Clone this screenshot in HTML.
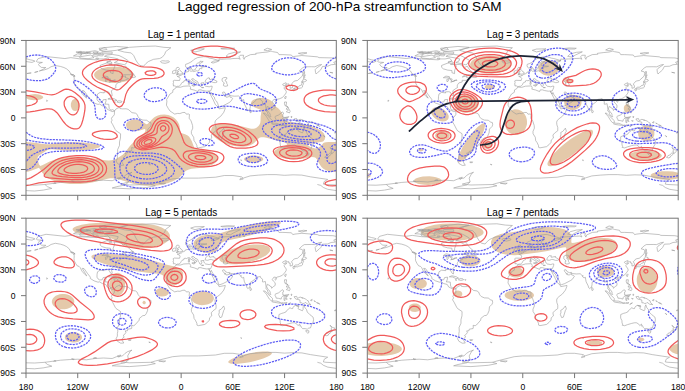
<!DOCTYPE html>
<html><head><meta charset="utf-8"><style>
html,body{margin:0;padding:0;background:#fff;}
svg{display:block;}
text{font-family:"Liberation Sans",sans-serif;fill:#000;}
.lab{font-size:8.6px;}
.pt{font-size:10px;}
.tt{font-size:13.6px;}
.tk{stroke:#767676;stroke-width:1;}
</style></head><body>
<svg width="685" height="391" viewBox="0 0 685 391">
<rect width="685" height="391" fill="#fff"/>
<g>
<text x="339.5" y="11.3" class="tt" text-anchor="middle">Lagged regression of 200-hPa streamfunction to SAM</text>
<clipPath id="c0"><rect x="0" y="0" width="310" height="155"/></clipPath>
<g transform="translate(26,40.45) scale(1.00097,0.99903)"><g clip-path="url(#c0)">
<path d="M113.1 144.7 L120.1 145.4 L127.9 145.4 L131.8 145.1 L135.6 144.5 L142.1 142.8 L147.2 140.8 L151.7 138.2 L154.8 135.6 L158.9 131.3 L159.8 130.5 L161.5 129.6 L162.8 129.1 L165.3 128.5 L175.7 127.4 L178.2 127.0 L182.1 126.0 L184.7 125.1 L187.3 123.7 L188.7 122.7 L189.9 121.6 L190.9 120.1 L191.3 118.8 L191.3 117.5 L191.0 116.2 L190.3 115.0 L189.1 113.7 L187.3 112.3 L183.4 110.6 L180.8 109.9 L177.0 109.2 L170.5 108.6 L169.2 108.1 L168.2 107.2 L167.5 105.9 L165.7 100.8 L164.0 97.8 L162.8 96.2 L161.5 95.2 L158.9 94.0 L155.6 93.0 L155.0 92.5 L154.5 91.7 L154.1 90.4 L153.3 85.2 L152.9 84.0 L151.6 81.4 L149.8 79.1 L148.5 77.9 L147.2 76.9 L144.7 75.5 L142.1 74.6 L138.2 74.0 L134.3 74.4 L131.8 75.1 L129.5 76.2 L127.9 77.2 L126.0 78.8 L122.7 82.5 L121.4 83.6 L120.1 83.8 L116.7 81.4 L115.0 80.5 L112.4 79.5 L111.1 79.3 L108.5 79.1 L105.9 79.4 L103.3 80.3 L102.0 81.1 L100.5 82.7 L99.9 84.0 L99.9 85.2 L100.3 86.5 L101.2 87.8 L102.9 89.1 L104.6 89.9 L105.9 90.3 L109.8 90.7 L113.7 90.1 L117.5 88.9 L118.8 88.7 L119.2 89.1 L119.3 90.4 L118.8 91.7 L116.6 94.3 L109.8 99.8 L105.9 103.3 L103.6 105.9 L99.5 111.4 L96.9 114.1 L94.3 116.0 L90.4 118.3 L87.8 119.3 L85.2 120.0 L82.7 120.2 L78.8 120.0 L63.3 117.3 L56.8 116.5 L49.1 116.2 L42.6 116.5 L38.8 116.9 L34.9 117.6 L28.4 119.3 L23.1 121.4 L16.8 124.6 L14.2 125.6 L12.9 123.9 L11.9 120.1 L11.6 117.5 L12.0 116.2 L13.3 115.0 L20.7 110.1 L22.0 109.5 L23.2 109.1 L25.8 108.9 L42.6 110.3 L49.1 110.4 L55.5 110.2 L63.3 109.5 L68.9 108.5 L73.1 107.2 L74.2 105.9 L72.5 104.6 L68.5 103.6 L63.3 102.8 L56.8 102.2 L47.8 102.0 L38.8 102.2 L32.3 102.7 L23.2 103.9 L20.7 104.0 L16.8 103.6 L9.0 102.4 L0.0 101.7 L0.0 131.6 L2.6 131.1 L5.0 130.5 L11.6 127.8 L12.9 127.5 L14.2 129.2 L15.7 131.8 L17.7 134.3 L20.7 136.9 L22.7 138.2 L27.1 140.3 L31.0 141.5 L36.2 142.7 L40.0 143.3 L43.9 143.7 L49.1 143.8 L54.2 143.7 L59.4 143.2 L63.3 142.7 L68.5 141.6 L81.4 138.4 L84.0 138.0 L86.5 137.9 L89.1 138.1 L91.7 138.7 L104.6 142.8 L108.5 143.8 L113.1 144.7Z M300.8 130.5 L302.2 131.0 L304.8 131.6 L307.4 131.7 L310.0 131.6 L310.0 101.7 L302.2 101.6 L299.7 101.8 L298.4 102.1 L297.1 102.7 L295.6 104.6 L293.2 106.7 L291.9 107.5 L290.6 107.9 L289.3 108.1 L288.0 107.9 L285.7 107.2 L282.9 105.9 L281.6 104.6 L284.4 103.3 L295.8 101.5 L297.1 101.0 L298.4 99.2 L298.9 96.9 L298.7 95.6 L298.2 94.3 L297.4 93.0 L296.2 91.7 L294.7 90.4 L292.7 89.1 L289.3 87.4 L285.5 85.9 L281.6 84.7 L276.4 83.4 L270.0 82.3 L263.2 81.4 L260.9 80.8 L259.1 80.1 L257.8 78.8 L257.1 77.5 L256.1 73.6 L255.5 72.3 L253.8 69.8 L251.9 67.9 L249.1 65.9 L248.0 64.6 L246.3 62.0 L245.1 60.7 L243.2 59.4 L241.5 58.7 L239.0 58.0 L236.4 57.7 L233.8 57.7 L231.2 58.1 L228.6 58.8 L227.3 59.4 L225.7 60.7 L224.9 62.0 L224.8 63.3 L225.3 64.6 L226.6 65.9 L228.6 67.1 L232.3 68.5 L233.8 69.2 L234.7 69.8 L235.2 71.0 L234.4 76.2 L234.3 80.1 L234.0 82.7 L233.5 84.0 L232.5 85.4 L231.2 86.7 L229.9 87.6 L228.6 88.2 L227.3 88.4 L224.8 88.3 L209.2 84.3 L202.8 83.3 L197.6 83.1 L195.0 83.2 L192.5 83.7 L189.9 84.4 L188.6 85.0 L186.4 86.5 L185.5 87.8 L185.0 89.1 L184.9 90.4 L185.1 91.7 L186.3 94.3 L188.5 96.9 L191.2 99.0 L195.0 101.4 L198.9 103.1 L202.8 104.4 L208.0 105.6 L213.1 106.2 L217.0 106.3 L220.9 105.8 L223.5 105.1 L226.0 104.0 L227.3 103.2 L228.7 102.0 L232.5 97.8 L233.8 97.1 L235.1 96.8 L237.7 97.0 L240.2 97.5 L257.6 102.0 L260.9 103.3 L260.4 104.6 L254.5 106.8 L251.9 108.0 L249.1 109.8 L248.0 111.1 L247.7 112.4 L248.2 113.7 L249.5 115.0 L251.9 116.2 L255.8 117.5 L259.6 118.3 L264.8 118.8 L270.0 118.8 L273.8 118.6 L277.7 118.1 L285.5 116.7 L288.0 116.9 L289.3 117.5 L290.6 118.8 L293.3 124.0 L295.2 126.6 L297.1 128.4 L298.4 129.3 L300.8 130.5Z M221.0 121.4 L223.5 122.1 L226.0 122.3 L228.6 122.3 L231.2 122.1 L232.5 121.8 L235.1 120.8 L236.3 120.1 L237.1 118.8 L236.4 117.4 L235.1 116.6 L232.5 115.7 L228.6 115.2 L226.0 115.2 L223.5 115.5 L222.2 115.8 L219.6 116.8 L218.4 117.5 L217.8 118.8 L218.5 120.1 L221.0 121.4Z M46.9 69.8 L47.8 70.4 L49.1 70.7 L50.4 70.4 L51.7 69.4 L52.4 68.5 L53.0 67.2 L53.3 65.9 L53.5 64.6 L53.3 63.3 L53.0 62.0 L52.4 60.7 L51.7 59.7 L50.4 58.8 L49.1 58.5 L47.8 58.8 L46.5 59.7 L45.8 60.7 L45.2 62.0 L44.8 63.3 L44.8 65.9 L45.8 68.5 L46.9 69.8Z M4.2 59.4 L7.8 59.9 L11.6 59.7 L14.2 59.1 L15.5 58.6 L16.4 58.1 L17.3 56.8 L16.4 55.5 L14.2 54.5 L12.9 54.2 L9.0 53.7 L5.2 54.0 L2.6 54.7 L1.3 55.3 L0.8 55.5 L0.0 56.8 L0.8 58.1 L2.6 59.0 L4.2 59.4Z M310.0 56.8 L310.0 56.8Z M87.8 42.6 L93.0 42.4 L96.9 41.7 L100.8 40.7 L103.3 39.5 L105.9 37.8 L107.2 36.2 L107.6 34.9 L107.5 33.6 L106.9 32.3 L105.8 31.0 L104.6 30.1 L101.2 28.4 L96.9 27.2 L91.7 26.4 L86.5 26.3 L81.4 26.7 L76.2 27.8 L72.3 29.4 L69.9 31.0 L68.7 32.3 L68.1 33.6 L68.0 34.9 L68.5 36.2 L69.8 37.8 L71.0 38.8 L73.4 40.0 L77.5 41.4 L82.7 42.4 L87.8 42.6Z" fill="#e4c9aa" stroke="none" fill-rule="evenodd"/>
<path d="M10.3 21.0 L12.1 18.2 L20.0 16.1 L38.8 18.1 L44.8 17.2 L54.2 18.5 L70.6 19.4 L73.2 18.5 L77.5 18.5 L81.8 17.7 L84.4 20.2 L80.9 22.4 L74.1 25.0 L74.1 26.9 L75.8 28.4 L80.1 29.7 L84.4 30.1 L84.4 32.3 L87.0 33.2 L87.1 30.1 L88.7 25.8 L87.8 23.9 L92.1 24.1 L95.2 25.0 L97.3 27.1 L99.5 25.6 L102.0 29.3 L105.9 32.7 L106.8 33.2 L103.3 34.3 L97.7 34.3 L94.7 36.6 L99.5 35.5 L99.0 37.0 L102.5 38.2 L98.2 40.0 L94.5 39.9 L94.7 41.5 L91.3 42.5 L90.0 44.3 L89.6 45.6 L90.0 47.1 L87.8 48.4 L85.2 50.4 L86.1 54.7 L85.8 55.8 L84.6 55.1 L82.7 51.7 L80.9 51.3 L77.9 51.5 L78.1 52.5 L74.1 52.0 L71.5 53.6 L71.0 56.0 L70.9 59.0 L71.9 60.7 L73.6 61.8 L76.2 61.6 L77.1 59.4 L80.1 59.0 L79.7 61.6 L78.8 63.7 L82.7 63.9 L83.1 68.0 L84.8 69.8 L86.5 69.3 L88.3 70.2 L88.4 70.7 L86.1 71.2 L81.2 68.9 L79.7 66.3 L76.2 65.4 L73.6 63.7 L71.9 64.0 L68.0 62.7 L64.2 60.3 L64.3 59.0 L61.6 55.5 L58.0 50.4 L56.2 50.2 L60.7 57.7 L58.6 56.1 L56.0 53.1 L54.2 49.5 L53.0 48.2 L51.2 47.7 L49.5 45.2 L48.2 42.6 L48.0 40.5 L48.2 37.6 L47.6 35.8 L49.1 35.7 L47.4 34.4 L44.8 33.6 L43.1 30.6 L40.5 28.4 L37.9 27.1 L34.4 26.0 L29.3 25.1 L25.0 26.3 L22.4 28.0 L18.9 29.3 L13.3 30.6 L17.2 28.8 L19.8 27.1 L15.5 27.0 L13.3 25.4 L12.5 24.1 L13.3 23.0 L16.4 22.0 L11.6 21.7 L10.3 21.0 M92.1 9.9 L97.3 8.2 L103.3 6.9 L116.2 6.0 L129.2 5.6 L137.8 6.9 L144.7 7.3 L139.5 11.2 L138.6 13.8 L136.1 16.8 L133.5 18.1 L127.4 18.9 L122.3 21.1 L119.7 23.2 L117.5 25.8 L113.7 25.0 L111.5 22.4 L109.8 19.8 L107.6 15.1 L105.1 12.5 L98.2 11.6 L92.1 9.9 M101.8 20.2 L99.5 23.7 L98.2 24.3 L88.3 22.1 L91.3 20.7 L92.1 18.5 L88.7 17.7 L78.4 15.9 L80.9 14.6 L86.1 14.0 L93.0 15.1 L96.4 16.8 L101.6 19.8 L101.8 20.2 M77.5 11.2 L90.4 9.9 L101.6 6.9 L90.4 6.0 L77.5 7.3 L73.2 9.5 L77.5 11.2 M53.4 16.4 L64.6 14.6 L68.0 17.2 L62.0 18.3 L54.2 17.7 L53.4 16.4 M47.4 15.5 L51.7 13.3 L56.0 14.2 L53.4 15.9 L47.4 15.5 M75.8 11.6 L86.1 11.6 L86.1 13.3 L75.8 13.3 L75.8 11.6 M60.3 11.6 L68.9 10.3 L72.3 11.2 L70.6 12.9 L64.6 12.9 L60.3 11.6 M51.7 12.1 L57.7 11.2 L62.0 12.5 L56.8 13.3 L51.7 12.1 M80.9 22.6 L86.1 22.8 L84.4 20.8 L80.9 21.1 L80.9 22.6 M103.9 36.5 L106.8 34.9 L107.2 33.2 L109.5 36.6 L107.2 37.2 L103.9 36.5 M88.4 70.6 L90.0 68.5 L92.1 67.6 L93.4 66.8 L93.9 68.2 L96.4 68.5 L99.9 68.4 L102.0 68.9 L105.9 72.3 L109.4 72.8 L111.1 74.1 L111.9 76.2 L112.8 77.5 L113.7 78.4 L116.7 79.7 L120.6 79.9 L123.1 81.8 L124.7 82.2 L125.0 84.4 L124.4 86.1 L121.8 88.7 L121.4 92.6 L120.1 95.6 L118.8 97.3 L116.7 97.5 L113.2 100.3 L113.1 102.0 L108.9 106.8 L107.6 107.6 L105.5 107.2 L105.7 108.9 L105.5 110.4 L101.6 111.1 L101.4 112.6 L99.0 112.8 L99.9 114.1 L98.6 116.2 L96.9 117.5 L98.2 118.7 L95.6 121.0 L96.2 122.5 L97.7 124.9 L94.7 125.1 L91.3 123.1 L90.0 120.6 L91.3 118.0 L91.3 115.4 L91.7 113.2 L91.5 109.4 L93.4 105.1 L93.4 101.6 L94.4 97.7 L94.5 93.4 L90.0 90.4 L89.1 89.1 L86.5 84.0 L85.0 81.6 L86.1 79.7 L85.3 78.4 L86.1 76.6 L87.1 76.0 L88.3 74.1 L88.4 70.6 M149.9 46.7 L154.1 46.9 L157.6 45.8 L163.6 45.5 L164.5 47.4 L164.0 48.7 L167.9 49.6 L171.8 51.2 L172.4 49.5 L174.8 49.5 L176.5 50.1 L180.4 50.8 L182.8 50.6 L183.0 51.8 L187.0 59.4 L189.2 64.2 L192.3 67.0 L192.9 68.5 L199.1 67.3 L198.9 68.5 L197.6 71.9 L194.6 75.8 L191.2 78.4 L189.4 80.1 L188.8 81.8 L189.0 84.4 L189.9 87.0 L189.9 90.4 L186.9 92.6 L185.1 94.7 L185.6 97.7 L183.4 99.7 L183.2 102.0 L181.3 104.2 L178.7 106.3 L172.2 107.5 L170.8 107.0 L170.7 105.1 L169.2 102.1 L167.9 100.3 L167.5 96.9 L165.3 93.4 L165.2 91.1 L166.6 87.8 L166.4 85.1 L164.9 80.5 L163.0 77.9 L163.3 74.1 L162.3 73.6 L160.2 73.8 L158.9 72.1 L156.7 72.1 L153.7 73.2 L151.6 73.0 L148.5 73.7 L143.8 70.6 L142.1 68.0 L140.3 64.8 L140.8 60.7 L140.4 59.4 L143.8 53.6 L146.6 51.9 L146.8 49.5 L149.1 48.2 L149.9 46.7 M197.5 87.8 L198.5 90.8 L197.6 92.1 L195.5 99.0 L193.8 99.5 L192.5 96.4 L193.1 94.3 L192.9 92.1 L195.0 91.0 L197.5 87.8 M150.2 46.5 L149.6 45.8 L148.5 45.5 L147.2 45.6 L147.4 44.2 L146.8 43.9 L147.4 42.2 L147.0 40.5 L148.1 39.9 L153.4 40.1 L154.0 37.9 L153.1 36.9 L151.0 35.9 L153.7 35.6 L153.6 34.8 L155.2 34.9 L156.4 33.7 L157.6 33.4 L158.9 32.7 L159.3 31.7 L162.5 31.1 L162.4 29.7 L162.1 28.6 L164.1 27.8 L164.0 28.8 L163.6 30.1 L164.5 30.8 L166.6 30.7 L167.5 31.2 L170.5 30.3 L171.8 30.7 L173.1 29.7 L173.1 28.4 L173.9 27.9 L175.5 28.4 L175.9 27.1 L175.2 26.5 L179.1 26.3 L180.8 25.8 L176.5 25.5 L174.4 25.8 L173.5 25.0 L173.5 23.2 L176.5 21.5 L177.0 21.1 L173.9 20.8 L173.3 22.1 L171.4 22.8 L170.1 23.8 L170.1 25.2 L171.2 26.0 L169.2 28.4 L169.2 29.1 L167.2 29.8 L166.0 29.6 L165.8 28.8 L164.7 27.1 L164.0 26.4 L161.0 27.6 L159.7 26.7 L159.3 25.0 L159.5 23.9 L161.9 23.1 L164.0 22.0 L166.2 20.7 L167.9 18.9 L171.4 17.2 L177.2 16.3 L179.5 16.4 L181.7 17.0 L183.4 17.7 L186.0 18.1 L193.1 20.2 L187.7 20.6 L185.0 22.0 L186.9 22.6 L189.4 21.9 L192.7 20.6 L192.9 18.5 L195.0 18.9 L200.6 18.5 L204.1 18.5 L206.7 18.1 L211.8 17.9 L214.0 18.8 L212.7 16.4 L214.0 14.8 L217.4 14.8 L217.0 17.2 L217.9 18.9 L218.7 16.8 L224.3 14.2 L229.9 13.8 L229.5 12.9 L235.9 12.1 L241.1 11.6 L244.8 10.6 L246.3 11.2 L251.4 12.1 L252.7 14.2 L256.6 14.2 L265.2 14.6 L266.5 16.4 L268.7 15.9 L275.6 15.1 L291.1 16.4 L292.8 17.2 L306.6 17.5 L310.0 18.2 M310.0 21.1 L307.4 21.8 L309.1 23.9 L304.8 24.3 L301.4 25.8 L296.2 26.0 L294.5 29.3 L292.8 31.0 L291.5 31.9 L289.9 33.6 L289.3 32.3 L288.9 29.3 L289.8 28.0 L295.4 24.1 L292.8 24.5 L288.5 26.4 L285.0 26.3 L278.1 26.4 L276.0 27.7 L273.0 30.6 L276.0 31.4 L276.7 32.7 L276.0 35.7 L271.2 40.1 L268.7 40.5 L267.4 41.1 L266.7 42.2 L265.2 43.5 L266.4 45.6 L266.3 47.2 L263.9 47.9 L263.9 45.0 L262.6 44.9 L262.4 43.4 L259.4 44.1 L260.1 42.6 L259.2 42.4 L257.9 43.2 L256.6 43.7 L256.4 44.3 L257.5 45.5 L258.8 45.0 L260.5 45.3 L258.6 46.5 L257.6 47.4 L260.0 50.9 L259.9 52.5 L258.3 54.7 L256.2 57.1 L253.4 58.3 L250.6 59.0 L249.7 59.9 L249.3 59.0 L247.6 59.0 L246.0 61.4 L247.1 62.9 L248.9 64.6 L249.0 67.2 L247.1 68.5 L245.4 70.1 L245.2 68.6 L243.7 68.0 L243.1 67.0 L241.9 66.6 L241.1 66.0 L240.4 68.6 L242.0 71.6 L243.3 72.5 L244.0 74.1 L244.1 75.3 L244.7 76.3 L244.0 76.4 L242.2 75.0 L241.4 73.0 L241.3 71.9 L239.7 70.6 L239.9 68.9 L239.1 63.3 L236.8 63.9 L236.2 63.7 L236.4 61.1 L234.5 59.7 L234.1 58.2 L232.9 58.6 L229.9 59.0 L229.5 60.3 L225.9 63.2 L224.1 64.2 L224.1 66.3 L223.7 68.6 L221.7 70.5 L220.9 69.8 L220.2 67.6 L218.2 63.7 L217.7 61.1 L217.5 59.2 L216.0 59.7 L214.4 58.3 L215.4 57.8 L214.0 57.2 L212.3 55.6 L208.4 55.8 L204.5 55.4 L203.6 54.2 L201.5 54.5 L199.3 53.5 L198.2 51.7 L196.8 51.7 L196.3 52.1 L196.8 53.4 L198.2 54.9 L198.7 56.2 L199.1 55.0 L199.8 56.8 L201.9 56.6 L203.2 55.5 L203.5 54.9 L203.7 56.7 L205.4 57.2 L206.5 58.1 L204.5 61.1 L202.8 62.3 L196.9 65.4 L193.8 66.5 L192.5 66.6 L191.6 63.3 L190.3 60.7 L188.6 59.0 L188.2 56.8 L186.4 55.1 L185.1 52.1 L184.5 53.6 L183.8 53.2 L183.0 51.8 L182.8 50.6 L184.5 50.5 L185.8 47.4 L186.0 45.8 L184.7 45.8 L183.0 46.4 L179.4 45.8 L178.5 45.0 L177.8 43.9 L177.6 43.1 L177.8 42.3 L174.7 42.6 L175.7 44.6 L174.8 46.1 L173.7 45.8 L173.2 44.5 L172.2 43.3 L171.7 41.5 L170.9 40.9 L168.8 40.0 L167.9 38.8 L166.8 38.2 L165.6 38.5 L165.7 39.6 L168.8 41.8 L170.9 43.0 L169.6 43.9 L169.3 44.8 L168.4 44.8 L168.5 43.1 L164.0 40.6 L163.6 39.6 L162.3 39.4 L160.2 40.4 L158.9 40.0 L157.7 40.5 L157.8 41.4 L155.8 42.2 L155.0 43.5 L154.7 44.3 L153.7 45.2 L152.8 45.9 L151.1 45.9 L150.2 46.5 M0.0 18.2 L4.3 19.4 L6.9 19.9 L8.9 20.7 L6.0 22.0 L0.0 21.1 M179.1 41.8 L180.0 42.0 L181.7 42.1 L183.7 41.3 L185.1 41.3 L187.7 42.2 L189.4 42.2 L190.7 41.8 L190.8 40.9 L187.3 39.0 L187.7 38.3 L185.1 38.8 L183.9 39.2 L183.0 38.5 L183.8 37.9 L181.7 37.4 L179.6 39.6 L179.1 40.9 L179.1 41.8 M197.2 37.4 L198.9 37.0 L200.6 37.2 L200.6 38.6 L199.2 39.2 L198.9 40.5 L200.4 41.3 L200.6 43.1 L201.3 44.3 L201.4 45.5 L198.9 45.9 L197.2 45.2 L197.5 43.1 L198.3 42.8 L197.2 41.9 L196.0 40.6 L195.9 39.6 L195.9 38.2 L197.2 37.4 M150.1 34.4 L152.4 33.8 L156.1 33.5 L156.5 32.2 L155.2 31.5 L154.9 30.7 L153.3 29.4 L152.2 29.2 L153.4 28.0 L152.4 27.0 L150.7 27.0 L149.7 28.8 L150.9 30.3 L152.1 30.6 L152.4 31.5 L151.0 31.6 L151.4 32.5 L150.5 33.0 L152.4 33.3 L150.1 34.4 M149.8 32.5 L149.7 31.1 L150.1 30.4 L148.7 29.8 L146.4 30.8 L146.5 31.9 L146.1 32.8 L147.2 33.2 L149.8 32.5 M135.5 22.4 L134.3 21.1 L136.1 20.3 L139.5 20.6 L142.5 20.4 L143.3 21.5 L142.1 22.1 L138.9 22.9 L135.5 22.4 M164.5 9.9 L168.8 8.6 L178.2 8.4 L173.9 10.3 L168.8 11.5 L164.5 9.9 M199.8 15.9 L204.1 16.7 L207.5 14.6 L214.4 11.4 L208.4 11.9 L202.4 13.5 L199.8 15.9 M237.7 9.5 L241.1 7.8 L245.4 9.0 L241.1 10.3 L237.7 9.5 M272.1 12.9 L277.3 12.1 L280.7 12.5 L275.6 13.8 L272.1 12.9 M267.7 48.2 L269.1 46.9 L272.1 46.7 L273.2 45.2 L275.1 44.8 L275.6 43.1 L275.6 41.8 L276.8 41.9 L277.3 43.5 L276.4 44.8 L276.2 46.7 L275.4 47.4 L272.5 48.0 L271.2 48.7 L267.7 48.2 M266.6 48.7 L267.8 48.3 L268.6 49.5 L267.8 50.6 L267.1 50.5 L266.6 48.7 M275.6 41.8 L276.4 41.5 L278.6 41.3 L280.3 40.2 L279.9 39.4 L277.1 38.4 L276.7 40.2 L275.6 40.6 L275.6 41.8 M277.3 37.9 L278.6 37.2 L278.1 35.1 L279.0 35.2 L278.3 33.2 L278.3 31.4 L277.7 30.7 L277.3 37.9 M258.4 57.7 L259.2 58.6 L260.0 56.4 L259.6 55.7 L258.5 56.8 L258.4 57.7 M248.5 61.1 L250.2 60.2 L250.6 60.6 L249.3 61.8 L248.5 61.1 M258.3 61.6 L260.3 61.6 L260.1 63.7 L259.6 65.2 L261.8 66.7 L260.9 66.0 L258.9 65.4 L258.2 63.4 L258.3 61.6 M260.1 71.5 L261.3 70.2 L263.1 69.1 L263.9 71.0 L263.1 72.6 L261.8 71.9 L260.1 71.5 M260.1 68.9 L261.8 68.9 L262.6 67.6 L261.8 66.7 L260.5 67.6 L260.1 68.9 M223.7 69.1 L224.1 69.2 L225.4 71.0 L224.9 72.2 L224.0 72.3 L223.7 70.6 L223.7 69.1 M237.1 72.7 L239.0 73.0 L241.4 75.6 L246.3 80.3 L246.1 82.5 L245.0 82.6 L243.1 80.9 L240.1 76.0 L237.1 72.7 M245.6 83.4 L246.7 82.7 L248.3 82.9 L250.6 83.0 L253.7 84.1 L253.5 85.0 L248.0 84.2 L246.6 83.9 L245.6 83.4 M248.9 76.2 L249.4 75.8 L252.3 74.7 L254.5 73.0 L255.8 71.5 L257.7 72.9 L256.6 73.8 L256.5 76.6 L257.5 76.7 L257.3 77.9 L256.2 78.2 L255.3 79.2 L254.9 80.9 L252.3 80.2 L249.9 80.0 L249.7 78.8 L248.9 77.5 L248.9 76.2 M257.9 82.2 L258.8 82.3 L258.7 79.9 L259.2 79.8 L260.5 81.5 L260.9 80.9 L259.6 79.0 L261.2 78.3 L259.2 78.3 L258.6 77.1 L260.9 76.7 L262.6 76.2 L262.0 77.2 L259.2 77.2 L258.3 76.9 L257.7 80.5 L257.9 82.2 M267.8 78.6 L270.4 78.2 L271.2 80.3 L273.8 78.9 L279.4 80.8 L280.7 82.2 L282.0 82.7 L282.4 84.4 L284.6 86.5 L281.6 86.1 L279.0 84.2 L278.1 85.2 L276.4 85.3 L275.1 84.6 L273.8 84.7 L273.7 81.8 L269.5 80.9 L267.8 78.6 M261.8 86.4 L264.4 84.7 L262.6 85.4 L261.8 86.4 M252.7 96.4 L252.6 99.9 L253.9 102.5 L254.0 104.6 L254.6 106.3 L254.0 107.0 L256.6 107.6 L259.2 106.6 L263.5 105.3 L266.1 104.7 L268.2 104.6 L270.4 105.7 L271.7 107.5 L273.4 105.9 L273.7 108.1 L274.3 107.5 L275.3 109.4 L276.4 110.5 L279.0 110.5 L281.0 111.1 L282.4 110.0 L284.2 109.8 L285.3 106.6 L286.8 104.2 L287.3 101.6 L286.8 99.0 L283.7 96.6 L281.0 93.9 L280.2 91.3 L278.7 89.6 L277.7 86.7 L276.9 88.7 L276.8 91.3 L276.1 92.6 L272.7 91.1 L271.7 90.4 L272.7 88.1 L269.2 87.3 L267.8 88.0 L266.9 88.9 L266.5 90.4 L265.2 90.4 L263.7 89.6 L262.6 90.4 L261.3 92.0 L260.3 92.6 L259.6 93.9 L257.5 94.7 L255.6 95.2 L252.7 96.4 M279.5 112.5 L282.7 112.7 L282.4 114.7 L281.4 115.0 L280.0 113.8 L279.5 112.5 M303.7 107.1 L306.4 109.4 L308.7 110.0 L307.8 111.3 L306.0 113.3 L305.4 113.0 L305.7 111.6 L304.7 111.3 L305.3 109.5 L303.7 107.1 M303.7 112.4 L305.1 113.1 L304.5 114.4 L303.8 115.0 L302.4 115.8 L302.0 117.0 L300.5 117.6 L298.4 117.1 L299.7 115.4 L301.8 114.5 L303.1 113.3 L303.7 112.4 M0.0 144.7 L8.6 144.9 L18.9 144.2 L34.4 142.1 L43.1 141.5 L51.7 141.1 L60.3 141.7 L68.9 140.4 L77.5 139.9 L86.1 140.4 L90.4 138.6 L96.4 137.8 L99.0 135.2 L101.6 133.5 L105.9 132.0 L104.2 133.0 L101.6 137.8 L102.5 141.7 L94.7 143.8 L103.3 144.7 L124.9 144.2 L129.2 142.9 L146.4 138.6 L155.0 137.8 L172.2 137.8 L189.4 136.9 L198.1 135.2 L206.7 135.2 L215.3 136.5 L217.0 137.8 L223.9 135.6 L232.5 134.8 L241.1 134.3 L249.7 134.3 L258.3 135.0 L266.9 134.5 L275.6 134.8 L284.2 136.5 L301.4 139.1 L297.9 141.2 L297.1 143.8 L299.7 144.2 L310.0 144.7 M81.8 58.6 L84.4 57.6 L88.7 58.6 L91.1 60.1 L88.3 60.4 L85.2 58.9 L81.8 58.6 M90.8 61.6 L92.6 60.4 L95.2 60.6 L96.0 61.6 L93.4 62.3 L90.8 61.6 M75.8 37.3 L82.2 37.5 L81.8 36.2 L78.4 35.7 L75.8 37.3 M79.7 41.6 L79.2 39.2 L81.8 38.1 L80.7 40.5 L79.7 41.6 M82.2 38.1 L84.0 40.5 L84.6 38.6 L82.2 38.1 M83.1 41.6 L87.0 40.6 L83.1 41.6 M86.3 40.2 L89.4 40.0 L89.1 39.4 L86.3 40.2 M54.2 12.5 L60.3 11.8 L64.6 12.5 L60.3 13.3 L54.2 12.5 M49.9 11.6 L55.1 10.9 L56.0 11.8 L51.7 12.1 L49.9 11.6 M67.2 11.6 L70.6 11.6 L71.5 12.9 L68.0 12.9 L67.2 11.6 M71.5 12.5 L74.9 12.5 L74.9 13.2 L71.5 13.2 L71.5 12.5 M72.3 14.0 L77.5 13.9 L76.6 15.5 L73.2 15.3 L72.3 14.0 M67.2 14.2 L71.5 14.2 L72.3 15.5 L68.9 15.9 L66.3 15.1 L67.2 14.2 M69.8 17.7 L72.3 17.7 L72.3 18.5 L69.8 18.5 L69.8 17.7 M73.2 7.8 L79.2 7.3 L80.9 9.0 L75.8 9.9 L73.2 8.6 L73.2 7.8 M82.7 23.7 L85.2 23.4 L86.1 24.1 L83.5 24.1 L82.7 23.7 M194.6 8.2 L201.5 7.5 L208.4 7.8 L206.7 8.6 L196.3 8.6 L194.6 8.2 M44.5 33.8 L47.4 34.4 L48.8 35.8 L47.6 35.6 L44.8 34.2 L44.5 33.8 M165.8 44.7 L168.4 44.5 L168.0 45.9 L165.7 45.0 L165.8 44.7 M162.2 42.2 L163.4 42.2 L163.3 43.9 L162.2 43.9 L162.2 42.2 M162.4 40.5 L163.2 40.5 L163.1 41.9 L162.5 41.7 L162.4 40.5 M175.2 46.9 L177.6 47.2 L175.7 47.4 L175.2 46.9 M102.2 121.6 L105.1 121.6 L104.6 122.3 L102.5 122.3 L102.2 121.6 M87.6 61.6 L89.3 61.8 L88.7 62.2 L87.6 61.6 M97.1 61.6 L98.5 61.7 L98.2 62.0 L97.1 61.6 M20.7 59.6 L21.5 60.3 L20.8 61.1 L20.7 59.6 M12.1 31.0 L8.6 32.0 L12.1 31.0 M5.2 32.5 L0.9 33.1 L5.2 32.5 M303.5 31.9 L306.6 32.5 L303.5 31.9 M214.4 119.7 L215.7 119.9 L215.3 120.3 L214.4 119.7 M122.7 124.0 L124.0 124.2 L124.2 124.7 L122.7 124.0 M269.5 87.3 L272.5 87.7 L271.7 88.3 L269.5 87.3 M284.2 82.2 L285.9 81.2 L285.5 82.7 L284.2 82.2 M287.6 82.7 L289.3 83.5 L287.6 82.7 M290.2 84.4 L293.6 86.1 L292.8 85.2 L290.2 84.4 M297.1 95.2 L298.8 96.4 L297.9 96.2 L297.1 95.2 M308.3 92.1 L309.6 91.7 L308.7 93.0 L308.3 92.1 M254.0 84.6 L254.9 84.9 L256.6 84.7 L257.5 85.0 L254.9 85.2 L254.0 84.6 M257.9 84.8 L260.9 84.6 L259.2 85.2 L257.9 84.8 M263.5 80.3 L265.2 80.5 L264.4 80.9 L263.5 80.3 M264.8 76.0 L265.7 76.2 L265.2 77.5 L264.8 76.0 M275.6 79.7 L276.4 79.7 L276.0 80.1 L275.6 79.7 M291.1 144.2 L294.5 145.1 L297.1 147.2 L301.4 149.0 L310.0 150.3 M0.0 150.3 L8.6 150.7 L17.2 149.8 L25.8 148.1 L21.5 146.4 L18.9 144.2 M102.5 141.7 L99.0 144.7 L90.4 146.4 L86.1 147.7 L103.3 148.5 L120.6 147.2 L129.2 145.5 L124.9 144.2 M94.7 136.9 L93.0 139.1 L91.3 137.8 L94.7 136.9 M68.9 139.5 L70.6 139.9 L67.2 140.2 L68.9 139.5 M45.6 140.6 L48.2 141.1 L47.4 141.5 L45.6 140.6 M28.4 142.5 L30.1 142.9 L27.6 143.2 L28.4 142.5 M132.6 142.9 L137.8 143.8 L139.5 142.9 L132.6 142.9 M214.4 137.8 L217.0 138.6 L213.6 139.5 L214.4 137.8" fill="none" stroke="#9a9a9a" stroke-width="0.6"/>
<path d="M0.0 145.4 L3.9 144.7 L12.9 142.6 L24.5 141.3 L33.6 141.0 L47.8 141.8 L54.2 141.9 L60.7 141.4 L65.9 140.5 L68.5 139.9 L72.3 138.4 L74.9 137.0 L76.8 135.6 L78.8 133.5 L79.8 131.8 L80.2 130.5 L80.5 127.9 L80.1 125.9 L79.2 124.0 L77.1 121.4 L75.5 120.1 L73.6 119.0 L69.8 117.3 L64.6 116.1 L58.1 115.4 L50.4 115.4 L42.6 116.0 L36.2 117.3 L32.3 118.6 L29.7 119.7 L25.8 122.1 L17.7 129.2 L11.6 133.5 L5.2 137.3 L2.6 138.3 L0.0 139.0 M310.0 139.0 L302.0 140.8 L299.3 142.1 L298.7 143.4 L300.1 144.7 L302.2 145.3 L306.1 145.6 L310.0 145.4 M167.0 125.3 L171.8 126.2 L178.2 126.5 L184.7 126.0 L189.9 124.7 L192.5 123.7 L194.2 122.7 L195.8 121.4 L196.8 120.1 L197.4 118.8 L197.7 117.5 L197.5 116.2 L197.0 115.0 L195.8 113.7 L195.0 113.1 L193.6 112.4 L191.2 111.6 L187.3 110.7 L173.1 108.7 L167.9 107.7 L166.0 107.2 L162.3 105.9 L160.1 104.6 L158.8 103.3 L157.9 102.0 L155.1 94.3 L151.7 86.5 L150.4 84.0 L148.4 81.4 L147.0 80.1 L145.1 78.8 L143.4 77.9 L139.5 77.0 L136.9 76.9 L134.3 77.4 L131.8 78.5 L130.5 79.3 L128.5 81.4 L127.0 84.0 L125.3 87.8 L124.5 89.1 L123.4 90.4 L121.7 91.7 L112.4 97.0 L109.8 99.1 L108.6 100.8 L108.1 102.0 L107.9 103.3 L108.1 104.6 L108.6 105.9 L109.6 107.2 L111.1 108.2 L113.7 109.1 L116.2 109.5 L120.1 109.4 L124.0 108.9 L131.8 107.3 L135.6 106.9 L138.2 107.0 L140.8 107.3 L143.4 107.9 L146.0 108.8 L147.7 109.8 L149.1 111.1 L153.3 117.5 L155.9 120.1 L158.9 122.2 L161.5 123.5 L164.0 124.5 L167.0 125.3 M258.0 120.1 L262.2 121.0 L267.4 121.3 L272.5 121.0 L276.4 120.2 L280.3 118.7 L282.9 117.1 L283.9 116.2 L284.9 115.0 L285.5 113.7 L285.5 112.4 L285.1 111.1 L284.2 110.0 L282.1 108.5 L278.8 107.2 L273.8 106.2 L268.7 105.6 L262.2 105.5 L257.0 105.9 L251.9 106.9 L249.3 107.9 L248.0 108.9 L247.3 109.8 L247.1 111.1 L247.5 112.4 L248.2 113.7 L249.2 115.0 L251.9 117.3 L254.5 118.8 L258.0 120.1 M207.4 107.2 L210.5 107.7 L213.1 107.9 L219.6 107.7 L223.5 107.2 L226.0 106.7 L228.6 105.9 L229.9 105.2 L230.7 104.6 L231.6 103.3 L231.7 102.0 L231.4 100.8 L230.0 98.2 L229.0 96.9 L226.5 94.3 L222.2 90.9 L217.0 87.9 L211.8 85.8 L205.4 84.1 L198.9 83.3 L195.0 83.3 L192.5 83.5 L189.9 83.9 L187.3 84.7 L186.0 85.3 L184.2 86.5 L183.3 87.8 L183.1 89.1 L183.6 90.4 L184.6 91.7 L186.0 93.0 L200.2 104.1 L204.1 106.2 L207.4 107.2 M74.5 98.2 L77.5 98.7 L81.4 99.0 L84.0 99.0 L86.5 98.7 L88.8 98.2 L90.4 97.2 L90.9 96.9 L91.2 95.6 L90.6 94.3 L89.4 93.0 L87.3 91.7 L85.2 90.9 L81.4 90.3 L78.8 90.3 L74.9 90.6 L71.0 91.3 L68.5 92.0 L66.5 93.0 L66.3 94.3 L67.6 95.6 L70.2 96.9 L74.5 98.2 M0.0 71.7 L3.9 71.4 L9.0 70.8 L20.7 68.5 L23.2 68.4 L25.8 68.8 L28.4 70.1 L30.9 72.3 L32.3 74.1 L37.5 81.4 L39.7 84.0 L41.3 85.4 L42.6 86.4 L45.2 87.8 L47.8 88.5 L50.4 88.6 L51.7 88.3 L53.0 87.7 L54.2 86.4 L55.5 83.8 L56.8 79.6 L57.9 74.9 L58.8 69.8 L59.0 67.2 L58.9 64.6 L58.1 62.0 L57.4 60.7 L55.5 58.1 L53.0 55.5 L49.1 52.3 L45.2 49.9 L42.6 48.9 L40.0 48.8 L38.8 49.0 L37.5 49.5 L32.3 52.4 L29.7 53.6 L28.4 54.0 L25.8 54.4 L22.0 54.1 L9.0 51.4 L0.0 50.1 M91.4 65.9 L93.0 66.4 L94.3 66.2 L95.6 65.5 L96.4 64.6 L97.8 62.0 L99.7 54.2 L101.4 50.4 L103.2 47.8 L104.6 46.3 L107.2 43.9 L111.1 40.7 L113.7 39.2 L116.2 38.5 L118.8 38.2 L127.9 37.9 L131.8 37.4 L134.3 36.6 L135.5 36.2 L136.9 35.1 L137.9 33.6 L137.9 32.3 L137.3 31.0 L136.0 29.7 L134.3 28.7 L130.5 27.4 L125.3 26.6 L117.5 26.5 L115.0 26.3 L112.4 25.6 L105.9 22.7 L102.0 21.3 L96.9 20.1 L90.4 19.3 L86.5 19.1 L82.7 19.3 L77.5 19.8 L73.6 20.5 L69.8 21.6 L67.2 22.6 L63.3 24.4 L60.7 26.1 L58.1 28.4 L57.1 29.7 L56.6 31.0 L56.4 32.3 L56.5 33.6 L57.0 34.9 L57.8 36.2 L58.8 37.5 L61.4 40.0 L66.4 43.9 L71.0 46.6 L78.8 50.2 L81.4 51.9 L82.7 53.1 L84.5 55.5 L87.8 61.7 L89.1 63.7 L90.4 65.2 L91.4 65.9 M261.5 49.1 L264.8 49.9 L267.4 50.0 L268.7 49.8 L270.7 49.1 L271.5 47.8 L270.8 46.5 L268.7 45.4 L266.1 44.9 L263.5 44.9 L262.0 45.2 L259.9 46.5 L259.9 47.8 L261.5 49.1 M310.0 50.1 L303.5 49.7 L297.1 49.8 L291.9 50.4 L286.8 51.5 L282.8 53.0 L280.3 54.6 L279.4 55.5 L278.5 56.8 L278.0 58.1 L277.8 59.4 L277.9 60.7 L278.3 62.0 L279.1 63.3 L280.2 64.6 L282.9 66.5 L287.0 68.5 L291.9 70.0 L298.4 71.2 L303.5 71.6 L310.0 71.7 M187.1 16.8 L192.5 17.2 L196.3 17.2 L200.2 17.0 L202.8 16.6 L206.7 15.5 L209.3 14.2 L210.5 12.9 L210.7 11.6 L209.9 10.3 L208.0 9.0 L206.7 8.5 L202.8 7.3 L197.6 6.4 L191.2 5.8 L184.7 5.8 L178.2 6.3 L173.1 7.2 L171.0 7.8 L167.9 9.0 L166.1 10.3 L166.0 11.6 L167.4 12.9 L170.9 14.2 L174.4 14.9 L177.4 15.5 L187.1 16.8 M32.3 138.2 L45.2 139.2 L53.0 139.4 L59.4 139.0 L65.9 137.8 L68.5 136.9 L71.0 135.8 L73.3 134.3 L74.7 133.0 L75.7 131.8 L76.4 130.5 L76.7 129.2 L76.7 127.9 L76.5 126.6 L76.0 125.3 L75.1 124.0 L73.8 122.7 L72.0 121.4 L68.5 119.7 L63.3 118.3 L58.1 117.6 L51.7 117.4 L45.2 118.0 L40.0 119.0 L36.3 120.1 L33.6 121.2 L31.0 122.6 L28.9 124.0 L25.8 126.5 L23.0 129.2 L20.4 131.8 L18.4 134.3 L18.2 135.6 L19.5 136.9 L23.2 137.6 L32.3 138.2 M174.1 124.0 L178.2 124.0 L182.1 123.5 L185.6 122.7 L188.7 121.4 L190.5 120.1 L191.4 118.8 L191.7 117.5 L191.4 116.2 L189.9 114.6 L187.3 113.3 L183.4 112.2 L177.0 111.1 L169.2 110.3 L165.3 110.3 L161.5 110.7 L160.2 111.1 L158.9 111.8 L158.2 112.4 L157.6 113.2 L157.3 113.7 L157.1 115.0 L157.3 116.2 L157.9 117.5 L159.0 118.8 L160.6 120.1 L162.8 121.4 L166.6 122.8 L170.5 123.7 L174.1 124.0 M260.2 117.5 L263.5 118.2 L267.4 118.5 L271.2 118.3 L273.8 117.9 L276.4 117.2 L279.0 115.9 L280.2 115.0 L281.0 113.7 L281.2 112.4 L280.5 111.1 L279.0 109.8 L276.4 108.7 L273.8 108.0 L270.0 107.5 L266.1 107.3 L262.2 107.6 L258.3 108.3 L257.0 108.7 L254.8 109.8 L253.6 111.1 L253.3 112.4 L253.8 113.7 L254.9 115.0 L257.0 116.3 L260.2 117.5 M113.1 107.2 L115.0 107.9 L116.2 108.1 L118.8 108.2 L121.4 107.9 L125.3 107.1 L128.8 105.9 L133.0 104.0 L136.8 102.0 L140.8 99.5 L142.2 98.2 L144.2 95.6 L145.5 93.0 L145.8 91.7 L146.2 89.1 L146.1 87.8 L145.4 85.2 L144.7 84.0 L143.6 82.7 L142.1 81.4 L140.8 80.8 L138.2 80.2 L135.6 80.3 L134.3 80.7 L133.0 81.3 L131.8 82.2 L130.5 83.6 L129.5 85.2 L127.9 89.8 L126.7 91.7 L124.8 93.0 L120.1 95.0 L116.2 97.0 L113.7 98.8 L111.8 100.8 L111.1 102.0 L110.8 103.3 L110.8 104.6 L111.5 105.9 L113.1 107.2 M210.0 104.6 L214.4 105.0 L218.3 104.8 L220.9 104.3 L223.5 103.1 L224.8 101.8 L225.2 100.8 L225.1 99.5 L224.7 98.2 L223.9 96.9 L221.4 94.3 L218.3 92.1 L214.4 90.0 L210.5 88.6 L205.4 87.3 L200.2 86.8 L196.3 87.0 L193.3 87.8 L191.3 89.1 L190.6 90.4 L190.7 91.7 L191.3 93.0 L192.3 94.3 L195.0 96.9 L198.9 99.9 L202.8 102.3 L206.7 103.8 L210.0 104.6 M44.0 73.6 L45.2 74.3 L46.5 74.6 L47.8 74.5 L49.6 73.6 L50.4 72.9 L51.7 70.9 L52.6 68.5 L53.0 65.9 L52.8 63.3 L52.4 62.0 L51.8 60.7 L50.9 59.4 L49.6 58.1 L47.8 56.8 L45.2 56.0 L43.9 56.0 L42.6 56.4 L41.3 57.0 L40.1 58.1 L39.1 59.4 L38.4 60.7 L38.1 62.0 L38.2 64.6 L38.5 65.9 L39.7 68.5 L41.3 71.1 L42.6 72.5 L44.0 73.6 M0.0 65.7 L3.9 65.1 L5.8 64.6 L7.8 63.8 L8.9 63.3 L10.5 62.0 L11.2 60.7 L11.0 59.4 L9.9 58.1 L7.7 56.8 L3.8 55.5 L0.0 54.9 M310.0 54.9 L306.1 54.6 L303.5 54.6 L301.0 54.9 L297.4 55.5 L294.3 56.8 L292.7 58.1 L292.1 59.4 L292.2 60.7 L293.1 62.0 L294.9 63.3 L298.0 64.6 L301.0 65.3 L303.5 65.6 L307.4 65.8 L310.0 65.7 M89.2 49.1 L90.4 49.5 L91.7 49.5 L93.0 49.1 L94.3 48.3 L100.5 42.6 L104.0 38.8 L105.7 36.2 L106.1 34.9 L106.2 33.6 L105.9 32.3 L105.0 31.0 L103.7 29.7 L102.0 28.4 L99.7 27.1 L95.6 25.7 L90.4 24.7 L85.2 24.5 L80.1 25.0 L74.9 26.3 L72.9 27.1 L70.4 28.4 L68.7 29.7 L67.4 31.0 L66.5 32.3 L66.0 33.6 L65.8 34.9 L66.1 36.2 L66.7 37.5 L68.5 39.4 L69.8 40.3 L72.3 41.8 L81.4 45.4 L89.2 49.1 M123.4 34.9 L125.9 34.9 L127.9 34.4 L129.5 33.6 L129.8 32.3 L128.3 31.0 L126.6 30.5 L124.0 30.4 L120.7 31.0 L119.0 32.3 L119.5 33.6 L121.4 34.4 L123.4 34.9 M41.9 136.9 L49.1 137.3 L55.5 137.2 L60.7 136.6 L64.8 135.6 L68.5 134.1 L70.1 133.0 L71.5 131.8 L72.3 130.5 L72.8 129.2 L72.9 127.9 L72.6 126.6 L71.8 125.3 L71.0 124.4 L68.9 122.7 L65.9 121.3 L60.7 120.0 L55.5 119.4 L50.4 119.5 L45.2 120.1 L39.7 121.4 L34.9 123.5 L32.3 125.0 L30.2 126.6 L27.7 129.2 L26.7 130.5 L26.1 131.8 L26.1 133.0 L27.3 134.3 L31.0 135.6 L36.2 136.3 L41.9 136.9 M169.9 121.4 L173.1 121.9 L175.7 121.9 L178.2 121.8 L180.8 121.4 L184.2 120.1 L185.8 118.8 L186.3 117.5 L185.9 116.2 L184.2 115.0 L180.8 113.7 L177.0 113.0 L173.1 112.6 L169.2 112.6 L166.6 113.0 L164.5 113.7 L162.8 115.0 L162.3 116.2 L162.7 117.5 L163.8 118.8 L165.9 120.1 L169.9 121.4 M262.3 115.0 L264.8 115.6 L267.4 115.9 L271.2 115.6 L273.5 115.0 L275.1 113.9 L275.4 113.7 L275.8 112.4 L274.7 111.1 L271.2 109.9 L267.4 109.5 L264.0 109.8 L262.2 110.3 L260.5 111.1 L259.7 112.4 L260.2 113.7 L262.3 115.0 M114.4 105.9 L116.2 106.7 L117.5 106.9 L121.4 106.7 L125.3 105.7 L127.7 104.6 L129.9 103.3 L131.5 102.0 L132.7 100.8 L135.6 96.3 L136.6 95.6 L139.5 93.8 L140.8 92.7 L141.7 91.7 L142.4 90.4 L142.8 89.1 L142.9 87.8 L142.7 86.5 L142.1 85.2 L140.8 83.8 L139.5 83.0 L138.2 82.6 L136.9 82.5 L135.6 82.8 L134.3 83.3 L133.4 84.0 L132.3 85.2 L131.6 86.5 L131.1 89.1 L131.0 91.7 L130.5 93.1 L128.6 94.3 L122.7 95.8 L120.1 96.8 L117.5 98.0 L115.5 99.5 L114.2 100.8 L113.7 101.6 L113.4 102.0 L113.0 103.3 L113.3 104.6 L114.4 105.9 M210.7 102.0 L213.1 102.2 L215.7 102.0 L217.0 101.6 L218.6 100.8 L219.6 99.5 L219.6 98.2 L219.0 96.9 L218.0 95.6 L216.5 94.3 L214.5 93.0 L211.7 91.7 L208.0 90.5 L205.4 90.0 L202.8 89.8 L200.2 90.0 L198.4 90.4 L196.6 91.7 L196.4 93.0 L196.8 94.3 L197.8 95.6 L200.7 98.2 L202.8 99.5 L205.4 100.7 L208.0 101.5 L210.7 102.0 M83.9 40.0 L86.5 40.8 L89.1 41.1 L91.7 40.7 L93.0 40.1 L94.8 38.8 L95.8 37.5 L96.3 36.2 L96.4 34.9 L96.0 33.6 L94.9 32.3 L93.0 31.1 L91.7 30.6 L89.1 30.1 L86.5 29.9 L84.0 30.1 L81.4 30.7 L80.1 31.3 L78.4 32.3 L77.4 33.6 L77.2 34.9 L77.7 36.2 L78.9 37.5 L80.1 38.2 L83.9 40.0 M37.6 134.3 L42.6 135.0 L49.1 135.4 L54.2 135.3 L59.4 134.6 L63.3 133.4 L66.3 131.8 L67.6 130.5 L68.2 129.2 L68.4 127.9 L67.9 126.6 L67.0 125.3 L65.9 124.4 L63.3 123.1 L60.7 122.3 L56.8 121.6 L53.0 121.4 L49.1 121.6 L45.2 122.2 L40.0 123.8 L36.9 125.3 L34.9 126.6 L33.4 127.9 L32.4 129.2 L31.8 130.5 L32.0 131.8 L32.3 132.1 L33.6 133.1 L37.6 134.3 M171.1 118.8 L174.4 119.3 L177.0 119.1 L178.2 118.8 L179.7 117.5 L178.8 116.2 L177.0 115.6 L174.4 115.2 L171.8 115.3 L170.5 115.6 L169.1 116.2 L169.0 117.5 L171.1 118.8 M115.9 104.6 L117.5 105.4 L120.1 105.6 L122.7 105.2 L125.3 104.2 L126.8 103.3 L128.4 102.0 L129.3 100.8 L129.7 99.5 L129.3 98.2 L127.9 97.4 L125.3 97.1 L122.7 97.5 L120.1 98.3 L117.5 99.8 L116.4 100.8 L115.5 102.0 L115.3 103.3 L115.9 104.6 M208.2 98.2 L210.5 98.3 L211.4 98.2 L211.8 97.9 L212.4 96.9 L211.5 95.6 L209.2 94.3 L208.0 94.0 L205.4 93.8 L203.8 94.3 L203.8 95.6 L205.1 96.9 L208.2 98.2 M135.6 90.4 L136.9 90.7 L137.7 90.4 L138.2 90.2 L139.3 89.1 L139.6 87.8 L139.5 87.2 L139.3 86.5 L138.2 85.6 L136.9 85.3 L135.6 85.8 L134.9 86.5 L134.3 87.8 L134.5 89.1 L135.6 90.4 M39.7 131.8 L42.6 132.5 L46.5 133.0 L50.4 133.0 L54.2 132.6 L57.8 131.8 L60.3 130.5 L61.4 129.2 L61.6 127.9 L61.0 126.6 L59.4 125.5 L56.8 124.6 L53.0 124.1 L50.4 124.1 L47.8 124.4 L43.9 125.3 L40.9 126.6 L39.1 127.9 L38.1 129.2 L38.1 130.5 L39.7 131.8 M118.3 103.3 L118.8 103.7 L120.1 104.0 L122.7 103.6 L123.4 103.3 L125.3 102.0 L126.0 100.8 L125.2 99.5 L124.0 99.2 L122.7 99.3 L121.4 99.6 L119.2 100.8 L118.8 101.1 L118.1 102.0 L118.3 103.3" fill="none" stroke="#f05a5a" stroke-width="1.25"/>
<path d="M108.5 147.3 L104.6 146.6 L100.8 145.5 L95.0 143.4 L92.7 142.1 L91.0 140.8 L89.8 139.5 L89.2 138.2 L88.7 135.6 L88.7 127.9 L88.0 121.4 L88.1 118.8 L88.3 117.5 L88.8 116.2 L90.4 114.1 L91.7 113.0 L94.3 111.6 L96.9 111.0 L99.5 111.0 L111.1 112.6 L126.6 112.9 L131.8 113.6 L135.6 114.6 L138.2 115.6 L140.8 116.8 L143.4 118.4 L146.0 120.2 L152.2 125.3 L155.1 127.9 L156.3 129.2 L157.1 130.5 L157.6 131.8 L157.6 133.0 L157.3 134.3 L156.7 135.6 L155.0 137.7 L152.9 139.5 L149.8 141.6 L147.2 142.9 L144.7 144.0 L140.8 145.4 L134.3 147.0 L129.2 147.8 L125.3 148.1 L121.4 148.3 L116.2 148.2 L108.5 147.3 M310.0 130.0 L307.4 130.8 L304.8 131.2 L302.2 131.4 L299.7 131.3 L297.1 130.7 L295.8 130.2 L293.8 129.2 L292.3 127.9 L291.3 126.6 L290.7 125.3 L290.6 124.0 L290.8 122.7 L291.2 121.4 L293.8 116.2 L294.3 113.7 L294.2 112.4 L293.8 111.1 L293.2 109.8 L292.2 108.5 L290.7 107.2 L289.3 106.3 L285.5 104.7 L281.6 103.8 L275.1 102.9 L257.0 101.0 L251.9 100.0 L248.0 98.8 L243.9 96.9 L240.2 94.3 L237.8 91.7 L237.0 90.4 L236.4 89.1 L236.3 87.8 L236.6 86.5 L237.4 85.2 L238.9 84.0 L241.5 82.5 L245.4 81.2 L249.3 80.4 L255.8 79.7 L260.9 79.6 L267.4 79.7 L273.8 80.3 L279.0 81.0 L285.5 82.1 L291.9 83.7 L298.4 85.7 L302.2 87.3 L305.9 89.1 L310.0 91.8 M219.6 125.4 L215.8 124.0 L213.8 122.7 L212.6 121.4 L212.1 120.1 L212.0 118.8 L212.4 117.5 L213.4 116.2 L214.4 115.5 L215.7 114.8 L219.3 113.7 L223.5 113.0 L227.3 112.9 L231.2 113.1 L233.8 113.6 L236.4 114.6 L239.0 116.2 L240.2 117.5 L241.0 118.8 L241.4 120.1 L241.2 121.4 L240.4 122.7 L239.0 123.8 L236.4 125.0 L233.8 125.7 L229.9 126.2 L226.0 126.3 L222.2 125.9 L219.6 125.4 M178.2 104.8 L177.0 104.3 L175.0 103.3 L173.8 102.0 L173.7 100.8 L174.5 99.5 L175.7 98.8 L178.0 98.2 L180.8 98.3 L184.5 99.5 L186.5 100.8 L187.3 101.7 L187.6 102.0 L187.9 103.3 L186.8 104.6 L184.7 105.2 L182.1 105.3 L178.2 104.8 M0.0 91.8 L3.4 94.3 L5.6 95.6 L8.6 96.9 L13.9 98.2 L22.0 99.1 L46.5 99.9 L53.0 100.3 L58.1 100.9 L64.6 102.0 L69.9 103.3 L73.9 104.6 L76.7 105.9 L77.7 107.2 L75.8 108.5 L72.3 109.2 L67.7 109.8 L58.1 110.3 L31.0 111.0 L25.8 111.6 L21.8 112.4 L18.2 113.7 L15.5 115.3 L14.4 116.2 L13.3 117.5 L10.2 122.7 L8.1 125.3 L6.6 126.6 L4.7 127.9 L2.2 129.2 L0.0 130.0 M105.9 90.4 L103.3 89.8 L101.7 89.1 L99.8 87.8 L98.6 86.5 L97.9 85.2 L97.8 84.0 L98.2 82.7 L99.3 81.4 L101.2 80.1 L103.3 79.2 L107.2 78.4 L109.8 78.4 L111.1 78.6 L113.7 79.6 L115.0 80.5 L115.8 81.4 L116.2 82.2 L116.6 84.0 L116.4 85.2 L115.7 86.5 L115.0 87.4 L112.7 89.1 L111.1 89.8 L108.5 90.4 L105.9 90.4 M74.9 78.8 L73.6 78.7 L72.3 78.3 L71.2 77.5 L70.3 76.2 L69.8 75.1 L69.3 72.3 L69.1 68.5 L68.8 65.9 L67.9 63.3 L67.2 62.0 L65.0 59.4 L55.9 51.7 L53.1 49.1 L50.7 46.5 L48.7 43.9 L47.9 42.6 L47.5 41.3 L47.8 40.5 L49.1 40.1 L50.4 40.4 L53.0 41.4 L56.8 43.7 L60.7 46.5 L65.2 50.4 L69.1 54.2 L74.0 59.4 L76.0 62.0 L77.6 64.6 L78.8 67.4 L79.6 71.0 L79.7 73.6 L79.5 74.9 L79.1 76.2 L78.1 77.5 L76.2 78.6 L74.9 78.8 M220.9 69.8 L208.0 66.6 L204.1 66.0 L200.2 65.7 L195.0 66.1 L186.0 67.9 L180.8 68.6 L174.4 68.8 L169.2 68.2 L164.0 66.9 L161.7 65.9 L159.5 64.6 L157.9 63.3 L156.9 62.0 L156.4 60.7 L156.5 59.4 L157.2 58.1 L158.6 56.8 L161.5 55.2 L166.6 53.3 L170.5 52.3 L173.1 52.0 L177.0 51.9 L180.8 52.2 L193.8 55.0 L196.3 55.1 L198.9 54.8 L202.8 53.3 L213.1 47.6 L219.6 44.5 L223.5 43.3 L226.0 42.9 L227.3 43.0 L228.6 43.4 L229.3 43.9 L231.7 46.5 L233.8 48.2 L235.4 49.1 L242.8 52.1 L246.7 54.4 L248.0 55.5 L249.1 56.8 L249.8 58.1 L250.2 59.4 L250.2 60.7 L250.0 62.0 L249.4 63.3 L248.6 64.6 L246.7 66.3 L244.1 67.9 L240.2 69.4 L236.4 70.3 L231.2 70.7 L226.0 70.6 L220.9 69.8 M124.0 60.8 L121.4 59.8 L120.1 58.9 L118.8 57.5 L118.4 56.8 L118.1 55.5 L118.1 54.2 L118.6 53.0 L119.4 51.7 L120.6 50.4 L122.5 49.1 L124.0 48.4 L126.6 47.6 L129.2 47.4 L131.8 47.5 L134.3 48.1 L136.7 49.1 L138.5 50.4 L139.6 51.7 L140.2 53.0 L140.4 54.2 L140.2 55.5 L139.5 56.9 L138.3 58.1 L136.9 59.0 L134.3 60.2 L130.5 61.1 L126.6 61.2 L124.0 60.8 M169.2 44.2 L165.3 42.9 L162.8 41.5 L161.0 40.0 L159.8 38.8 L159.0 37.5 L158.3 34.9 L158.4 32.3 L158.9 31.0 L159.7 29.7 L161.5 28.1 L164.0 26.7 L167.9 25.5 L171.8 25.1 L175.7 25.2 L179.5 25.8 L183.3 27.1 L186.0 28.8 L187.0 29.7 L188.0 31.0 L188.6 32.3 L188.9 33.6 L188.9 34.9 L188.6 36.2 L188.1 37.5 L187.2 38.8 L186.1 40.0 L184.5 41.3 L180.8 43.4 L177.0 44.5 L173.1 44.7 L169.2 44.2 M310.0 38.6 L306.1 37.1 L304.5 36.2 L302.7 34.9 L301.4 33.6 L300.4 32.3 L299.2 29.7 L299.1 28.4 L299.2 27.1 L299.5 25.8 L300.1 24.5 L302.1 22.0 L303.5 20.6 L306.1 18.6 L310.0 16.6 M254.5 33.6 L249.9 32.3 L247.2 31.0 L246.0 29.7 L245.5 28.4 L245.5 27.1 L245.9 25.8 L246.5 24.5 L247.5 23.2 L248.8 22.0 L250.5 20.7 L254.5 18.8 L257.0 18.0 L260.9 17.4 L264.8 17.5 L268.7 18.0 L272.5 19.2 L275.3 20.7 L277.1 22.0 L278.3 23.2 L279.1 24.5 L279.4 25.8 L279.3 27.1 L278.7 28.4 L277.6 29.7 L275.8 31.0 L272.5 32.6 L268.7 33.8 L263.5 34.4 L259.6 34.4 L254.5 33.6 M0.0 16.6 L2.6 15.7 L5.2 15.0 L7.8 14.7 L10.3 14.5 L12.9 14.7 L15.5 15.1 L19.4 16.2 L23.2 18.2 L24.9 19.4 L27.1 21.7 L28.9 24.5 L29.6 27.1 L29.7 28.4 L29.5 29.7 L29.0 31.0 L28.2 32.3 L26.1 34.9 L23.1 37.5 L20.8 38.8 L19.4 39.3 L15.5 40.1 L10.3 40.3 L5.2 39.8 L0.0 38.6 M111.1 142.1 L107.2 141.3 L104.6 140.5 L102.0 139.5 L99.5 138.2 L97.7 136.9 L96.3 135.6 L95.4 134.3 L94.8 133.0 L94.0 130.5 L93.8 127.9 L93.8 125.3 L94.4 122.7 L95.6 120.6 L96.9 119.3 L98.2 118.4 L100.8 117.1 L103.3 116.3 L105.9 115.8 L109.8 115.5 L115.0 115.3 L120.1 115.3 L124.0 115.5 L130.5 116.6 L133.9 117.5 L136.9 118.8 L139.5 120.1 L141.4 121.4 L143.1 122.7 L145.8 125.3 L147.6 127.9 L148.1 129.2 L148.3 130.5 L148.1 131.8 L147.5 133.0 L146.7 134.3 L145.4 135.6 L143.8 136.9 L141.7 138.2 L136.9 140.3 L134.3 141.1 L130.5 142.0 L124.0 142.8 L117.5 142.9 L111.1 142.1 M222.2 121.5 L220.3 120.1 L219.9 118.8 L220.8 117.5 L222.2 116.9 L224.2 116.2 L227.3 116.0 L229.9 116.3 L232.9 117.5 L233.9 118.8 L233.8 120.1 L232.5 121.2 L229.9 122.1 L226.0 122.3 L223.5 121.9 L222.2 121.5 M310.0 121.3 L307.8 122.7 L306.1 123.1 L304.8 123.2 L303.5 123.0 L302.2 122.4 L301.3 121.4 L300.8 120.1 L300.7 115.0 L300.4 113.7 L299.2 111.1 L297.7 108.5 L295.8 106.0 L294.5 104.9 L293.2 104.1 L290.6 103.1 L286.8 102.3 L266.1 100.0 L260.9 99.2 L256.7 98.2 L251.9 96.4 L248.3 94.3 L246.8 93.0 L245.8 91.7 L245.3 90.4 L245.4 89.1 L246.0 87.8 L247.4 86.5 L249.8 85.2 L254.2 84.0 L259.6 83.2 L264.8 83.0 L271.2 83.2 L276.4 83.7 L281.6 84.6 L286.8 85.8 L290.6 87.0 L294.5 88.6 L298.0 90.4 L299.8 91.7 L301.4 93.0 L304.8 96.7 L306.1 97.7 L307.4 98.4 L310.0 99.4 M0.0 99.4 L9.0 101.2 L20.7 102.7 L25.8 102.9 L41.3 102.6 L47.8 102.8 L53.0 103.2 L55.5 103.6 L59.4 104.6 L60.3 105.9 L56.3 107.2 L53.0 107.5 L43.9 107.8 L27.1 107.7 L23.2 108.1 L19.4 108.9 L14.2 110.6 L10.3 112.4 L7.9 113.7 L5.9 115.0 L4.3 116.2 L0.0 121.3 M224.8 64.8 L220.9 63.5 L217.7 62.0 L215.7 60.7 L214.4 59.4 L213.8 58.1 L214.0 56.8 L215.0 55.5 L215.7 55.0 L217.0 54.2 L218.3 53.8 L220.9 53.3 L223.5 53.3 L227.3 53.9 L232.5 54.9 L235.1 55.7 L237.6 56.8 L239.3 58.1 L240.1 59.4 L240.2 60.7 L239.6 62.0 L238.2 63.3 L235.3 64.6 L232.5 65.1 L229.9 65.3 L227.3 65.2 L224.8 64.8 M171.8 62.3 L171.2 62.0 L170.5 60.7 L171.9 59.4 L173.1 59.1 L175.7 58.8 L178.2 59.1 L179.2 59.4 L180.7 60.7 L180.0 62.0 L177.0 62.9 L174.4 63.0 L171.8 62.3 M171.8 35.2 L171.2 34.9 L170.7 33.6 L172.0 32.3 L173.1 32.1 L174.9 32.3 L175.7 32.8 L176.3 33.6 L175.9 34.9 L174.4 35.5 L173.1 35.6 L171.8 35.2 M115.0 138.3 L109.8 137.1 L105.9 135.6 L103.9 134.3 L102.4 133.0 L101.3 131.8 L100.6 130.5 L100.2 129.2 L100.0 127.9 L100.1 126.6 L100.8 124.7 L102.2 122.7 L103.9 121.4 L105.9 120.4 L109.8 119.2 L115.0 118.4 L120.1 118.3 L125.3 118.8 L130.5 120.1 L134.3 121.7 L136.1 122.7 L137.8 124.0 L139.0 125.3 L139.9 126.6 L140.4 127.9 L140.6 129.2 L140.4 130.5 L139.8 131.8 L138.7 133.0 L137.2 134.3 L134.3 136.0 L130.5 137.4 L125.3 138.4 L120.1 138.7 L115.0 138.3 M310.0 110.0 L308.7 109.9 L307.4 109.4 L306.1 108.5 L305.4 107.2 L305.5 105.9 L306.1 105.3 L307.6 104.6 L310.0 104.4 M0.0 104.4 L3.9 104.5 L6.5 105.2 L8.3 105.9 L8.4 107.2 L6.6 108.5 L3.9 109.5 L2.6 109.9 L0.0 110.0 M268.7 98.3 L262.2 96.9 L258.4 95.6 L255.8 94.2 L254.2 93.0 L253.3 91.7 L253.1 90.4 L253.7 89.1 L255.3 87.8 L258.3 86.7 L262.2 86.0 L267.4 85.7 L272.5 85.9 L277.7 86.6 L283.2 87.8 L288.0 89.6 L289.8 90.4 L291.9 91.7 L293.3 93.0 L294.1 94.3 L294.4 95.6 L294.0 96.9 L292.3 98.2 L290.6 98.7 L288.0 99.1 L284.2 99.3 L279.0 99.2 L273.8 98.9 L268.7 98.3 M115.0 133.4 L112.4 132.5 L111.0 131.8 L109.8 130.7 L108.6 129.2 L108.4 127.9 L108.7 126.6 L109.5 125.3 L111.3 124.0 L113.7 123.1 L116.2 122.5 L118.8 122.3 L122.7 122.5 L125.3 123.0 L128.2 124.0 L130.3 125.3 L131.5 126.6 L132.0 127.9 L132.0 129.2 L131.3 130.5 L129.8 131.8 L127.2 133.0 L124.0 133.8 L121.4 134.1 L117.5 133.9 L115.0 133.4 M270.0 95.8 L264.7 94.3 L262.5 93.0 L261.6 91.7 L262.1 90.4 L265.0 89.1 L267.4 88.8 L270.0 88.7 L275.6 89.1 L280.6 90.4 L283.3 91.7 L284.6 93.0 L284.8 94.3 L283.2 95.6 L281.6 96.0 L279.0 96.3 L276.4 96.4 L270.0 95.8 " fill="none" stroke="#5e5ef4" stroke-width="1.25" stroke-dasharray="2.2 0.95"/>
</g></g>
<rect x="26" y="40.45" width="310.3" height="154.85" fill="none" stroke="#767676" stroke-width="1"/>
<line x1="21.00" y1="40.45" x2="26.00" y2="40.45" class="tk"/>
<text x="15.5" y="43.7" class="lab" text-anchor="end">90N</text>
<line x1="21.00" y1="66.26" x2="26.00" y2="66.26" class="tk"/>
<text x="15.5" y="69.5" class="lab" text-anchor="end">60N</text>
<line x1="21.00" y1="92.07" x2="26.00" y2="92.07" class="tk"/>
<text x="15.5" y="95.3" class="lab" text-anchor="end">30N</text>
<line x1="21.00" y1="117.88" x2="26.00" y2="117.88" class="tk"/>
<text x="15.5" y="121.1" class="lab" text-anchor="end">0</text>
<line x1="21.00" y1="143.68" x2="26.00" y2="143.68" class="tk"/>
<text x="15.5" y="146.9" class="lab" text-anchor="end">30S</text>
<line x1="21.00" y1="169.49" x2="26.00" y2="169.49" class="tk"/>
<text x="15.5" y="172.7" class="lab" text-anchor="end">60S</text>
<line x1="21.00" y1="195.30" x2="26.00" y2="195.30" class="tk"/>
<text x="15.5" y="198.5" class="lab" text-anchor="end">90S</text>
<line x1="26.00" y1="195.30" x2="26.00" y2="200.30" class="tk"/>
<line x1="77.72" y1="195.30" x2="77.72" y2="200.30" class="tk"/>
<line x1="129.43" y1="195.30" x2="129.43" y2="200.30" class="tk"/>
<line x1="181.15" y1="195.30" x2="181.15" y2="200.30" class="tk"/>
<line x1="232.87" y1="195.30" x2="232.87" y2="200.30" class="tk"/>
<line x1="284.58" y1="195.30" x2="284.58" y2="200.30" class="tk"/>
<line x1="336.30" y1="195.30" x2="336.30" y2="200.30" class="tk"/>
<text x="181.2" y="38.0" class="pt" text-anchor="middle">Lag = 1 pentad</text>
<clipPath id="c1"><rect x="0" y="0" width="310" height="155"/></clipPath>
<g transform="translate(367.3,40.45) scale(1.00290,0.99903)"><g clip-path="url(#c1)">
<path d="M50.4 143.4 L53.0 144.0 L56.8 144.5 L60.7 144.7 L64.6 144.5 L68.5 143.9 L71.0 143.0 L73.0 142.1 L74.1 140.8 L73.9 139.5 L72.2 138.2 L68.5 136.9 L65.9 136.4 L62.0 136.0 L55.5 136.3 L53.0 136.7 L50.4 137.4 L48.3 138.2 L46.8 139.5 L46.6 140.8 L47.6 142.1 L50.4 143.4Z M286.9 138.2 L289.3 138.8 L291.9 139.2 L297.1 139.5 L302.2 139.4 L307.4 138.6 L310.0 137.9 L310.0 132.5 L304.8 131.3 L299.7 130.9 L293.2 131.0 L288.0 131.9 L285.5 132.6 L284.2 133.3 L282.8 134.3 L282.5 135.6 L283.7 136.9 L286.9 138.2Z M0.0 136.9 L0.0 137.9 L2.2 136.9 L3.4 135.6 L3.1 134.3 L1.4 133.0 L0.0 132.5 L0.0 136.9Z M180.2 125.3 L180.8 125.7 L182.1 125.9 L183.4 125.9 L186.0 125.2 L189.9 123.7 L193.8 121.7 L197.6 119.4 L201.5 116.9 L206.7 113.0 L211.8 108.7 L214.9 105.9 L218.7 102.0 L220.9 99.5 L222.9 96.9 L224.3 94.3 L224.9 93.0 L225.1 91.7 L224.8 90.2 L223.5 89.4 L222.2 89.3 L219.6 89.8 L215.7 91.2 L210.5 93.8 L206.7 96.1 L202.8 98.7 L197.6 102.6 L192.5 106.9 L189.4 109.8 L185.6 113.7 L183.5 116.2 L181.6 118.8 L180.2 121.4 L179.7 122.7 L179.6 124.0 L180.2 125.3Z M90.4 121.4 L91.7 121.9 L93.0 121.6 L95.6 119.9 L98.2 117.6 L100.8 114.9 L103.9 111.1 L110.4 102.0 L111.9 99.5 L114.5 94.3 L116.6 89.1 L117.4 85.2 L117.2 84.0 L116.2 83.0 L115.0 83.2 L113.7 83.8 L111.1 85.7 L108.5 88.2 L104.3 93.0 L98.7 100.8 L94.8 107.2 L92.8 111.1 L91.2 115.0 L90.2 118.8 L90.1 120.1 L90.4 121.4Z M270.8 120.1 L275.1 120.6 L279.0 120.6 L282.9 120.3 L286.8 119.6 L289.5 118.8 L292.2 117.5 L293.4 116.2 L293.6 115.0 L292.7 113.7 L290.6 112.4 L288.0 111.5 L284.2 110.7 L280.3 110.2 L275.1 110.2 L271.2 110.5 L267.4 111.3 L264.0 112.4 L261.8 113.7 L261.0 115.0 L261.1 116.2 L262.4 117.5 L264.8 118.7 L267.4 119.5 L270.8 120.1Z M50.8 109.8 L51.7 110.6 L53.0 111.1 L54.2 111.0 L55.5 110.3 L56.0 109.8 L55.5 108.4 L54.2 107.6 L53.0 107.6 L51.7 108.0 L51.1 108.5 L50.8 109.8Z M116.0 107.2 L117.5 108.1 L118.8 108.4 L120.1 108.5 L121.4 108.3 L122.7 107.7 L123.4 107.2 L124.5 105.9 L124.9 104.6 L124.8 103.3 L124.2 102.0 L122.7 100.7 L121.4 100.1 L120.1 99.8 L118.8 99.9 L117.5 100.2 L116.2 100.9 L115.0 102.0 L114.4 103.3 L114.4 104.6 L114.9 105.9 L116.0 107.2Z M71.9 99.5 L73.6 99.9 L76.2 99.9 L78.8 99.2 L80.1 98.5 L81.8 96.9 L82.2 95.6 L82.2 94.3 L81.4 93.0 L80.1 91.8 L78.8 91.1 L76.2 90.5 L73.6 90.5 L72.3 90.7 L71.0 91.1 L69.8 91.8 L68.4 93.0 L67.7 94.3 L67.6 95.6 L68.1 96.9 L69.3 98.2 L71.0 99.2 L71.9 99.5Z M273.6 99.5 L275.1 100.2 L276.4 100.6 L279.0 100.7 L280.3 100.5 L281.6 100.1 L282.9 99.3 L284.2 98.2 L285.2 96.9 L285.9 95.6 L286.2 94.3 L286.2 91.7 L285.9 90.4 L285.2 89.1 L284.2 87.8 L282.9 86.7 L281.6 85.9 L280.3 85.5 L279.0 85.3 L276.4 85.4 L275.1 85.8 L273.8 86.4 L272.5 87.3 L271.2 88.8 L270.4 90.4 L270.1 91.7 L270.1 94.3 L270.4 95.6 L271.0 96.9 L272.0 98.2 L273.6 99.5Z M145.3 94.3 L147.2 94.7 L149.8 94.6 L152.4 93.7 L153.7 93.0 L155.3 91.7 L157.3 89.1 L158.5 86.5 L159.2 84.0 L159.3 81.4 L159.0 78.8 L158.2 76.2 L156.8 73.6 L155.0 71.6 L153.7 70.6 L151.1 69.3 L149.8 69.0 L147.2 68.9 L146.0 69.1 L143.4 70.1 L142.1 70.9 L140.5 72.3 L138.6 74.9 L137.5 77.5 L137.2 78.8 L136.9 81.4 L137.1 84.0 L137.7 86.5 L138.9 89.1 L140.8 91.6 L142.1 92.7 L143.4 93.5 L145.3 94.3Z M70.9 80.1 L72.3 80.6 L74.9 81.1 L77.5 80.9 L78.8 80.4 L80.1 79.4 L80.6 78.8 L81.1 77.5 L81.2 76.2 L81.0 74.9 L80.4 73.6 L79.6 72.3 L78.5 71.0 L76.2 69.2 L73.6 67.9 L72.3 67.5 L69.8 67.0 L67.2 67.2 L65.9 67.7 L64.8 68.5 L63.9 69.8 L63.6 71.0 L63.7 72.3 L64.0 73.6 L65.6 76.2 L66.8 77.5 L68.5 78.7 L70.9 80.1Z M92.2 71.0 L95.6 72.1 L99.5 72.3 L103.3 71.7 L105.9 70.6 L107.2 69.8 L108.9 68.5 L109.9 67.2 L110.6 65.9 L111.0 64.6 L111.1 63.3 L111.0 62.0 L110.6 60.7 L109.9 59.4 L108.5 57.8 L105.9 56.0 L103.3 54.9 L100.8 54.4 L98.2 54.3 L95.6 54.5 L93.0 55.2 L90.4 56.5 L88.3 58.1 L87.3 59.4 L86.6 60.7 L86.2 62.0 L86.1 63.3 L86.2 64.6 L86.6 65.9 L87.3 67.2 L88.3 68.5 L90.4 70.1 L92.2 71.0Z M256.7 71.0 L258.3 72.2 L259.6 72.3 L260.9 71.8 L261.7 71.0 L262.4 69.8 L262.7 68.5 L262.6 67.2 L262.2 65.9 L260.9 64.3 L259.6 63.7 L258.3 63.8 L257.0 64.7 L256.2 65.9 L255.8 67.2 L255.8 68.5 L256.0 69.8 L256.7 71.0Z M200.2 68.5 L201.5 69.1 L202.8 69.5 L204.1 69.7 L206.7 69.6 L209.2 68.7 L211.4 67.2 L212.4 65.9 L213.1 64.6 L213.5 63.3 L213.6 62.0 L213.5 60.7 L213.1 59.4 L212.4 58.1 L211.4 56.8 L209.7 55.5 L208.0 54.7 L205.4 54.3 L202.8 54.5 L201.5 54.9 L200.2 55.5 L198.5 56.8 L197.5 58.1 L196.8 59.4 L196.4 60.7 L196.4 63.3 L196.8 64.6 L197.5 65.9 L198.5 67.2 L200.2 68.5Z M117.8 47.8 L118.8 48.5 L120.1 48.9 L121.4 49.1 L124.0 49.0 L125.3 48.6 L126.6 47.9 L127.5 46.5 L126.8 45.2 L125.3 44.4 L124.0 44.0 L121.4 43.9 L118.8 44.5 L117.8 45.2 L117.0 46.5 L117.8 47.8Z M196.6 41.3 L197.6 42.0 L198.9 42.5 L201.5 42.6 L202.8 42.4 L204.1 41.8 L204.6 41.3 L204.9 40.0 L204.1 39.2 L202.8 38.5 L201.5 38.2 L200.2 38.2 L198.9 38.4 L197.6 38.9 L196.4 40.0 L196.6 41.3Z M177.5 34.9 L180.8 35.3 L183.4 35.1 L186.0 34.3 L187.3 33.6 L189.0 32.3 L190.1 31.0 L190.8 29.7 L191.1 28.4 L191.2 27.1 L190.9 25.8 L190.4 24.5 L189.4 23.2 L188.6 22.4 L187.3 21.5 L184.7 20.3 L182.1 19.8 L179.5 19.8 L177.0 20.3 L175.7 20.8 L173.7 22.0 L172.2 23.2 L171.3 24.5 L170.7 25.8 L170.5 27.1 L170.5 28.4 L170.9 29.7 L171.6 31.0 L173.1 32.7 L175.7 34.3 L177.5 34.9Z M114.3 32.3 L118.8 33.0 L124.0 33.2 L129.2 32.8 L134.3 31.7 L138.2 30.3 L141.3 28.4 L142.6 27.1 L143.4 25.8 L143.8 24.5 L143.7 23.2 L143.2 22.0 L142.3 20.7 L140.7 19.4 L139.5 18.6 L135.6 16.9 L131.8 15.9 L126.6 15.2 L121.4 15.1 L115.0 15.8 L111.1 16.8 L107.2 18.4 L105.5 19.4 L104.0 20.7 L103.1 22.0 L102.6 23.2 L102.5 24.5 L102.8 25.8 L103.6 27.1 L105.9 29.1 L107.2 29.9 L109.8 31.0 L114.3 32.3Z" fill="#e4c9aa" stroke="none" fill-rule="evenodd"/>
<path d="M10.3 21.0 L12.1 18.2 L20.0 16.1 L38.8 18.1 L44.8 17.2 L54.2 18.5 L70.6 19.4 L73.2 18.5 L77.5 18.5 L81.8 17.7 L84.4 20.2 L80.9 22.4 L74.1 25.0 L74.1 26.9 L75.8 28.4 L80.1 29.7 L84.4 30.1 L84.4 32.3 L87.0 33.2 L87.1 30.1 L88.7 25.8 L87.8 23.9 L92.1 24.1 L95.2 25.0 L97.3 27.1 L99.5 25.6 L102.0 29.3 L105.9 32.7 L106.8 33.2 L103.3 34.3 L97.7 34.3 L94.7 36.6 L99.5 35.5 L99.0 37.0 L102.5 38.2 L98.2 40.0 L94.5 39.9 L94.7 41.5 L91.3 42.5 L90.0 44.3 L89.6 45.6 L90.0 47.1 L87.8 48.4 L85.2 50.4 L86.1 54.7 L85.8 55.8 L84.6 55.1 L82.7 51.7 L80.9 51.3 L77.9 51.5 L78.1 52.5 L74.1 52.0 L71.5 53.6 L71.0 56.0 L70.9 59.0 L71.9 60.7 L73.6 61.8 L76.2 61.6 L77.1 59.4 L80.1 59.0 L79.7 61.6 L78.8 63.7 L82.7 63.9 L83.1 68.0 L84.8 69.8 L86.5 69.3 L88.3 70.2 L88.4 70.7 L86.1 71.2 L81.2 68.9 L79.7 66.3 L76.2 65.4 L73.6 63.7 L71.9 64.0 L68.0 62.7 L64.2 60.3 L64.3 59.0 L61.6 55.5 L58.0 50.4 L56.2 50.2 L60.7 57.7 L58.6 56.1 L56.0 53.1 L54.2 49.5 L53.0 48.2 L51.2 47.7 L49.5 45.2 L48.2 42.6 L48.0 40.5 L48.2 37.6 L47.6 35.8 L49.1 35.7 L47.4 34.4 L44.8 33.6 L43.1 30.6 L40.5 28.4 L37.9 27.1 L34.4 26.0 L29.3 25.1 L25.0 26.3 L22.4 28.0 L18.9 29.3 L13.3 30.6 L17.2 28.8 L19.8 27.1 L15.5 27.0 L13.3 25.4 L12.5 24.1 L13.3 23.0 L16.4 22.0 L11.6 21.7 L10.3 21.0 M92.1 9.9 L97.3 8.2 L103.3 6.9 L116.2 6.0 L129.2 5.6 L137.8 6.9 L144.7 7.3 L139.5 11.2 L138.6 13.8 L136.1 16.8 L133.5 18.1 L127.4 18.9 L122.3 21.1 L119.7 23.2 L117.5 25.8 L113.7 25.0 L111.5 22.4 L109.8 19.8 L107.6 15.1 L105.1 12.5 L98.2 11.6 L92.1 9.9 M101.8 20.2 L99.5 23.7 L98.2 24.3 L88.3 22.1 L91.3 20.7 L92.1 18.5 L88.7 17.7 L78.4 15.9 L80.9 14.6 L86.1 14.0 L93.0 15.1 L96.4 16.8 L101.6 19.8 L101.8 20.2 M77.5 11.2 L90.4 9.9 L101.6 6.9 L90.4 6.0 L77.5 7.3 L73.2 9.5 L77.5 11.2 M53.4 16.4 L64.6 14.6 L68.0 17.2 L62.0 18.3 L54.2 17.7 L53.4 16.4 M47.4 15.5 L51.7 13.3 L56.0 14.2 L53.4 15.9 L47.4 15.5 M75.8 11.6 L86.1 11.6 L86.1 13.3 L75.8 13.3 L75.8 11.6 M60.3 11.6 L68.9 10.3 L72.3 11.2 L70.6 12.9 L64.6 12.9 L60.3 11.6 M51.7 12.1 L57.7 11.2 L62.0 12.5 L56.8 13.3 L51.7 12.1 M80.9 22.6 L86.1 22.8 L84.4 20.8 L80.9 21.1 L80.9 22.6 M103.9 36.5 L106.8 34.9 L107.2 33.2 L109.5 36.6 L107.2 37.2 L103.9 36.5 M88.4 70.6 L90.0 68.5 L92.1 67.6 L93.4 66.8 L93.9 68.2 L96.4 68.5 L99.9 68.4 L102.0 68.9 L105.9 72.3 L109.4 72.8 L111.1 74.1 L111.9 76.2 L112.8 77.5 L113.7 78.4 L116.7 79.7 L120.6 79.9 L123.1 81.8 L124.7 82.2 L125.0 84.4 L124.4 86.1 L121.8 88.7 L121.4 92.6 L120.1 95.6 L118.8 97.3 L116.7 97.5 L113.2 100.3 L113.1 102.0 L108.9 106.8 L107.6 107.6 L105.5 107.2 L105.7 108.9 L105.5 110.4 L101.6 111.1 L101.4 112.6 L99.0 112.8 L99.9 114.1 L98.6 116.2 L96.9 117.5 L98.2 118.7 L95.6 121.0 L96.2 122.5 L97.7 124.9 L94.7 125.1 L91.3 123.1 L90.0 120.6 L91.3 118.0 L91.3 115.4 L91.7 113.2 L91.5 109.4 L93.4 105.1 L93.4 101.6 L94.4 97.7 L94.5 93.4 L90.0 90.4 L89.1 89.1 L86.5 84.0 L85.0 81.6 L86.1 79.7 L85.3 78.4 L86.1 76.6 L87.1 76.0 L88.3 74.1 L88.4 70.6 M149.9 46.7 L154.1 46.9 L157.6 45.8 L163.6 45.5 L164.5 47.4 L164.0 48.7 L167.9 49.6 L171.8 51.2 L172.4 49.5 L174.8 49.5 L176.5 50.1 L180.4 50.8 L182.8 50.6 L183.0 51.8 L187.0 59.4 L189.2 64.2 L192.3 67.0 L192.9 68.5 L199.1 67.3 L198.9 68.5 L197.6 71.9 L194.6 75.8 L191.2 78.4 L189.4 80.1 L188.8 81.8 L189.0 84.4 L189.9 87.0 L189.9 90.4 L186.9 92.6 L185.1 94.7 L185.6 97.7 L183.4 99.7 L183.2 102.0 L181.3 104.2 L178.7 106.3 L172.2 107.5 L170.8 107.0 L170.7 105.1 L169.2 102.1 L167.9 100.3 L167.5 96.9 L165.3 93.4 L165.2 91.1 L166.6 87.8 L166.4 85.1 L164.9 80.5 L163.0 77.9 L163.3 74.1 L162.3 73.6 L160.2 73.8 L158.9 72.1 L156.7 72.1 L153.7 73.2 L151.6 73.0 L148.5 73.7 L143.8 70.6 L142.1 68.0 L140.3 64.8 L140.8 60.7 L140.4 59.4 L143.8 53.6 L146.6 51.9 L146.8 49.5 L149.1 48.2 L149.9 46.7 M197.5 87.8 L198.5 90.8 L197.6 92.1 L195.5 99.0 L193.8 99.5 L192.5 96.4 L193.1 94.3 L192.9 92.1 L195.0 91.0 L197.5 87.8 M150.2 46.5 L149.6 45.8 L148.5 45.5 L147.2 45.6 L147.4 44.2 L146.8 43.9 L147.4 42.2 L147.0 40.5 L148.1 39.9 L153.4 40.1 L154.0 37.9 L153.1 36.9 L151.0 35.9 L153.7 35.6 L153.6 34.8 L155.2 34.9 L156.4 33.7 L157.6 33.4 L158.9 32.7 L159.3 31.7 L162.5 31.1 L162.4 29.7 L162.1 28.6 L164.1 27.8 L164.0 28.8 L163.6 30.1 L164.5 30.8 L166.6 30.7 L167.5 31.2 L170.5 30.3 L171.8 30.7 L173.1 29.7 L173.1 28.4 L173.9 27.9 L175.5 28.4 L175.9 27.1 L175.2 26.5 L179.1 26.3 L180.8 25.8 L176.5 25.5 L174.4 25.8 L173.5 25.0 L173.5 23.2 L176.5 21.5 L177.0 21.1 L173.9 20.8 L173.3 22.1 L171.4 22.8 L170.1 23.8 L170.1 25.2 L171.2 26.0 L169.2 28.4 L169.2 29.1 L167.2 29.8 L166.0 29.6 L165.8 28.8 L164.7 27.1 L164.0 26.4 L161.0 27.6 L159.7 26.7 L159.3 25.0 L159.5 23.9 L161.9 23.1 L164.0 22.0 L166.2 20.7 L167.9 18.9 L171.4 17.2 L177.2 16.3 L179.5 16.4 L181.7 17.0 L183.4 17.7 L186.0 18.1 L193.1 20.2 L187.7 20.6 L185.0 22.0 L186.9 22.6 L189.4 21.9 L192.7 20.6 L192.9 18.5 L195.0 18.9 L200.6 18.5 L204.1 18.5 L206.7 18.1 L211.8 17.9 L214.0 18.8 L212.7 16.4 L214.0 14.8 L217.4 14.8 L217.0 17.2 L217.9 18.9 L218.7 16.8 L224.3 14.2 L229.9 13.8 L229.5 12.9 L235.9 12.1 L241.1 11.6 L244.8 10.6 L246.3 11.2 L251.4 12.1 L252.7 14.2 L256.6 14.2 L265.2 14.6 L266.5 16.4 L268.7 15.9 L275.6 15.1 L291.1 16.4 L292.8 17.2 L306.6 17.5 L310.0 18.2 M310.0 21.1 L307.4 21.8 L309.1 23.9 L304.8 24.3 L301.4 25.8 L296.2 26.0 L294.5 29.3 L292.8 31.0 L291.5 31.9 L289.9 33.6 L289.3 32.3 L288.9 29.3 L289.8 28.0 L295.4 24.1 L292.8 24.5 L288.5 26.4 L285.0 26.3 L278.1 26.4 L276.0 27.7 L273.0 30.6 L276.0 31.4 L276.7 32.7 L276.0 35.7 L271.2 40.1 L268.7 40.5 L267.4 41.1 L266.7 42.2 L265.2 43.5 L266.4 45.6 L266.3 47.2 L263.9 47.9 L263.9 45.0 L262.6 44.9 L262.4 43.4 L259.4 44.1 L260.1 42.6 L259.2 42.4 L257.9 43.2 L256.6 43.7 L256.4 44.3 L257.5 45.5 L258.8 45.0 L260.5 45.3 L258.6 46.5 L257.6 47.4 L260.0 50.9 L259.9 52.5 L258.3 54.7 L256.2 57.1 L253.4 58.3 L250.6 59.0 L249.7 59.9 L249.3 59.0 L247.6 59.0 L246.0 61.4 L247.1 62.9 L248.9 64.6 L249.0 67.2 L247.1 68.5 L245.4 70.1 L245.2 68.6 L243.7 68.0 L243.1 67.0 L241.9 66.6 L241.1 66.0 L240.4 68.6 L242.0 71.6 L243.3 72.5 L244.0 74.1 L244.1 75.3 L244.7 76.3 L244.0 76.4 L242.2 75.0 L241.4 73.0 L241.3 71.9 L239.7 70.6 L239.9 68.9 L239.1 63.3 L236.8 63.9 L236.2 63.7 L236.4 61.1 L234.5 59.7 L234.1 58.2 L232.9 58.6 L229.9 59.0 L229.5 60.3 L225.9 63.2 L224.1 64.2 L224.1 66.3 L223.7 68.6 L221.7 70.5 L220.9 69.8 L220.2 67.6 L218.2 63.7 L217.7 61.1 L217.5 59.2 L216.0 59.7 L214.4 58.3 L215.4 57.8 L214.0 57.2 L212.3 55.6 L208.4 55.8 L204.5 55.4 L203.6 54.2 L201.5 54.5 L199.3 53.5 L198.2 51.7 L196.8 51.7 L196.3 52.1 L196.8 53.4 L198.2 54.9 L198.7 56.2 L199.1 55.0 L199.8 56.8 L201.9 56.6 L203.2 55.5 L203.5 54.9 L203.7 56.7 L205.4 57.2 L206.5 58.1 L204.5 61.1 L202.8 62.3 L196.9 65.4 L193.8 66.5 L192.5 66.6 L191.6 63.3 L190.3 60.7 L188.6 59.0 L188.2 56.8 L186.4 55.1 L185.1 52.1 L184.5 53.6 L183.8 53.2 L183.0 51.8 L182.8 50.6 L184.5 50.5 L185.8 47.4 L186.0 45.8 L184.7 45.8 L183.0 46.4 L179.4 45.8 L178.5 45.0 L177.8 43.9 L177.6 43.1 L177.8 42.3 L174.7 42.6 L175.7 44.6 L174.8 46.1 L173.7 45.8 L173.2 44.5 L172.2 43.3 L171.7 41.5 L170.9 40.9 L168.8 40.0 L167.9 38.8 L166.8 38.2 L165.6 38.5 L165.7 39.6 L168.8 41.8 L170.9 43.0 L169.6 43.9 L169.3 44.8 L168.4 44.8 L168.5 43.1 L164.0 40.6 L163.6 39.6 L162.3 39.4 L160.2 40.4 L158.9 40.0 L157.7 40.5 L157.8 41.4 L155.8 42.2 L155.0 43.5 L154.7 44.3 L153.7 45.2 L152.8 45.9 L151.1 45.9 L150.2 46.5 M0.0 18.2 L4.3 19.4 L6.9 19.9 L8.9 20.7 L6.0 22.0 L0.0 21.1 M179.1 41.8 L180.0 42.0 L181.7 42.1 L183.7 41.3 L185.1 41.3 L187.7 42.2 L189.4 42.2 L190.7 41.8 L190.8 40.9 L187.3 39.0 L187.7 38.3 L185.1 38.8 L183.9 39.2 L183.0 38.5 L183.8 37.9 L181.7 37.4 L179.6 39.6 L179.1 40.9 L179.1 41.8 M197.2 37.4 L198.9 37.0 L200.6 37.2 L200.6 38.6 L199.2 39.2 L198.9 40.5 L200.4 41.3 L200.6 43.1 L201.3 44.3 L201.4 45.5 L198.9 45.9 L197.2 45.2 L197.5 43.1 L198.3 42.8 L197.2 41.9 L196.0 40.6 L195.9 39.6 L195.9 38.2 L197.2 37.4 M150.1 34.4 L152.4 33.8 L156.1 33.5 L156.5 32.2 L155.2 31.5 L154.9 30.7 L153.3 29.4 L152.2 29.2 L153.4 28.0 L152.4 27.0 L150.7 27.0 L149.7 28.8 L150.9 30.3 L152.1 30.6 L152.4 31.5 L151.0 31.6 L151.4 32.5 L150.5 33.0 L152.4 33.3 L150.1 34.4 M149.8 32.5 L149.7 31.1 L150.1 30.4 L148.7 29.8 L146.4 30.8 L146.5 31.9 L146.1 32.8 L147.2 33.2 L149.8 32.5 M135.5 22.4 L134.3 21.1 L136.1 20.3 L139.5 20.6 L142.5 20.4 L143.3 21.5 L142.1 22.1 L138.9 22.9 L135.5 22.4 M164.5 9.9 L168.8 8.6 L178.2 8.4 L173.9 10.3 L168.8 11.5 L164.5 9.9 M199.8 15.9 L204.1 16.7 L207.5 14.6 L214.4 11.4 L208.4 11.9 L202.4 13.5 L199.8 15.9 M237.7 9.5 L241.1 7.8 L245.4 9.0 L241.1 10.3 L237.7 9.5 M272.1 12.9 L277.3 12.1 L280.7 12.5 L275.6 13.8 L272.1 12.9 M267.7 48.2 L269.1 46.9 L272.1 46.7 L273.2 45.2 L275.1 44.8 L275.6 43.1 L275.6 41.8 L276.8 41.9 L277.3 43.5 L276.4 44.8 L276.2 46.7 L275.4 47.4 L272.5 48.0 L271.2 48.7 L267.7 48.2 M266.6 48.7 L267.8 48.3 L268.6 49.5 L267.8 50.6 L267.1 50.5 L266.6 48.7 M275.6 41.8 L276.4 41.5 L278.6 41.3 L280.3 40.2 L279.9 39.4 L277.1 38.4 L276.7 40.2 L275.6 40.6 L275.6 41.8 M277.3 37.9 L278.6 37.2 L278.1 35.1 L279.0 35.2 L278.3 33.2 L278.3 31.4 L277.7 30.7 L277.3 37.9 M258.4 57.7 L259.2 58.6 L260.0 56.4 L259.6 55.7 L258.5 56.8 L258.4 57.7 M248.5 61.1 L250.2 60.2 L250.6 60.6 L249.3 61.8 L248.5 61.1 M258.3 61.6 L260.3 61.6 L260.1 63.7 L259.6 65.2 L261.8 66.7 L260.9 66.0 L258.9 65.4 L258.2 63.4 L258.3 61.6 M260.1 71.5 L261.3 70.2 L263.1 69.1 L263.9 71.0 L263.1 72.6 L261.8 71.9 L260.1 71.5 M260.1 68.9 L261.8 68.9 L262.6 67.6 L261.8 66.7 L260.5 67.6 L260.1 68.9 M223.7 69.1 L224.1 69.2 L225.4 71.0 L224.9 72.2 L224.0 72.3 L223.7 70.6 L223.7 69.1 M237.1 72.7 L239.0 73.0 L241.4 75.6 L246.3 80.3 L246.1 82.5 L245.0 82.6 L243.1 80.9 L240.1 76.0 L237.1 72.7 M245.6 83.4 L246.7 82.7 L248.3 82.9 L250.6 83.0 L253.7 84.1 L253.5 85.0 L248.0 84.2 L246.6 83.9 L245.6 83.4 M248.9 76.2 L249.4 75.8 L252.3 74.7 L254.5 73.0 L255.8 71.5 L257.7 72.9 L256.6 73.8 L256.5 76.6 L257.5 76.7 L257.3 77.9 L256.2 78.2 L255.3 79.2 L254.9 80.9 L252.3 80.2 L249.9 80.0 L249.7 78.8 L248.9 77.5 L248.9 76.2 M257.9 82.2 L258.8 82.3 L258.7 79.9 L259.2 79.8 L260.5 81.5 L260.9 80.9 L259.6 79.0 L261.2 78.3 L259.2 78.3 L258.6 77.1 L260.9 76.7 L262.6 76.2 L262.0 77.2 L259.2 77.2 L258.3 76.9 L257.7 80.5 L257.9 82.2 M267.8 78.6 L270.4 78.2 L271.2 80.3 L273.8 78.9 L279.4 80.8 L280.7 82.2 L282.0 82.7 L282.4 84.4 L284.6 86.5 L281.6 86.1 L279.0 84.2 L278.1 85.2 L276.4 85.3 L275.1 84.6 L273.8 84.7 L273.7 81.8 L269.5 80.9 L267.8 78.6 M261.8 86.4 L264.4 84.7 L262.6 85.4 L261.8 86.4 M252.7 96.4 L252.6 99.9 L253.9 102.5 L254.0 104.6 L254.6 106.3 L254.0 107.0 L256.6 107.6 L259.2 106.6 L263.5 105.3 L266.1 104.7 L268.2 104.6 L270.4 105.7 L271.7 107.5 L273.4 105.9 L273.7 108.1 L274.3 107.5 L275.3 109.4 L276.4 110.5 L279.0 110.5 L281.0 111.1 L282.4 110.0 L284.2 109.8 L285.3 106.6 L286.8 104.2 L287.3 101.6 L286.8 99.0 L283.7 96.6 L281.0 93.9 L280.2 91.3 L278.7 89.6 L277.7 86.7 L276.9 88.7 L276.8 91.3 L276.1 92.6 L272.7 91.1 L271.7 90.4 L272.7 88.1 L269.2 87.3 L267.8 88.0 L266.9 88.9 L266.5 90.4 L265.2 90.4 L263.7 89.6 L262.6 90.4 L261.3 92.0 L260.3 92.6 L259.6 93.9 L257.5 94.7 L255.6 95.2 L252.7 96.4 M279.5 112.5 L282.7 112.7 L282.4 114.7 L281.4 115.0 L280.0 113.8 L279.5 112.5 M303.7 107.1 L306.4 109.4 L308.7 110.0 L307.8 111.3 L306.0 113.3 L305.4 113.0 L305.7 111.6 L304.7 111.3 L305.3 109.5 L303.7 107.1 M303.7 112.4 L305.1 113.1 L304.5 114.4 L303.8 115.0 L302.4 115.8 L302.0 117.0 L300.5 117.6 L298.4 117.1 L299.7 115.4 L301.8 114.5 L303.1 113.3 L303.7 112.4 M0.0 144.7 L8.6 144.9 L18.9 144.2 L34.4 142.1 L43.1 141.5 L51.7 141.1 L60.3 141.7 L68.9 140.4 L77.5 139.9 L86.1 140.4 L90.4 138.6 L96.4 137.8 L99.0 135.2 L101.6 133.5 L105.9 132.0 L104.2 133.0 L101.6 137.8 L102.5 141.7 L94.7 143.8 L103.3 144.7 L124.9 144.2 L129.2 142.9 L146.4 138.6 L155.0 137.8 L172.2 137.8 L189.4 136.9 L198.1 135.2 L206.7 135.2 L215.3 136.5 L217.0 137.8 L223.9 135.6 L232.5 134.8 L241.1 134.3 L249.7 134.3 L258.3 135.0 L266.9 134.5 L275.6 134.8 L284.2 136.5 L301.4 139.1 L297.9 141.2 L297.1 143.8 L299.7 144.2 L310.0 144.7 M81.8 58.6 L84.4 57.6 L88.7 58.6 L91.1 60.1 L88.3 60.4 L85.2 58.9 L81.8 58.6 M90.8 61.6 L92.6 60.4 L95.2 60.6 L96.0 61.6 L93.4 62.3 L90.8 61.6 M75.8 37.3 L82.2 37.5 L81.8 36.2 L78.4 35.7 L75.8 37.3 M79.7 41.6 L79.2 39.2 L81.8 38.1 L80.7 40.5 L79.7 41.6 M82.2 38.1 L84.0 40.5 L84.6 38.6 L82.2 38.1 M83.1 41.6 L87.0 40.6 L83.1 41.6 M86.3 40.2 L89.4 40.0 L89.1 39.4 L86.3 40.2 M54.2 12.5 L60.3 11.8 L64.6 12.5 L60.3 13.3 L54.2 12.5 M49.9 11.6 L55.1 10.9 L56.0 11.8 L51.7 12.1 L49.9 11.6 M67.2 11.6 L70.6 11.6 L71.5 12.9 L68.0 12.9 L67.2 11.6 M71.5 12.5 L74.9 12.5 L74.9 13.2 L71.5 13.2 L71.5 12.5 M72.3 14.0 L77.5 13.9 L76.6 15.5 L73.2 15.3 L72.3 14.0 M67.2 14.2 L71.5 14.2 L72.3 15.5 L68.9 15.9 L66.3 15.1 L67.2 14.2 M69.8 17.7 L72.3 17.7 L72.3 18.5 L69.8 18.5 L69.8 17.7 M73.2 7.8 L79.2 7.3 L80.9 9.0 L75.8 9.9 L73.2 8.6 L73.2 7.8 M82.7 23.7 L85.2 23.4 L86.1 24.1 L83.5 24.1 L82.7 23.7 M194.6 8.2 L201.5 7.5 L208.4 7.8 L206.7 8.6 L196.3 8.6 L194.6 8.2 M44.5 33.8 L47.4 34.4 L48.8 35.8 L47.6 35.6 L44.8 34.2 L44.5 33.8 M165.8 44.7 L168.4 44.5 L168.0 45.9 L165.7 45.0 L165.8 44.7 M162.2 42.2 L163.4 42.2 L163.3 43.9 L162.2 43.9 L162.2 42.2 M162.4 40.5 L163.2 40.5 L163.1 41.9 L162.5 41.7 L162.4 40.5 M175.2 46.9 L177.6 47.2 L175.7 47.4 L175.2 46.9 M102.2 121.6 L105.1 121.6 L104.6 122.3 L102.5 122.3 L102.2 121.6 M87.6 61.6 L89.3 61.8 L88.7 62.2 L87.6 61.6 M97.1 61.6 L98.5 61.7 L98.2 62.0 L97.1 61.6 M20.7 59.6 L21.5 60.3 L20.8 61.1 L20.7 59.6 M12.1 31.0 L8.6 32.0 L12.1 31.0 M5.2 32.5 L0.9 33.1 L5.2 32.5 M303.5 31.9 L306.6 32.5 L303.5 31.9 M214.4 119.7 L215.7 119.9 L215.3 120.3 L214.4 119.7 M122.7 124.0 L124.0 124.2 L124.2 124.7 L122.7 124.0 M269.5 87.3 L272.5 87.7 L271.7 88.3 L269.5 87.3 M284.2 82.2 L285.9 81.2 L285.5 82.7 L284.2 82.2 M287.6 82.7 L289.3 83.5 L287.6 82.7 M290.2 84.4 L293.6 86.1 L292.8 85.2 L290.2 84.4 M297.1 95.2 L298.8 96.4 L297.9 96.2 L297.1 95.2 M308.3 92.1 L309.6 91.7 L308.7 93.0 L308.3 92.1 M254.0 84.6 L254.9 84.9 L256.6 84.7 L257.5 85.0 L254.9 85.2 L254.0 84.6 M257.9 84.8 L260.9 84.6 L259.2 85.2 L257.9 84.8 M263.5 80.3 L265.2 80.5 L264.4 80.9 L263.5 80.3 M264.8 76.0 L265.7 76.2 L265.2 77.5 L264.8 76.0 M275.6 79.7 L276.4 79.7 L276.0 80.1 L275.6 79.7 M291.1 144.2 L294.5 145.1 L297.1 147.2 L301.4 149.0 L310.0 150.3 M0.0 150.3 L8.6 150.7 L17.2 149.8 L25.8 148.1 L21.5 146.4 L18.9 144.2 M102.5 141.7 L99.0 144.7 L90.4 146.4 L86.1 147.7 L103.3 148.5 L120.6 147.2 L129.2 145.5 L124.9 144.2 M94.7 136.9 L93.0 139.1 L91.3 137.8 L94.7 136.9 M68.9 139.5 L70.6 139.9 L67.2 140.2 L68.9 139.5 M45.6 140.6 L48.2 141.1 L47.4 141.5 L45.6 140.6 M28.4 142.5 L30.1 142.9 L27.6 143.2 L28.4 142.5 M132.6 142.9 L137.8 143.8 L139.5 142.9 L132.6 142.9 M214.4 137.8 L217.0 138.6 L213.6 139.5 L214.4 137.8" fill="none" stroke="#9a9a9a" stroke-width="0.6"/>
<path d="M46.2 144.7 L49.1 145.3 L51.7 145.7 L58.1 145.9 L64.6 145.2 L68.5 144.3 L71.5 143.4 L74.5 142.1 L76.7 140.8 L78.4 139.5 L79.6 138.2 L80.5 136.9 L81.0 135.6 L81.1 134.3 L80.7 131.8 L79.4 129.2 L77.5 127.4 L76.2 126.6 L74.9 126.2 L72.3 125.8 L67.2 125.7 L58.8 126.6 L52.0 127.9 L47.9 129.2 L45.2 130.5 L43.5 131.8 L42.2 133.0 L40.7 135.6 L40.1 138.2 L40.1 139.5 L40.5 140.8 L41.4 142.1 L43.1 143.4 L46.2 144.7 M174.0 131.8 L175.7 132.5 L177.0 132.7 L180.8 132.6 L184.7 131.7 L189.9 129.7 L195.0 127.2 L198.9 124.8 L204.1 121.2 L209.2 116.9 L217.4 109.8 L221.5 105.9 L225.1 102.0 L227.0 99.5 L228.6 96.9 L229.8 94.3 L230.8 91.7 L231.5 89.1 L231.6 86.5 L231.2 85.2 L230.3 84.0 L228.6 82.9 L227.7 82.7 L224.8 82.5 L222.2 82.8 L219.6 83.4 L214.4 85.1 L209.2 87.3 L202.8 90.9 L196.3 95.3 L191.2 99.4 L187.0 103.3 L182.7 108.5 L179.2 113.7 L175.5 120.1 L173.2 125.3 L172.6 127.9 L172.6 129.2 L172.9 130.5 L174.0 131.8 M266.0 121.4 L271.2 122.3 L276.4 122.4 L282.9 121.8 L288.0 120.8 L290.7 120.1 L293.2 119.1 L295.7 117.5 L296.7 116.2 L297.1 115.0 L296.9 113.7 L296.2 112.4 L294.9 111.1 L292.9 109.8 L289.4 108.5 L285.5 107.7 L280.3 107.3 L273.8 107.3 L267.4 107.7 L262.2 108.5 L258.5 109.8 L256.6 111.1 L255.7 112.4 L255.5 113.7 L255.8 115.0 L256.6 116.2 L257.8 117.5 L259.6 118.8 L262.2 120.2 L266.0 121.4 M117.3 112.4 L118.8 112.8 L120.1 112.9 L121.4 112.8 L124.0 112.0 L126.6 110.5 L128.6 108.5 L130.1 105.9 L130.8 103.3 L130.9 102.0 L130.8 100.8 L130.4 99.5 L129.2 97.7 L127.9 96.8 L126.6 96.3 L125.3 96.1 L124.0 96.1 L121.4 96.5 L118.8 97.4 L117.5 98.2 L116.2 99.1 L114.7 100.8 L113.9 102.0 L113.3 103.3 L113.0 104.6 L113.1 107.2 L113.7 109.0 L115.0 110.9 L116.2 111.9 L117.3 112.4 M69.1 102.0 L72.3 102.6 L76.2 102.7 L80.1 102.0 L82.7 101.1 L85.2 99.5 L86.4 98.2 L87.1 96.9 L87.5 95.6 L87.4 94.3 L86.9 93.0 L85.9 91.7 L84.0 90.4 L81.4 89.3 L77.5 88.4 L73.6 88.1 L69.8 88.4 L67.2 88.9 L64.6 89.8 L63.5 90.4 L62.0 91.7 L61.1 93.0 L60.7 94.3 L60.7 95.6 L61.1 96.9 L61.9 98.2 L63.3 99.5 L65.9 100.9 L69.1 102.0 M137.0 93.0 L139.5 93.9 L143.4 94.2 L147.2 93.8 L151.2 93.0 L155.2 91.7 L157.7 90.4 L159.5 89.1 L160.8 87.8 L161.7 86.5 L162.9 84.0 L163.8 80.1 L163.9 74.9 L163.5 69.8 L162.7 65.9 L161.7 63.3 L159.9 60.7 L157.6 58.9 L155.0 57.7 L152.4 57.0 L149.8 56.8 L147.2 57.2 L144.2 58.1 L141.6 59.4 L139.5 61.0 L137.6 63.3 L136.3 65.9 L135.5 68.5 L132.7 80.1 L132.3 84.0 L132.5 86.5 L133.3 89.1 L134.0 90.4 L135.1 91.7 L137.0 93.0 M40.0 84.0 L41.3 84.1 L43.9 84.0 L46.5 82.9 L47.8 81.9 L49.0 80.1 L49.5 77.5 L49.5 76.2 L48.9 73.6 L47.8 71.1 L46.9 69.8 L45.2 67.7 L43.9 66.6 L42.6 65.9 L41.3 65.5 L40.0 65.6 L38.8 66.1 L36.2 67.8 L34.9 69.1 L33.6 71.0 L33.0 72.3 L32.4 74.9 L32.8 77.5 L33.2 78.8 L34.9 81.2 L36.2 82.3 L37.5 83.1 L40.0 84.0 M95.1 73.6 L98.2 74.2 L100.8 74.2 L104.6 73.3 L107.2 72.1 L110.6 69.8 L113.0 67.2 L114.4 64.6 L114.7 63.3 L114.8 62.0 L114.7 60.7 L114.1 59.4 L113.3 58.1 L110.4 55.5 L107.2 53.5 L103.3 51.4 L99.5 49.9 L95.6 49.1 L93.0 49.1 L90.4 49.7 L89.1 50.3 L86.8 51.7 L85.2 53.0 L83.9 54.2 L83.0 55.5 L82.4 56.8 L82.1 58.1 L82.1 59.4 L82.3 60.7 L83.2 63.3 L84.7 65.9 L86.5 68.2 L88.2 69.8 L90.4 71.5 L93.0 72.9 L95.1 73.6 M39.9 60.7 L41.3 61.2 L42.6 61.2 L45.2 60.4 L51.7 57.3 L54.2 55.7 L56.1 54.2 L57.4 53.0 L58.1 51.9 L58.7 50.4 L58.9 49.1 L58.8 47.8 L58.4 46.5 L57.7 45.2 L56.8 44.2 L55.5 43.4 L53.0 42.3 L49.1 41.7 L45.2 41.7 L41.3 42.2 L37.5 43.2 L34.9 44.4 L33.5 45.2 L32.3 46.2 L31.0 47.8 L30.5 49.1 L30.3 50.4 L30.5 51.7 L30.9 53.0 L32.7 55.5 L34.9 57.6 L38.8 60.3 L39.9 60.7 M199.0 45.2 L202.8 45.6 L218.3 44.7 L222.2 44.1 L224.8 43.3 L226.3 42.6 L228.4 41.3 L231.2 38.8 L232.8 36.2 L233.2 34.9 L233.3 33.6 L233.0 32.3 L232.2 31.0 L230.5 29.7 L227.3 28.7 L224.8 28.5 L222.2 28.7 L219.6 29.2 L217.0 30.1 L214.4 31.3 L208.0 34.9 L200.2 36.8 L197.6 38.0 L196.4 38.8 L195.3 40.0 L194.8 41.3 L195.0 42.6 L196.3 44.2 L197.6 44.8 L199.0 45.2 M120.5 36.2 L133.0 36.5 L138.2 36.5 L142.1 35.9 L144.7 35.1 L146.0 34.4 L148.5 32.6 L150.1 31.0 L152.0 28.4 L153.4 25.8 L154.1 23.2 L154.3 20.7 L153.7 18.2 L153.0 16.8 L152.0 15.5 L149.8 13.6 L147.2 12.2 L143.4 10.6 L139.5 9.6 L135.6 8.8 L131.8 8.2 L126.6 7.8 L121.4 7.8 L116.2 8.0 L111.1 8.5 L107.2 9.2 L103.3 10.1 L99.5 11.3 L95.6 12.9 L93.1 14.2 L90.4 16.2 L88.6 18.1 L87.2 20.7 L86.9 22.0 L87.0 24.5 L88.0 27.1 L90.0 29.7 L91.5 31.0 L93.5 32.3 L96.1 33.6 L99.5 34.7 L102.0 35.2 L108.5 35.8 L120.5 36.2 M183.8 124.0 L184.7 124.4 L187.3 124.5 L189.9 124.0 L193.8 122.6 L196.3 121.4 L200.5 118.8 L204.1 116.2 L208.8 112.4 L215.8 105.9 L218.2 103.3 L220.1 100.8 L221.5 98.2 L222.5 95.6 L222.7 94.3 L222.6 93.0 L222.2 91.7 L220.7 90.4 L218.3 90.0 L215.7 90.2 L211.8 91.3 L207.8 93.0 L203.0 95.6 L199.1 98.2 L195.7 100.8 L192.5 103.7 L189.1 107.2 L187.1 109.8 L184.8 113.7 L183.1 117.5 L182.5 120.1 L182.4 121.4 L182.7 122.7 L183.8 124.0 M267.3 118.8 L271.2 119.7 L275.1 120.0 L280.3 119.7 L284.2 119.1 L288.5 117.5 L290.2 116.2 L290.9 115.0 L290.8 113.7 L289.8 112.4 L287.6 111.1 L285.5 110.4 L282.9 109.8 L279.0 109.4 L275.1 109.3 L271.2 109.5 L267.4 110.2 L264.8 110.9 L263.5 111.6 L262.4 112.4 L261.6 113.7 L261.7 115.0 L262.5 116.2 L264.2 117.5 L267.3 118.8 M118.5 109.8 L120.1 110.1 L122.7 109.6 L124.8 108.5 L126.1 107.2 L126.9 105.9 L127.3 104.6 L127.4 103.3 L127.1 102.0 L126.6 101.1 L125.3 99.8 L124.0 99.2 L122.7 98.9 L120.1 99.2 L118.8 99.6 L117.5 100.4 L115.9 102.0 L115.3 103.3 L114.9 104.6 L114.9 105.9 L115.4 107.2 L116.2 108.5 L117.5 109.4 L118.5 109.8 M69.0 99.5 L71.0 100.1 L73.6 100.5 L76.2 100.4 L78.8 99.9 L80.1 99.4 L81.4 98.6 L82.7 97.4 L83.1 96.9 L83.4 95.6 L83.3 94.3 L82.5 93.0 L80.8 91.7 L77.5 90.5 L73.6 90.2 L71.4 90.4 L69.8 90.8 L68.5 91.3 L67.2 92.1 L66.2 93.0 L65.5 94.3 L65.4 95.6 L65.8 96.9 L66.9 98.2 L69.0 99.5 M140.7 87.8 L142.1 88.1 L143.6 87.8 L144.7 87.3 L145.6 86.5 L146.4 85.2 L146.7 84.0 L146.6 82.7 L146.0 81.3 L144.7 80.2 L143.4 79.8 L142.1 79.8 L140.8 80.2 L139.5 81.2 L138.6 82.7 L138.2 84.0 L138.4 85.2 L139.0 86.5 L139.5 87.1 L140.7 87.8 M95.9 71.0 L98.2 71.3 L100.8 71.1 L103.3 70.5 L105.9 69.1 L108.2 67.2 L109.3 65.9 L110.4 63.3 L110.6 62.0 L110.5 60.7 L110.1 59.4 L109.4 58.1 L108.3 56.8 L106.8 55.5 L104.6 54.1 L100.8 52.4 L98.2 51.8 L95.6 51.6 L93.0 51.8 L91.7 52.2 L89.9 53.0 L88.0 54.2 L86.8 55.5 L85.9 56.8 L85.4 58.1 L85.2 59.4 L85.2 60.7 L85.9 63.3 L87.5 65.9 L88.6 67.2 L90.4 68.7 L91.7 69.5 L94.3 70.6 L95.9 71.0 M40.7 53.0 L42.6 53.7 L45.2 53.9 L46.5 53.7 L48.9 53.0 L50.8 51.7 L51.8 50.4 L52.1 49.1 L51.6 47.8 L50.1 46.5 L47.8 45.8 L46.5 45.6 L43.9 45.7 L41.2 46.5 L39.4 47.8 L38.6 49.1 L38.5 50.4 L39.1 51.7 L40.7 53.0 M199.2 41.3 L200.2 42.0 L201.5 42.3 L202.8 42.2 L204.8 41.3 L204.9 40.0 L204.1 39.5 L202.8 39.2 L201.5 39.2 L200.2 39.6 L199.4 40.0 L199.2 41.3 M111.7 33.6 L120.1 34.2 L129.2 34.2 L135.6 33.6 L139.5 32.7 L142.1 31.6 L144.7 30.0 L146.4 28.4 L147.4 27.1 L148.5 24.7 L148.8 23.2 L148.8 22.0 L148.5 20.7 L147.8 19.4 L146.8 18.1 L145.3 16.8 L143.3 15.5 L140.8 14.4 L138.2 13.5 L131.8 12.0 L124.0 11.4 L117.5 11.5 L111.1 12.4 L107.2 13.3 L104.6 14.1 L102.0 15.2 L99.5 16.6 L96.9 18.6 L95.4 20.7 L94.9 22.0 L94.7 23.2 L94.9 24.5 L95.4 25.8 L96.9 27.8 L99.2 29.7 L100.8 30.6 L105.1 32.3 L108.5 33.1 L111.7 33.6 M270.5 116.2 L273.8 117.1 L277.7 117.1 L280.3 116.7 L281.8 116.2 L283.4 115.0 L283.1 113.7 L280.5 112.4 L277.7 112.0 L273.8 112.0 L271.6 112.4 L269.1 113.7 L268.8 115.0 L270.5 116.2 M119.3 107.2 L120.1 107.4 L121.4 107.3 L122.7 106.7 L123.6 105.9 L124.2 104.6 L124.1 103.3 L123.1 102.0 L121.4 101.5 L120.1 101.6 L118.8 102.2 L117.8 103.3 L117.4 104.6 L117.7 105.9 L118.8 107.0 L119.3 107.2 M70.6 96.9 L72.3 97.7 L73.6 98.0 L74.9 98.1 L76.2 97.9 L78.4 96.9 L79.2 95.6 L78.9 94.3 L77.5 93.2 L76.2 92.8 L73.6 92.6 L71.8 93.0 L70.0 94.3 L69.7 95.6 L70.6 96.9 M94.8 68.5 L96.9 68.9 L98.2 69.0 L100.8 68.6 L103.3 67.6 L105.6 65.9 L106.6 64.6 L107.1 63.3 L107.4 62.0 L107.4 60.7 L107.0 59.4 L106.3 58.1 L105.1 56.8 L103.3 55.5 L100.8 54.4 L99.5 54.0 L96.9 53.6 L94.3 53.9 L92.9 54.2 L90.5 55.5 L89.1 56.8 L88.4 58.1 L88.0 59.4 L87.9 60.7 L88.1 62.0 L88.5 63.3 L89.3 64.6 L90.4 65.9 L93.0 67.7 L94.8 68.5 M111.7 31.0 L117.5 31.9 L124.0 32.1 L129.2 31.8 L134.3 30.9 L138.2 29.5 L140.1 28.4 L141.6 27.1 L142.6 25.8 L143.2 24.5 L143.4 23.2 L143.3 22.0 L142.7 20.7 L142.1 19.9 L139.9 18.1 L136.9 16.6 L131.8 15.0 L126.6 14.3 L121.4 14.1 L116.2 14.5 L111.1 15.5 L107.2 16.8 L104.8 18.1 L103.3 19.1 L101.9 20.7 L101.3 22.0 L101.1 23.2 L101.3 24.5 L101.9 25.8 L103.1 27.1 L104.6 28.3 L107.4 29.7 L111.7 31.0 M94.3 65.9 L96.9 66.6 L99.5 66.5 L101.2 65.9 L103.0 64.6 L104.0 63.3 L104.4 62.0 L104.4 60.7 L103.9 59.4 L103.0 58.1 L100.8 56.6 L98.2 55.9 L96.9 55.8 L94.3 56.2 L93.0 56.8 L91.7 58.0 L90.9 59.4 L90.6 60.7 L90.8 62.0 L91.4 63.3 L92.4 64.6 L94.3 65.9 M121.0 29.7 L124.5 29.7 L127.9 29.4 L131.8 28.5 L134.3 27.4 L136.5 25.8 L137.4 24.5 L137.7 23.2 L137.3 22.0 L136.4 20.7 L135.6 20.0 L134.7 19.4 L133.0 18.6 L130.5 17.7 L126.6 17.0 L122.7 16.7 L118.8 16.9 L115.0 17.6 L113.1 18.1 L111.1 18.9 L110.1 19.4 L108.4 20.7 L107.4 22.0 L107.1 23.2 L107.4 24.5 L108.4 25.8 L110.1 27.1 L113.2 28.4 L117.5 29.4 L121.0 29.7 M96.1 63.3 L96.9 63.5 L98.2 63.6 L99.5 63.1 L100.4 62.0 L100.5 60.7 L99.6 59.4 L98.2 58.8 L96.9 58.8 L95.2 59.4 L94.3 60.7 L94.6 62.0 L95.6 63.0 L96.1 63.3 M117.6 25.8 L120.1 26.4 L122.7 26.5 L126.6 26.1 L127.9 25.6 L129.6 24.5 L130.2 23.2 L129.5 22.0 L127.9 21.0 L126.6 20.5 L122.7 20.0 L118.8 20.4 L117.5 20.7 L115.3 22.0 L114.7 23.2 L115.3 24.5 L117.6 25.8" fill="none" stroke="#f05a5a" stroke-width="1.25"/>
<path d="M310.0 140.1 L304.8 140.7 L298.4 140.9 L291.9 140.6 L286.8 139.8 L281.6 138.6 L277.3 136.9 L275.1 135.5 L273.9 134.3 L273.4 133.0 L273.6 131.8 L274.9 130.5 L277.6 129.2 L281.8 127.9 L287.6 126.6 L294.5 125.3 L306.1 123.4 L310.0 122.9 M231.2 128.0 L228.0 126.6 L226.3 125.3 L225.1 124.0 L224.5 122.7 L224.4 121.4 L224.6 120.1 L225.4 118.8 L226.8 117.5 L228.6 116.5 L231.2 115.7 L233.8 115.3 L236.4 115.5 L239.0 116.1 L240.2 116.7 L242.8 118.2 L245.4 120.1 L247.7 122.7 L248.4 124.0 L248.7 125.3 L248.1 126.6 L246.3 127.9 L244.1 128.6 L241.5 129.0 L237.7 129.1 L233.8 128.6 L231.2 128.0 M0.0 122.9 L2.6 122.9 L5.2 123.1 L7.8 123.9 L10.3 125.2 L12.9 127.1 L14.2 128.6 L15.1 130.5 L15.2 131.8 L14.9 133.0 L14.1 134.3 L12.7 135.6 L10.7 136.9 L6.5 138.6 L0.0 140.1 M153.7 121.5 L149.8 121.0 L147.2 120.2 L144.7 118.9 L143.1 117.5 L142.1 116.2 L141.6 115.0 L141.5 113.7 L141.8 112.4 L142.6 111.1 L144.0 109.8 L146.4 108.5 L149.8 107.4 L153.7 106.9 L157.6 106.9 L160.2 107.2 L163.9 108.5 L165.7 109.8 L166.5 111.1 L166.8 112.4 L166.7 113.7 L165.4 116.2 L164.0 117.8 L162.8 118.9 L160.2 120.3 L157.6 121.1 L153.7 121.5 M91.7 120.2 L90.4 119.8 L88.6 118.8 L82.7 114.5 L80.1 113.2 L78.8 112.9 L76.2 113.1 L68.8 115.0 L62.0 116.4 L56.8 117.0 L53.0 117.1 L50.4 116.9 L47.8 116.4 L46.5 116.0 L44.1 115.0 L42.8 113.7 L42.2 112.4 L42.2 111.1 L42.7 109.8 L43.5 108.5 L44.9 107.2 L46.5 106.2 L49.1 105.1 L53.0 104.5 L55.5 104.6 L58.1 105.1 L60.9 105.9 L68.5 108.9 L74.9 110.5 L77.5 110.8 L78.8 110.8 L80.1 110.5 L81.4 110.0 L84.0 108.8 L86.5 107.2 L89.1 105.3 L91.7 103.0 L94.7 99.5 L100.8 90.5 L102.0 89.0 L104.6 86.5 L107.2 84.5 L109.8 83.0 L112.4 82.0 L113.7 81.7 L115.0 81.7 L116.2 82.0 L117.1 82.7 L118.0 84.0 L118.5 85.2 L118.7 86.5 L118.4 89.1 L117.4 91.7 L116.5 93.0 L112.4 97.8 L110.6 100.8 L109.2 104.6 L108.2 111.1 L107.2 113.4 L106.0 115.0 L104.5 116.2 L102.0 117.9 L99.5 119.2 L95.6 120.3 L93.0 120.4 L91.7 120.2 M310.0 110.0 L304.8 105.7 L302.2 104.0 L299.7 103.0 L297.1 102.5 L293.2 102.3 L279.0 103.1 L270.0 103.2 L262.2 102.8 L255.8 101.8 L252.4 100.8 L250.6 99.8 L249.3 98.9 L248.5 98.2 L247.5 96.9 L247.0 95.6 L247.0 94.3 L247.3 93.0 L248.0 91.7 L249.1 90.4 L250.6 89.1 L253.2 87.6 L257.0 85.9 L260.9 84.9 L263.5 84.4 L267.4 84.1 L272.5 84.1 L277.7 84.3 L281.6 84.7 L286.8 85.5 L293.2 87.1 L302.2 89.8 L310.0 91.8 M0.0 91.8 L2.6 92.5 L5.2 93.5 L6.7 94.3 L9.0 96.1 L10.3 97.4 L11.7 99.5 L12.7 102.0 L13.1 104.6 L12.9 107.2 L12.0 109.8 L10.3 111.7 L9.0 112.5 L7.8 112.9 L6.5 113.0 L5.2 112.9 L2.6 111.8 L0.0 110.0 M72.3 82.7 L69.8 82.2 L67.4 81.4 L65.9 80.5 L64.6 79.5 L63.3 78.1 L62.0 76.2 L60.3 72.3 L59.7 69.8 L59.6 68.5 L60.0 65.9 L60.6 64.6 L61.7 63.3 L63.3 62.0 L65.9 61.0 L68.5 60.6 L71.0 61.0 L72.3 61.5 L74.9 63.2 L77.5 65.7 L81.8 71.0 L84.4 74.9 L85.6 77.5 L85.8 78.8 L85.6 80.1 L84.7 81.4 L82.7 82.4 L81.4 82.7 L78.8 83.0 L76.2 83.0 L72.3 82.7 M197.6 73.7 L193.8 72.1 L191.2 70.2 L189.5 68.5 L188.2 65.9 L187.9 63.3 L188.1 62.0 L188.5 60.7 L189.2 59.4 L190.2 58.1 L191.5 56.8 L193.4 55.5 L196.3 54.2 L200.2 53.2 L204.1 52.7 L209.2 52.9 L213.1 53.6 L217.0 54.9 L220.3 56.8 L221.8 58.1 L222.8 59.4 L223.4 60.7 L223.8 62.0 L223.9 63.3 L223.8 64.6 L223.3 65.9 L222.7 67.2 L220.9 69.3 L218.6 71.0 L217.0 72.0 L213.1 73.6 L210.5 74.3 L208.0 74.7 L202.8 74.7 L200.2 74.3 L197.6 73.7 M254.5 72.6 L251.9 71.8 L250.4 71.0 L248.0 69.2 L246.2 67.2 L245.4 65.9 L244.4 63.3 L244.2 60.7 L244.8 58.1 L246.0 55.5 L247.0 54.2 L249.3 52.1 L251.9 50.6 L254.5 49.7 L257.0 49.3 L259.6 49.5 L260.9 49.8 L263.5 50.9 L264.8 51.8 L266.1 53.0 L267.9 55.5 L268.4 56.8 L269.1 59.4 L269.1 62.0 L268.7 63.9 L267.9 65.9 L267.2 67.2 L266.1 68.6 L263.5 70.9 L262.2 71.6 L259.6 72.5 L257.0 72.9 L254.5 72.6 M116.2 53.2 L112.4 51.8 L109.5 50.4 L105.6 47.8 L104.4 46.5 L103.7 45.2 L103.8 43.9 L104.8 42.6 L107.3 41.3 L111.1 40.3 L116.2 39.7 L121.4 39.7 L126.0 40.0 L130.5 40.8 L134.3 42.2 L135.2 42.6 L136.9 43.9 L137.7 45.2 L137.8 46.5 L137.3 47.8 L136.2 49.1 L134.3 50.5 L130.5 52.3 L126.6 53.4 L122.7 53.9 L118.8 53.7 L116.2 53.2 M72.3 50.5 L71.0 49.8 L70.3 49.1 L69.7 47.8 L69.8 46.5 L70.7 45.2 L72.3 44.3 L73.6 44.0 L74.9 43.9 L76.2 44.0 L77.5 44.4 L79.0 45.2 L79.8 46.5 L79.6 47.8 L78.5 49.1 L76.2 50.4 L73.6 50.8 L72.3 50.5 M171.8 42.7 L167.9 42.0 L166.0 41.3 L164.0 40.2 L162.5 38.8 L161.7 37.5 L161.2 36.2 L161.0 34.9 L161.1 33.6 L161.5 31.0 L162.4 28.4 L163.9 24.5 L166.6 19.3 L167.9 17.4 L169.6 15.5 L173.1 12.5 L177.0 10.4 L182.1 8.6 L186.0 7.9 L191.2 7.6 L195.0 8.1 L198.9 9.3 L200.9 10.3 L202.5 11.6 L204.1 13.7 L204.8 15.5 L205.0 16.8 L204.8 19.4 L204.0 22.0 L202.6 24.5 L200.8 27.1 L198.6 29.7 L195.8 32.3 L192.5 34.9 L188.6 37.6 L184.7 39.8 L182.1 40.9 L178.2 42.1 L174.4 42.6 L171.8 42.7 M14.2 36.2 L9.0 34.5 L7.2 33.6 L5.2 32.3 L3.7 31.0 L2.6 29.7 L2.0 28.4 L1.7 27.1 L1.8 25.8 L2.2 24.5 L3.0 23.2 L4.1 22.0 L5.8 20.7 L8.0 19.4 L10.3 18.3 L15.5 16.7 L22.0 15.5 L28.4 15.1 L36.2 15.3 L42.6 16.2 L47.8 17.6 L50.4 18.6 L53.0 19.9 L55.5 21.7 L56.8 23.1 L57.7 24.5 L58.0 25.8 L58.0 27.1 L57.6 28.4 L56.7 29.7 L55.5 30.7 L52.6 32.3 L48.4 33.6 L42.2 34.9 L34.9 36.1 L27.1 37.1 L20.7 37.2 L16.8 36.8 L14.2 36.2 M310.0 135.3 L307.4 136.0 L303.5 136.5 L299.7 136.6 L297.1 136.5 L291.9 135.6 L289.0 134.3 L288.0 133.0 L288.4 131.8 L290.3 130.5 L294.5 129.1 L299.7 128.4 L303.5 128.2 L307.4 128.4 L310.0 128.9 M0.0 128.9 L1.3 129.3 L3.3 130.5 L4.1 131.8 L3.8 133.0 L2.6 134.1 L0.0 135.3 M93.0 115.0 L91.7 113.7 L91.2 112.4 L91.2 111.1 L91.6 109.8 L92.3 108.5 L94.1 105.9 L100.8 97.4 L104.6 93.3 L107.2 91.3 L108.5 90.7 L109.8 90.4 L111.1 90.9 L111.5 91.7 L111.4 93.0 L111.0 94.3 L107.9 100.8 L105.9 108.1 L104.4 111.1 L103.3 112.4 L102.0 113.4 L99.5 114.9 L98.2 115.3 L95.6 115.7 L94.3 115.5 L93.0 115.0 M53.0 112.6 L51.7 112.3 L50.1 111.1 L50.1 109.8 L51.6 108.5 L53.0 108.2 L55.5 108.2 L56.8 108.6 L58.4 109.8 L58.6 111.1 L56.9 112.4 L55.5 112.7 L53.0 112.6 M268.7 100.8 L264.8 100.2 L260.9 99.2 L258.3 98.0 L256.8 96.9 L256.0 95.6 L255.9 94.3 L256.3 93.0 L257.4 91.7 L259.6 90.3 L263.5 88.9 L267.4 88.1 L272.5 87.7 L277.7 87.9 L281.6 88.4 L285.5 89.4 L289.3 90.9 L290.8 91.7 L292.4 93.0 L293.2 94.3 L293.2 95.6 L292.3 96.9 L290.4 98.2 L286.8 99.5 L282.9 100.3 L278.9 100.8 L273.8 101.0 L268.7 100.8 M73.6 77.6 L72.3 77.3 L69.9 76.2 L68.4 74.9 L67.4 73.6 L66.8 72.3 L66.6 71.0 L66.7 69.8 L67.5 68.5 L68.5 67.8 L69.8 67.5 L71.0 67.6 L73.2 68.5 L75.0 69.8 L76.1 71.0 L76.9 72.3 L77.5 73.6 L77.7 74.9 L77.4 76.2 L76.2 77.2 L74.9 77.6 L73.6 77.6 M200.2 69.9 L197.6 68.9 L196.3 68.1 L195.3 67.2 L194.2 65.9 L193.6 64.6 L193.4 63.3 L193.5 62.0 L194.0 60.7 L195.0 59.3 L196.4 58.1 L197.6 57.4 L200.2 56.3 L202.8 55.8 L206.7 55.6 L209.2 55.9 L212.3 56.8 L214.4 57.9 L216.1 59.4 L217.0 60.7 L217.4 62.0 L217.5 63.3 L217.1 64.6 L216.5 65.9 L215.3 67.2 L213.1 68.7 L210.5 69.8 L206.7 70.6 L202.8 70.5 L200.2 69.9 M115.0 50.6 L111.7 49.1 L109.9 47.8 L108.9 46.5 L108.7 45.2 L109.5 43.9 L111.1 42.9 L112.4 42.4 L115.0 41.8 L117.5 41.5 L121.4 41.4 L124.0 41.7 L126.6 42.1 L129.2 43.0 L131.0 43.9 L132.2 45.2 L132.4 46.5 L131.8 47.9 L130.5 49.1 L127.9 50.4 L126.6 50.8 L124.0 51.3 L120.1 51.5 L117.5 51.2 L115.0 50.6 M173.1 37.5 L170.5 36.7 L169.2 35.8 L168.3 34.9 L167.6 33.6 L167.3 32.3 L167.2 31.0 L167.6 28.4 L169.2 24.5 L170.9 22.0 L173.1 19.6 L175.7 17.5 L178.2 16.1 L180.8 15.1 L184.7 14.2 L188.6 14.1 L191.2 14.5 L193.8 15.4 L195.6 16.8 L196.5 18.1 L197.1 19.4 L197.3 20.7 L196.9 23.2 L196.5 24.5 L195.0 27.1 L192.8 29.7 L191.5 31.0 L187.3 34.0 L184.7 35.4 L182.1 36.5 L179.5 37.3 L177.0 37.7 L173.1 37.5 M23.2 31.1 L19.4 29.7 L17.8 28.4 L17.1 27.1 L17.2 25.8 L18.2 24.5 L20.1 23.2 L23.2 22.2 L25.8 21.7 L29.7 21.4 L33.6 21.6 L36.2 22.0 L40.1 23.2 L42.0 24.5 L42.8 25.8 L42.8 27.1 L41.8 28.4 L39.7 29.7 L36.2 30.8 L33.6 31.3 L29.7 31.6 L25.8 31.5 L23.2 31.1 M267.4 97.2 L266.5 96.9 L264.7 95.6 L264.4 94.3 L265.4 93.0 L266.1 92.6 L268.3 91.7 L270.0 91.4 L273.8 91.1 L276.4 91.2 L279.0 91.6 L282.3 93.0 L283.4 94.3 L283.1 95.6 L281.6 96.7 L280.3 97.2 L277.7 97.8 L275.1 98.1 L272.5 98.1 L270.0 97.8 L267.4 97.2 M202.8 66.2 L201.5 65.7 L200.2 64.8 L199.4 63.3 L199.5 62.0 L200.4 60.7 L201.5 60.0 L202.7 59.4 L204.1 59.1 L206.7 59.1 L208.0 59.4 L210.3 60.7 L211.1 62.0 L211.2 63.3 L210.5 64.6 L208.6 65.9 L206.7 66.4 L205.4 66.5 L202.8 66.2 M116.2 48.2 L115.4 47.8 L114.1 46.5 L114.4 45.2 L116.2 44.2 L117.5 43.8 L120.1 43.6 L123.4 43.9 L126.3 45.2 L126.8 46.5 L125.8 47.8 L122.7 48.8 L120.1 49.0 L118.8 48.9 L116.2 48.2 M175.7 31.3 L175.3 31.0 L174.4 29.7 L174.3 28.4 L174.5 27.1 L175.1 25.8 L175.9 24.5 L177.1 23.2 L178.2 22.4 L179.5 21.6 L181.9 20.7 L184.7 20.3 L186.0 20.4 L187.3 20.8 L188.8 22.0 L189.4 23.2 L189.4 24.5 L189.0 25.8 L188.2 27.1 L187.3 28.2 L185.6 29.7 L183.4 31.0 L180.8 31.9 L179.5 32.1 L178.2 32.1 L177.0 31.9 L175.7 31.3  " fill="none" stroke="#5e5ef4" stroke-width="1.25" stroke-dasharray="2.2 0.95"/>
</g></g>
<rect x="367.3" y="40.45" width="310.9" height="154.85" fill="none" stroke="#767676" stroke-width="1"/>
<line x1="362.30" y1="40.45" x2="367.30" y2="40.45" class="tk"/>
<text x="356.8" y="43.7" class="lab" text-anchor="end">90N</text>
<line x1="362.30" y1="66.26" x2="367.30" y2="66.26" class="tk"/>
<text x="356.8" y="69.5" class="lab" text-anchor="end">60N</text>
<line x1="362.30" y1="92.07" x2="367.30" y2="92.07" class="tk"/>
<text x="356.8" y="95.3" class="lab" text-anchor="end">30N</text>
<line x1="362.30" y1="117.88" x2="367.30" y2="117.88" class="tk"/>
<text x="356.8" y="121.1" class="lab" text-anchor="end">0</text>
<line x1="362.30" y1="143.68" x2="367.30" y2="143.68" class="tk"/>
<text x="356.8" y="146.9" class="lab" text-anchor="end">30S</text>
<line x1="362.30" y1="169.49" x2="367.30" y2="169.49" class="tk"/>
<text x="356.8" y="172.7" class="lab" text-anchor="end">60S</text>
<line x1="362.30" y1="195.30" x2="367.30" y2="195.30" class="tk"/>
<text x="356.8" y="198.5" class="lab" text-anchor="end">90S</text>
<line x1="367.30" y1="195.30" x2="367.30" y2="200.30" class="tk"/>
<line x1="419.12" y1="195.30" x2="419.12" y2="200.30" class="tk"/>
<line x1="470.93" y1="195.30" x2="470.93" y2="200.30" class="tk"/>
<line x1="522.75" y1="195.30" x2="522.75" y2="200.30" class="tk"/>
<line x1="574.57" y1="195.30" x2="574.57" y2="200.30" class="tk"/>
<line x1="626.38" y1="195.30" x2="626.38" y2="200.30" class="tk"/>
<line x1="678.20" y1="195.30" x2="678.20" y2="200.30" class="tk"/>
<text x="522.8" y="38.0" class="pt" text-anchor="middle">Lag = 3 pentads</text>
<clipPath id="c2"><rect x="0" y="0" width="310" height="155"/></clipPath>
<g transform="translate(26,218.2) scale(1.00097,0.99935)"><g clip-path="url(#c2)">
<path d="M202.3 144.7 L204.1 145.4 L205.4 145.6 L208.0 145.8 L211.8 145.7 L218.3 144.9 L223.5 144.1 L228.6 142.9 L233.8 141.4 L237.7 140.1 L242.2 138.2 L244.3 136.9 L245.6 135.6 L245.5 134.3 L244.1 133.8 L241.5 133.3 L236.4 133.3 L229.9 134.0 L224.8 134.9 L219.6 136.0 L213.1 137.8 L209.2 139.2 L205.6 140.8 L203.4 142.1 L202.1 143.4 L202.3 144.7Z M43.9 124.0 L46.5 124.5 L49.1 124.4 L51.7 123.8 L53.0 123.2 L54.2 122.3 L55.2 121.4 L55.9 120.1 L56.0 118.8 L55.5 117.5 L54.4 116.2 L53.0 115.3 L50.4 114.4 L49.1 114.2 L45.2 114.2 L43.9 114.5 L41.3 115.6 L40.4 116.2 L39.2 117.5 L38.8 118.8 L38.9 120.1 L39.5 121.4 L40.9 122.7 L42.6 123.6 L43.9 124.0Z M31.9 90.4 L34.9 91.2 L38.8 91.2 L41.3 90.7 L42.6 90.2 L44.8 89.1 L46.5 87.6 L47.4 86.5 L48.0 85.2 L48.2 84.0 L48.2 82.7 L47.8 81.4 L47.1 80.1 L45.9 78.8 L43.9 77.4 L41.3 76.4 L38.8 75.8 L36.2 75.8 L33.6 76.1 L31.0 77.0 L29.7 77.7 L28.2 78.8 L27.0 80.1 L26.3 81.4 L25.9 82.7 L25.8 84.0 L26.1 85.2 L26.7 86.5 L27.7 87.8 L29.7 89.4 L31.9 90.4Z M172.7 86.5 L175.7 87.0 L179.5 86.7 L182.1 86.1 L184.7 84.8 L185.8 84.0 L186.9 82.7 L187.5 81.4 L187.7 80.1 L187.5 78.8 L186.9 77.5 L185.8 76.2 L183.4 74.6 L180.8 73.7 L178.2 73.2 L175.7 73.2 L173.1 73.5 L170.5 74.3 L167.9 75.7 L166.1 77.5 L165.5 78.8 L165.3 80.1 L165.5 81.4 L166.1 82.7 L167.9 84.5 L170.5 85.9 L172.7 86.5Z M116.5 85.2 L117.5 86.2 L118.8 86.0 L119.6 85.2 L119.7 84.0 L118.8 82.9 L117.5 82.7 L116.3 84.0 L116.5 85.2Z M131.9 77.5 L133.0 78.0 L135.6 78.4 L138.2 78.2 L140.2 77.5 L142.0 76.2 L142.9 74.9 L143.1 73.6 L142.7 72.3 L142.1 71.6 L140.8 70.6 L139.5 70.1 L138.2 69.8 L136.9 69.7 L134.3 69.8 L131.8 70.7 L129.7 72.3 L129.2 73.6 L129.3 74.9 L130.1 76.2 L131.9 77.5Z M87.7 76.2 L89.1 77.1 L90.4 77.4 L91.7 77.5 L93.0 77.2 L94.3 76.6 L95.6 75.6 L97.2 73.6 L97.8 72.3 L98.7 69.8 L99.0 67.2 L99.0 64.6 L98.5 62.0 L98.0 60.7 L96.9 58.4 L95.6 56.7 L94.3 55.6 L93.0 54.8 L91.7 54.6 L90.4 54.8 L89.1 55.3 L87.8 56.1 L86.0 58.1 L84.5 60.7 L84.1 62.0 L83.5 65.9 L83.9 69.8 L84.7 72.3 L85.4 73.6 L86.5 75.2 L87.7 76.2Z M146.7 67.2 L148.5 67.1 L149.8 66.8 L151.1 66.2 L153.2 64.6 L154.3 63.3 L155.7 60.7 L157.0 56.8 L157.0 55.5 L156.7 54.2 L156.0 53.0 L154.8 51.7 L153.7 50.8 L152.4 50.0 L149.8 48.9 L147.2 48.1 L140.8 46.7 L129.2 43.2 L118.8 40.6 L107.2 38.2 L98.2 36.8 L86.5 35.7 L76.2 35.4 L72.3 35.6 L68.6 36.2 L67.2 36.6 L65.6 37.5 L65.3 38.8 L66.2 40.0 L68.0 41.3 L70.4 42.6 L74.9 44.5 L84.8 47.8 L93.0 50.8 L101.5 51.7 L113.7 53.6 L121.4 54.6 L131.8 55.6 L134.3 56.0 L135.6 56.5 L136.9 57.3 L137.6 58.1 L140.3 63.3 L142.1 65.3 L143.4 66.3 L144.7 66.8 L146.7 67.2Z M198.3 45.2 L201.5 45.9 L204.1 46.1 L210.5 46.0 L214.4 45.7 L219.6 44.8 L226.0 43.2 L229.9 42.0 L233.8 40.4 L236.4 39.2 L239.3 37.5 L241.0 36.2 L242.4 34.9 L243.4 33.6 L243.9 32.3 L244.0 31.0 L243.5 29.7 L242.8 29.0 L242.1 28.4 L240.2 27.5 L236.4 26.5 L232.5 26.2 L227.3 26.3 L222.2 26.8 L217.0 27.7 L210.5 29.4 L204.1 31.6 L199.6 33.6 L196.3 35.5 L194.3 37.5 L193.5 38.8 L193.1 40.0 L193.2 41.3 L193.8 42.6 L195.3 43.9 L198.3 45.2Z M175.3 33.6 L178.2 34.4 L180.8 34.7 L184.7 34.6 L187.3 34.0 L189.9 32.7 L191.2 31.5 L192.4 29.7 L194.5 25.8 L195.7 24.5 L197.9 23.2 L202.3 22.0 L213.1 19.8 L223.5 17.4 L236.4 13.5 L244.1 10.8 L250.8 7.8 L252.9 6.5 L254.4 5.2 L254.5 3.9 L253.2 3.3 L251.9 3.0 L248.0 2.9 L241.5 3.4 L233.8 4.5 L226.0 6.1 L215.7 8.5 L206.7 11.1 L196.3 14.4 L192.5 15.5 L188.6 16.0 L180.8 16.5 L175.7 17.5 L173.1 18.6 L170.1 20.7 L168.8 22.0 L168.0 23.2 L167.4 24.5 L167.3 25.8 L167.6 27.1 L168.2 28.4 L169.3 29.7 L171.8 31.8 L175.3 33.6Z M108.7 29.7 L113.7 30.1 L118.8 30.1 L122.7 29.8 L127.9 29.0 L131.8 28.1 L135.6 26.7 L138.2 25.4 L141.2 23.2 L142.4 22.0 L143.2 20.7 L143.7 19.4 L143.8 18.1 L143.7 16.8 L143.2 15.5 L142.4 14.2 L141.3 12.9 L139.5 11.5 L135.6 9.4 L131.8 7.9 L127.9 6.9 L124.0 6.2 L116.2 5.4 L85.2 4.6 L73.6 4.6 L63.3 5.3 L55.5 6.5 L50.4 8.0 L48.2 9.0 L46.7 10.3 L46.6 11.6 L47.5 12.9 L49.8 14.2 L51.7 14.9 L56.8 16.2 L62.0 17.0 L76.2 18.5 L82.7 19.4 L86.6 20.7 L89.0 22.0 L94.3 25.4 L98.2 27.2 L103.3 28.8 L108.7 29.7Z" fill="#e4c9aa" stroke="none" fill-rule="evenodd"/>
<path d="M10.3 21.0 L12.1 18.2 L20.0 16.1 L38.8 18.1 L44.8 17.2 L54.2 18.5 L70.6 19.4 L73.2 18.5 L77.5 18.5 L81.8 17.7 L84.4 20.2 L80.9 22.4 L74.1 25.0 L74.1 26.9 L75.8 28.4 L80.1 29.7 L84.4 30.1 L84.4 32.3 L87.0 33.2 L87.1 30.1 L88.7 25.8 L87.8 23.9 L92.1 24.1 L95.2 25.0 L97.3 27.1 L99.5 25.6 L102.0 29.3 L105.9 32.7 L106.8 33.2 L103.3 34.3 L97.7 34.3 L94.7 36.6 L99.5 35.5 L99.0 37.0 L102.5 38.2 L98.2 40.0 L94.5 39.9 L94.7 41.5 L91.3 42.5 L90.0 44.3 L89.6 45.6 L90.0 47.1 L87.8 48.4 L85.2 50.4 L86.1 54.7 L85.8 55.8 L84.6 55.1 L82.7 51.7 L80.9 51.3 L77.9 51.5 L78.1 52.5 L74.1 52.0 L71.5 53.6 L71.0 56.0 L70.9 59.0 L71.9 60.7 L73.6 61.8 L76.2 61.6 L77.1 59.4 L80.1 59.0 L79.7 61.6 L78.8 63.7 L82.7 63.9 L83.1 68.0 L84.8 69.8 L86.5 69.3 L88.3 70.2 L88.4 70.7 L86.1 71.2 L81.2 68.9 L79.7 66.3 L76.2 65.4 L73.6 63.7 L71.9 64.0 L68.0 62.7 L64.2 60.3 L64.3 59.0 L61.6 55.5 L58.0 50.4 L56.2 50.2 L60.7 57.7 L58.6 56.1 L56.0 53.1 L54.2 49.5 L53.0 48.2 L51.2 47.7 L49.5 45.2 L48.2 42.6 L48.0 40.5 L48.2 37.6 L47.6 35.8 L49.1 35.7 L47.4 34.4 L44.8 33.6 L43.1 30.6 L40.5 28.4 L37.9 27.1 L34.4 26.0 L29.3 25.1 L25.0 26.3 L22.4 28.0 L18.9 29.3 L13.3 30.6 L17.2 28.8 L19.8 27.1 L15.5 27.0 L13.3 25.4 L12.5 24.1 L13.3 23.0 L16.4 22.0 L11.6 21.7 L10.3 21.0 M92.1 9.9 L97.3 8.2 L103.3 6.9 L116.2 6.0 L129.2 5.6 L137.8 6.9 L144.7 7.3 L139.5 11.2 L138.6 13.8 L136.1 16.8 L133.5 18.1 L127.4 18.9 L122.3 21.1 L119.7 23.2 L117.5 25.8 L113.7 25.0 L111.5 22.4 L109.8 19.8 L107.6 15.1 L105.1 12.5 L98.2 11.6 L92.1 9.9 M101.8 20.2 L99.5 23.7 L98.2 24.3 L88.3 22.1 L91.3 20.7 L92.1 18.5 L88.7 17.7 L78.4 15.9 L80.9 14.6 L86.1 14.0 L93.0 15.1 L96.4 16.8 L101.6 19.8 L101.8 20.2 M77.5 11.2 L90.4 9.9 L101.6 6.9 L90.4 6.0 L77.5 7.3 L73.2 9.5 L77.5 11.2 M53.4 16.4 L64.6 14.6 L68.0 17.2 L62.0 18.3 L54.2 17.7 L53.4 16.4 M47.4 15.5 L51.7 13.3 L56.0 14.2 L53.4 15.9 L47.4 15.5 M75.8 11.6 L86.1 11.6 L86.1 13.3 L75.8 13.3 L75.8 11.6 M60.3 11.6 L68.9 10.3 L72.3 11.2 L70.6 12.9 L64.6 12.9 L60.3 11.6 M51.7 12.1 L57.7 11.2 L62.0 12.5 L56.8 13.3 L51.7 12.1 M80.9 22.6 L86.1 22.8 L84.4 20.8 L80.9 21.1 L80.9 22.6 M103.9 36.5 L106.8 34.9 L107.2 33.2 L109.5 36.6 L107.2 37.2 L103.9 36.5 M88.4 70.6 L90.0 68.5 L92.1 67.6 L93.4 66.8 L93.9 68.2 L96.4 68.5 L99.9 68.4 L102.0 68.9 L105.9 72.3 L109.4 72.8 L111.1 74.1 L111.9 76.2 L112.8 77.5 L113.7 78.4 L116.7 79.7 L120.6 79.9 L123.1 81.8 L124.7 82.2 L125.0 84.4 L124.4 86.1 L121.8 88.7 L121.4 92.6 L120.1 95.6 L118.8 97.3 L116.7 97.5 L113.2 100.3 L113.1 102.0 L108.9 106.8 L107.6 107.6 L105.5 107.2 L105.7 108.9 L105.5 110.4 L101.6 111.1 L101.4 112.6 L99.0 112.8 L99.9 114.1 L98.6 116.2 L96.9 117.5 L98.2 118.7 L95.6 121.0 L96.2 122.5 L97.7 124.9 L94.7 125.1 L91.3 123.1 L90.0 120.6 L91.3 118.0 L91.3 115.4 L91.7 113.2 L91.5 109.4 L93.4 105.1 L93.4 101.6 L94.4 97.7 L94.5 93.4 L90.0 90.4 L89.1 89.1 L86.5 84.0 L85.0 81.6 L86.1 79.7 L85.3 78.4 L86.1 76.6 L87.1 76.0 L88.3 74.1 L88.4 70.6 M149.9 46.7 L154.1 46.9 L157.6 45.8 L163.6 45.5 L164.5 47.4 L164.0 48.7 L167.9 49.6 L171.8 51.2 L172.4 49.5 L174.8 49.5 L176.5 50.1 L180.4 50.8 L182.8 50.6 L183.0 51.8 L187.0 59.4 L189.2 64.2 L192.3 67.0 L192.9 68.5 L199.1 67.3 L198.9 68.5 L197.6 71.9 L194.6 75.8 L191.2 78.4 L189.4 80.1 L188.8 81.8 L189.0 84.4 L189.9 87.0 L189.9 90.4 L186.9 92.6 L185.1 94.7 L185.6 97.7 L183.4 99.7 L183.2 102.0 L181.3 104.2 L178.7 106.3 L172.2 107.5 L170.8 107.0 L170.7 105.1 L169.2 102.1 L167.9 100.3 L167.5 96.9 L165.3 93.4 L165.2 91.1 L166.6 87.8 L166.4 85.1 L164.9 80.5 L163.0 77.9 L163.3 74.1 L162.3 73.6 L160.2 73.8 L158.9 72.1 L156.7 72.1 L153.7 73.2 L151.6 73.0 L148.5 73.7 L143.8 70.6 L142.1 68.0 L140.3 64.8 L140.8 60.7 L140.4 59.4 L143.8 53.6 L146.6 51.9 L146.8 49.5 L149.1 48.2 L149.9 46.7 M197.5 87.8 L198.5 90.8 L197.6 92.1 L195.5 99.0 L193.8 99.5 L192.5 96.4 L193.1 94.3 L192.9 92.1 L195.0 91.0 L197.5 87.8 M150.2 46.5 L149.6 45.8 L148.5 45.5 L147.2 45.6 L147.4 44.2 L146.8 43.9 L147.4 42.2 L147.0 40.5 L148.1 39.9 L153.4 40.1 L154.0 37.9 L153.1 36.9 L151.0 35.9 L153.7 35.6 L153.6 34.8 L155.2 34.9 L156.4 33.7 L157.6 33.4 L158.9 32.7 L159.3 31.7 L162.5 31.1 L162.4 29.7 L162.1 28.6 L164.1 27.8 L164.0 28.8 L163.6 30.1 L164.5 30.8 L166.6 30.7 L167.5 31.2 L170.5 30.3 L171.8 30.7 L173.1 29.7 L173.1 28.4 L173.9 27.9 L175.5 28.4 L175.9 27.1 L175.2 26.5 L179.1 26.3 L180.8 25.8 L176.5 25.5 L174.4 25.8 L173.5 25.0 L173.5 23.2 L176.5 21.5 L177.0 21.1 L173.9 20.8 L173.3 22.1 L171.4 22.8 L170.1 23.8 L170.1 25.2 L171.2 26.0 L169.2 28.4 L169.2 29.1 L167.2 29.8 L166.0 29.6 L165.8 28.8 L164.7 27.1 L164.0 26.4 L161.0 27.6 L159.7 26.7 L159.3 25.0 L159.5 23.9 L161.9 23.1 L164.0 22.0 L166.2 20.7 L167.9 18.9 L171.4 17.2 L177.2 16.3 L179.5 16.4 L181.7 17.0 L183.4 17.7 L186.0 18.1 L193.1 20.2 L187.7 20.6 L185.0 22.0 L186.9 22.6 L189.4 21.9 L192.7 20.6 L192.9 18.5 L195.0 18.9 L200.6 18.5 L204.1 18.5 L206.7 18.1 L211.8 17.9 L214.0 18.8 L212.7 16.4 L214.0 14.8 L217.4 14.8 L217.0 17.2 L217.9 18.9 L218.7 16.8 L224.3 14.2 L229.9 13.8 L229.5 12.9 L235.9 12.1 L241.1 11.6 L244.8 10.6 L246.3 11.2 L251.4 12.1 L252.7 14.2 L256.6 14.2 L265.2 14.6 L266.5 16.4 L268.7 15.9 L275.6 15.1 L291.1 16.4 L292.8 17.2 L306.6 17.5 L310.0 18.2 M310.0 21.1 L307.4 21.8 L309.1 23.9 L304.8 24.3 L301.4 25.8 L296.2 26.0 L294.5 29.3 L292.8 31.0 L291.5 31.9 L289.9 33.6 L289.3 32.3 L288.9 29.3 L289.8 28.0 L295.4 24.1 L292.8 24.5 L288.5 26.4 L285.0 26.3 L278.1 26.4 L276.0 27.7 L273.0 30.6 L276.0 31.4 L276.7 32.7 L276.0 35.7 L271.2 40.1 L268.7 40.5 L267.4 41.1 L266.7 42.2 L265.2 43.5 L266.4 45.6 L266.3 47.2 L263.9 47.9 L263.9 45.0 L262.6 44.9 L262.4 43.4 L259.4 44.1 L260.1 42.6 L259.2 42.4 L257.9 43.2 L256.6 43.7 L256.4 44.3 L257.5 45.5 L258.8 45.0 L260.5 45.3 L258.6 46.5 L257.6 47.4 L260.0 50.9 L259.9 52.5 L258.3 54.7 L256.2 57.1 L253.4 58.3 L250.6 59.0 L249.7 59.9 L249.3 59.0 L247.6 59.0 L246.0 61.4 L247.1 62.9 L248.9 64.6 L249.0 67.2 L247.1 68.5 L245.4 70.1 L245.2 68.6 L243.7 68.0 L243.1 67.0 L241.9 66.6 L241.1 66.0 L240.4 68.6 L242.0 71.6 L243.3 72.5 L244.0 74.1 L244.1 75.3 L244.7 76.3 L244.0 76.4 L242.2 75.0 L241.4 73.0 L241.3 71.9 L239.7 70.6 L239.9 68.9 L239.1 63.3 L236.8 63.9 L236.2 63.7 L236.4 61.1 L234.5 59.7 L234.1 58.2 L232.9 58.6 L229.9 59.0 L229.5 60.3 L225.9 63.2 L224.1 64.2 L224.1 66.3 L223.7 68.6 L221.7 70.5 L220.9 69.8 L220.2 67.6 L218.2 63.7 L217.7 61.1 L217.5 59.2 L216.0 59.7 L214.4 58.3 L215.4 57.8 L214.0 57.2 L212.3 55.6 L208.4 55.8 L204.5 55.4 L203.6 54.2 L201.5 54.5 L199.3 53.5 L198.2 51.7 L196.8 51.7 L196.3 52.1 L196.8 53.4 L198.2 54.9 L198.7 56.2 L199.1 55.0 L199.8 56.8 L201.9 56.6 L203.2 55.5 L203.5 54.9 L203.7 56.7 L205.4 57.2 L206.5 58.1 L204.5 61.1 L202.8 62.3 L196.9 65.4 L193.8 66.5 L192.5 66.6 L191.6 63.3 L190.3 60.7 L188.6 59.0 L188.2 56.8 L186.4 55.1 L185.1 52.1 L184.5 53.6 L183.8 53.2 L183.0 51.8 L182.8 50.6 L184.5 50.5 L185.8 47.4 L186.0 45.8 L184.7 45.8 L183.0 46.4 L179.4 45.8 L178.5 45.0 L177.8 43.9 L177.6 43.1 L177.8 42.3 L174.7 42.6 L175.7 44.6 L174.8 46.1 L173.7 45.8 L173.2 44.5 L172.2 43.3 L171.7 41.5 L170.9 40.9 L168.8 40.0 L167.9 38.8 L166.8 38.2 L165.6 38.5 L165.7 39.6 L168.8 41.8 L170.9 43.0 L169.6 43.9 L169.3 44.8 L168.4 44.8 L168.5 43.1 L164.0 40.6 L163.6 39.6 L162.3 39.4 L160.2 40.4 L158.9 40.0 L157.7 40.5 L157.8 41.4 L155.8 42.2 L155.0 43.5 L154.7 44.3 L153.7 45.2 L152.8 45.9 L151.1 45.9 L150.2 46.5 M0.0 18.2 L4.3 19.4 L6.9 19.9 L8.9 20.7 L6.0 22.0 L0.0 21.1 M179.1 41.8 L180.0 42.0 L181.7 42.1 L183.7 41.3 L185.1 41.3 L187.7 42.2 L189.4 42.2 L190.7 41.8 L190.8 40.9 L187.3 39.0 L187.7 38.3 L185.1 38.8 L183.9 39.2 L183.0 38.5 L183.8 37.9 L181.7 37.4 L179.6 39.6 L179.1 40.9 L179.1 41.8 M197.2 37.4 L198.9 37.0 L200.6 37.2 L200.6 38.6 L199.2 39.2 L198.9 40.5 L200.4 41.3 L200.6 43.1 L201.3 44.3 L201.4 45.5 L198.9 45.9 L197.2 45.2 L197.5 43.1 L198.3 42.8 L197.2 41.9 L196.0 40.6 L195.9 39.6 L195.9 38.2 L197.2 37.4 M150.1 34.4 L152.4 33.8 L156.1 33.5 L156.5 32.2 L155.2 31.5 L154.9 30.7 L153.3 29.4 L152.2 29.2 L153.4 28.0 L152.4 27.0 L150.7 27.0 L149.7 28.8 L150.9 30.3 L152.1 30.6 L152.4 31.5 L151.0 31.6 L151.4 32.5 L150.5 33.0 L152.4 33.3 L150.1 34.4 M149.8 32.5 L149.7 31.1 L150.1 30.4 L148.7 29.8 L146.4 30.8 L146.5 31.9 L146.1 32.8 L147.2 33.2 L149.8 32.5 M135.5 22.4 L134.3 21.1 L136.1 20.3 L139.5 20.6 L142.5 20.4 L143.3 21.5 L142.1 22.1 L138.9 22.9 L135.5 22.4 M164.5 9.9 L168.8 8.6 L178.2 8.4 L173.9 10.3 L168.8 11.5 L164.5 9.9 M199.8 15.9 L204.1 16.7 L207.5 14.6 L214.4 11.4 L208.4 11.9 L202.4 13.5 L199.8 15.9 M237.7 9.5 L241.1 7.8 L245.4 9.0 L241.1 10.3 L237.7 9.5 M272.1 12.9 L277.3 12.1 L280.7 12.5 L275.6 13.8 L272.1 12.9 M267.7 48.2 L269.1 46.9 L272.1 46.7 L273.2 45.2 L275.1 44.8 L275.6 43.1 L275.6 41.8 L276.8 41.9 L277.3 43.5 L276.4 44.8 L276.2 46.7 L275.4 47.4 L272.5 48.0 L271.2 48.7 L267.7 48.2 M266.6 48.7 L267.8 48.3 L268.6 49.5 L267.8 50.6 L267.1 50.5 L266.6 48.7 M275.6 41.8 L276.4 41.5 L278.6 41.3 L280.3 40.2 L279.9 39.4 L277.1 38.4 L276.7 40.2 L275.6 40.6 L275.6 41.8 M277.3 37.9 L278.6 37.2 L278.1 35.1 L279.0 35.2 L278.3 33.2 L278.3 31.4 L277.7 30.7 L277.3 37.9 M258.4 57.7 L259.2 58.6 L260.0 56.4 L259.6 55.7 L258.5 56.8 L258.4 57.7 M248.5 61.1 L250.2 60.2 L250.6 60.6 L249.3 61.8 L248.5 61.1 M258.3 61.6 L260.3 61.6 L260.1 63.7 L259.6 65.2 L261.8 66.7 L260.9 66.0 L258.9 65.4 L258.2 63.4 L258.3 61.6 M260.1 71.5 L261.3 70.2 L263.1 69.1 L263.9 71.0 L263.1 72.6 L261.8 71.9 L260.1 71.5 M260.1 68.9 L261.8 68.9 L262.6 67.6 L261.8 66.7 L260.5 67.6 L260.1 68.9 M223.7 69.1 L224.1 69.2 L225.4 71.0 L224.9 72.2 L224.0 72.3 L223.7 70.6 L223.7 69.1 M237.1 72.7 L239.0 73.0 L241.4 75.6 L246.3 80.3 L246.1 82.5 L245.0 82.6 L243.1 80.9 L240.1 76.0 L237.1 72.7 M245.6 83.4 L246.7 82.7 L248.3 82.9 L250.6 83.0 L253.7 84.1 L253.5 85.0 L248.0 84.2 L246.6 83.9 L245.6 83.4 M248.9 76.2 L249.4 75.8 L252.3 74.7 L254.5 73.0 L255.8 71.5 L257.7 72.9 L256.6 73.8 L256.5 76.6 L257.5 76.7 L257.3 77.9 L256.2 78.2 L255.3 79.2 L254.9 80.9 L252.3 80.2 L249.9 80.0 L249.7 78.8 L248.9 77.5 L248.9 76.2 M257.9 82.2 L258.8 82.3 L258.7 79.9 L259.2 79.8 L260.5 81.5 L260.9 80.9 L259.6 79.0 L261.2 78.3 L259.2 78.3 L258.6 77.1 L260.9 76.7 L262.6 76.2 L262.0 77.2 L259.2 77.2 L258.3 76.9 L257.7 80.5 L257.9 82.2 M267.8 78.6 L270.4 78.2 L271.2 80.3 L273.8 78.9 L279.4 80.8 L280.7 82.2 L282.0 82.7 L282.4 84.4 L284.6 86.5 L281.6 86.1 L279.0 84.2 L278.1 85.2 L276.4 85.3 L275.1 84.6 L273.8 84.7 L273.7 81.8 L269.5 80.9 L267.8 78.6 M261.8 86.4 L264.4 84.7 L262.6 85.4 L261.8 86.4 M252.7 96.4 L252.6 99.9 L253.9 102.5 L254.0 104.6 L254.6 106.3 L254.0 107.0 L256.6 107.6 L259.2 106.6 L263.5 105.3 L266.1 104.7 L268.2 104.6 L270.4 105.7 L271.7 107.5 L273.4 105.9 L273.7 108.1 L274.3 107.5 L275.3 109.4 L276.4 110.5 L279.0 110.5 L281.0 111.1 L282.4 110.0 L284.2 109.8 L285.3 106.6 L286.8 104.2 L287.3 101.6 L286.8 99.0 L283.7 96.6 L281.0 93.9 L280.2 91.3 L278.7 89.6 L277.7 86.7 L276.9 88.7 L276.8 91.3 L276.1 92.6 L272.7 91.1 L271.7 90.4 L272.7 88.1 L269.2 87.3 L267.8 88.0 L266.9 88.9 L266.5 90.4 L265.2 90.4 L263.7 89.6 L262.6 90.4 L261.3 92.0 L260.3 92.6 L259.6 93.9 L257.5 94.7 L255.6 95.2 L252.7 96.4 M279.5 112.5 L282.7 112.7 L282.4 114.7 L281.4 115.0 L280.0 113.8 L279.5 112.5 M303.7 107.1 L306.4 109.4 L308.7 110.0 L307.8 111.3 L306.0 113.3 L305.4 113.0 L305.7 111.6 L304.7 111.3 L305.3 109.5 L303.7 107.1 M303.7 112.4 L305.1 113.1 L304.5 114.4 L303.8 115.0 L302.4 115.8 L302.0 117.0 L300.5 117.6 L298.4 117.1 L299.7 115.4 L301.8 114.5 L303.1 113.3 L303.7 112.4 M0.0 144.7 L8.6 144.9 L18.9 144.2 L34.4 142.1 L43.1 141.5 L51.7 141.1 L60.3 141.7 L68.9 140.4 L77.5 139.9 L86.1 140.4 L90.4 138.6 L96.4 137.8 L99.0 135.2 L101.6 133.5 L105.9 132.0 L104.2 133.0 L101.6 137.8 L102.5 141.7 L94.7 143.8 L103.3 144.7 L124.9 144.2 L129.2 142.9 L146.4 138.6 L155.0 137.8 L172.2 137.8 L189.4 136.9 L198.1 135.2 L206.7 135.2 L215.3 136.5 L217.0 137.8 L223.9 135.6 L232.5 134.8 L241.1 134.3 L249.7 134.3 L258.3 135.0 L266.9 134.5 L275.6 134.8 L284.2 136.5 L301.4 139.1 L297.9 141.2 L297.1 143.8 L299.7 144.2 L310.0 144.7 M81.8 58.6 L84.4 57.6 L88.7 58.6 L91.1 60.1 L88.3 60.4 L85.2 58.9 L81.8 58.6 M90.8 61.6 L92.6 60.4 L95.2 60.6 L96.0 61.6 L93.4 62.3 L90.8 61.6 M75.8 37.3 L82.2 37.5 L81.8 36.2 L78.4 35.7 L75.8 37.3 M79.7 41.6 L79.2 39.2 L81.8 38.1 L80.7 40.5 L79.7 41.6 M82.2 38.1 L84.0 40.5 L84.6 38.6 L82.2 38.1 M83.1 41.6 L87.0 40.6 L83.1 41.6 M86.3 40.2 L89.4 40.0 L89.1 39.4 L86.3 40.2 M54.2 12.5 L60.3 11.8 L64.6 12.5 L60.3 13.3 L54.2 12.5 M49.9 11.6 L55.1 10.9 L56.0 11.8 L51.7 12.1 L49.9 11.6 M67.2 11.6 L70.6 11.6 L71.5 12.9 L68.0 12.9 L67.2 11.6 M71.5 12.5 L74.9 12.5 L74.9 13.2 L71.5 13.2 L71.5 12.5 M72.3 14.0 L77.5 13.9 L76.6 15.5 L73.2 15.3 L72.3 14.0 M67.2 14.2 L71.5 14.2 L72.3 15.5 L68.9 15.9 L66.3 15.1 L67.2 14.2 M69.8 17.7 L72.3 17.7 L72.3 18.5 L69.8 18.5 L69.8 17.7 M73.2 7.8 L79.2 7.3 L80.9 9.0 L75.8 9.9 L73.2 8.6 L73.2 7.8 M82.7 23.7 L85.2 23.4 L86.1 24.1 L83.5 24.1 L82.7 23.7 M194.6 8.2 L201.5 7.5 L208.4 7.8 L206.7 8.6 L196.3 8.6 L194.6 8.2 M44.5 33.8 L47.4 34.4 L48.8 35.8 L47.6 35.6 L44.8 34.2 L44.5 33.8 M165.8 44.7 L168.4 44.5 L168.0 45.9 L165.7 45.0 L165.8 44.7 M162.2 42.2 L163.4 42.2 L163.3 43.9 L162.2 43.9 L162.2 42.2 M162.4 40.5 L163.2 40.5 L163.1 41.9 L162.5 41.7 L162.4 40.5 M175.2 46.9 L177.6 47.2 L175.7 47.4 L175.2 46.9 M102.2 121.6 L105.1 121.6 L104.6 122.3 L102.5 122.3 L102.2 121.6 M87.6 61.6 L89.3 61.8 L88.7 62.2 L87.6 61.6 M97.1 61.6 L98.5 61.7 L98.2 62.0 L97.1 61.6 M20.7 59.6 L21.5 60.3 L20.8 61.1 L20.7 59.6 M12.1 31.0 L8.6 32.0 L12.1 31.0 M5.2 32.5 L0.9 33.1 L5.2 32.5 M303.5 31.9 L306.6 32.5 L303.5 31.9 M214.4 119.7 L215.7 119.9 L215.3 120.3 L214.4 119.7 M122.7 124.0 L124.0 124.2 L124.2 124.7 L122.7 124.0 M269.5 87.3 L272.5 87.7 L271.7 88.3 L269.5 87.3 M284.2 82.2 L285.9 81.2 L285.5 82.7 L284.2 82.2 M287.6 82.7 L289.3 83.5 L287.6 82.7 M290.2 84.4 L293.6 86.1 L292.8 85.2 L290.2 84.4 M297.1 95.2 L298.8 96.4 L297.9 96.2 L297.1 95.2 M308.3 92.1 L309.6 91.7 L308.7 93.0 L308.3 92.1 M254.0 84.6 L254.9 84.9 L256.6 84.7 L257.5 85.0 L254.9 85.2 L254.0 84.6 M257.9 84.8 L260.9 84.6 L259.2 85.2 L257.9 84.8 M263.5 80.3 L265.2 80.5 L264.4 80.9 L263.5 80.3 M264.8 76.0 L265.7 76.2 L265.2 77.5 L264.8 76.0 M275.6 79.7 L276.4 79.7 L276.0 80.1 L275.6 79.7 M291.1 144.2 L294.5 145.1 L297.1 147.2 L301.4 149.0 L310.0 150.3 M0.0 150.3 L8.6 150.7 L17.2 149.8 L25.8 148.1 L21.5 146.4 L18.9 144.2 M102.5 141.7 L99.0 144.7 L90.4 146.4 L86.1 147.7 L103.3 148.5 L120.6 147.2 L129.2 145.5 L124.9 144.2 M94.7 136.9 L93.0 139.1 L91.3 137.8 L94.7 136.9 M68.9 139.5 L70.6 139.9 L67.2 140.2 L68.9 139.5 M45.6 140.6 L48.2 141.1 L47.4 141.5 L45.6 140.6 M28.4 142.5 L30.1 142.9 L27.6 143.2 L28.4 142.5 M132.6 142.9 L137.8 143.8 L139.5 142.9 L132.6 142.9 M214.4 137.8 L217.0 138.6 L213.6 139.5 L214.4 137.8" fill="none" stroke="#9a9a9a" stroke-width="0.6"/>
<path d="M61.6 147.2 L65.9 147.3 L71.0 147.0 L81.4 145.8 L93.7 143.4 L105.9 140.0 L111.4 138.2 L118.0 135.6 L123.4 133.0 L125.8 131.8 L129.4 129.2 L130.6 127.9 L131.3 126.6 L131.2 125.3 L130.3 124.0 L128.5 122.7 L125.8 121.4 L120.1 119.6 L117.5 119.1 L115.0 118.9 L111.1 119.2 L100.8 121.1 L89.1 122.3 L85.2 123.1 L81.4 124.8 L68.5 133.8 L62.0 137.6 L55.8 140.8 L53.8 142.1 L52.5 143.4 L52.3 144.7 L54.0 146.0 L56.8 146.7 L61.6 147.2 M0.0 132.4 L3.9 132.8 L7.8 132.6 L11.6 131.8 L14.2 130.7 L16.2 129.2 L17.2 127.9 L18.3 125.3 L18.7 122.7 L18.4 120.1 L17.5 117.5 L16.8 116.2 L15.7 115.0 L14.2 113.7 L11.6 112.3 L7.8 111.3 L3.9 111.1 L0.0 111.4 M250.6 112.4 L257.0 112.7 L263.6 112.4 L266.1 111.7 L267.7 111.1 L267.6 109.8 L264.8 108.4 L260.2 107.2 L257.0 106.8 L249.3 106.2 L242.8 106.5 L239.5 107.2 L239.0 107.7 L238.4 108.5 L239.6 109.8 L243.0 111.1 L250.6 112.4 M310.0 111.4 L307.4 111.9 L304.8 112.7 L302.4 113.7 L300.3 115.0 L298.9 116.2 L297.9 117.5 L297.4 118.8 L297.0 121.4 L297.6 124.0 L298.2 125.3 L299.1 126.6 L301.0 128.4 L302.2 129.4 L304.8 130.8 L307.4 131.7 L310.0 132.4 M195.9 108.5 L198.9 109.3 L201.5 109.5 L205.4 109.4 L208.0 109.0 L209.8 108.5 L212.4 107.2 L213.5 105.9 L213.5 104.6 L212.1 103.3 L209.2 102.6 L204.1 102.2 L198.9 102.7 L196.4 103.3 L195.0 104.0 L194.0 104.6 L193.2 105.9 L193.7 107.2 L195.9 108.5 M175.6 103.3 L177.0 103.8 L177.4 103.3 L177.0 102.6 L175.6 103.3 M47.0 100.8 L62.0 101.8 L64.6 101.6 L65.9 101.3 L67.2 100.8 L68.1 99.5 L68.1 98.2 L67.8 96.9 L66.2 94.3 L63.7 91.7 L54.2 84.1 L46.5 77.1 L43.9 75.3 L41.3 74.2 L38.8 73.6 L34.9 73.3 L31.0 73.3 L27.7 73.6 L25.8 74.0 L23.4 74.9 L21.4 76.2 L20.0 77.5 L19.2 78.8 L18.2 81.4 L18.0 82.7 L18.2 85.2 L19.1 87.8 L20.6 90.4 L22.0 92.2 L24.1 94.3 L25.8 95.7 L27.8 96.9 L29.7 97.8 L32.3 98.7 L37.5 99.8 L47.0 100.8 M217.1 100.8 L218.3 101.1 L220.9 101.4 L223.5 101.2 L226.0 100.5 L227.8 99.5 L229.1 98.2 L229.6 96.9 L229.6 95.6 L228.9 94.3 L227.3 93.0 L224.8 92.0 L223.5 91.8 L220.9 91.7 L218.3 92.2 L217.0 92.7 L215.7 93.4 L214.7 94.3 L214.0 95.6 L213.8 96.9 L214.2 98.2 L215.1 99.5 L215.7 100.0 L217.1 100.8 M115.0 89.1 L116.2 89.7 L117.5 90.0 L120.1 89.9 L122.0 89.1 L123.5 87.8 L124.1 86.5 L124.3 85.2 L124.1 84.0 L123.6 82.7 L122.7 81.4 L121.4 80.3 L120.1 79.6 L118.8 79.2 L116.2 79.1 L115.0 79.4 L113.7 80.0 L112.2 81.4 L111.6 82.7 L111.5 84.0 L111.7 85.2 L112.3 86.5 L113.3 87.8 L115.0 89.1 M86.4 82.7 L89.1 83.5 L91.7 83.7 L94.3 83.4 L96.9 82.7 L99.6 81.4 L102.0 79.6 L104.0 77.5 L105.3 74.9 L105.9 72.3 L106.0 69.8 L105.6 67.2 L104.4 64.6 L102.5 62.0 L99.5 59.4 L96.9 57.9 L94.3 56.9 L91.7 56.4 L89.1 56.2 L86.5 56.4 L84.8 56.8 L81.8 58.1 L80.1 59.3 L78.9 60.7 L78.2 62.0 L77.7 64.6 L77.9 67.2 L78.9 71.0 L80.2 74.9 L81.4 77.6 L82.7 79.7 L84.0 81.1 L86.4 82.7 M144.6 67.2 L146.0 67.7 L148.5 68.3 L151.1 68.4 L152.4 68.2 L155.1 67.2 L156.9 65.9 L158.1 64.6 L159.6 62.0 L159.9 60.7 L160.0 58.1 L159.4 55.5 L158.6 54.2 L157.6 53.0 L156.3 51.8 L155.0 51.0 L152.4 50.1 L149.8 49.8 L147.2 50.1 L144.7 51.1 L143.4 51.8 L140.8 53.9 L139.5 55.4 L138.6 56.8 L138.1 58.1 L137.9 59.4 L137.9 60.7 L138.3 62.0 L139.0 63.3 L140.3 64.6 L142.1 65.9 L144.6 67.2 M0.0 51.8 L5.2 50.2 L7.9 49.1 L10.2 47.8 L11.6 46.5 L12.4 45.2 L12.4 43.9 L11.9 42.6 L10.7 41.3 L9.0 40.0 L5.2 38.2 L2.6 37.5 L0.0 37.0 M38.3 49.1 L42.6 49.7 L45.2 49.6 L47.0 49.1 L47.8 48.3 L48.1 47.8 L48.3 46.5 L48.1 45.2 L47.6 43.9 L46.5 42.4 L45.4 41.3 L43.9 40.3 L42.6 39.6 L40.0 38.8 L37.5 38.6 L35.8 38.8 L33.6 39.2 L31.5 40.0 L29.5 41.3 L28.4 42.6 L27.9 43.9 L28.3 45.2 L29.8 46.5 L32.9 47.8 L38.3 49.1 M188.9 47.8 L191.2 48.4 L193.8 48.8 L200.2 48.8 L231.2 47.0 L237.7 46.3 L242.5 45.2 L246.3 43.9 L249.1 42.6 L251.9 41.0 L254.6 38.8 L255.8 37.4 L257.3 34.9 L257.8 32.3 L257.5 29.7 L256.2 27.1 L255.2 25.8 L253.2 24.0 L249.8 22.0 L248.0 21.2 L245.4 20.5 L240.2 19.8 L233.8 19.8 L224.8 20.6 L218.3 21.9 L214.4 23.2 L210.5 25.4 L208.0 27.3 L197.6 35.8 L188.5 42.6 L187.2 43.9 L186.6 45.2 L186.9 46.5 L188.9 47.8 M310.0 37.0 L307.4 36.7 L303.5 36.8 L299.7 37.3 L297.1 38.0 L295.0 38.8 L292.8 40.0 L291.5 41.3 L290.7 42.6 L290.3 43.9 L290.4 45.2 L290.8 46.5 L291.7 47.8 L293.1 49.1 L294.5 50.0 L297.1 51.2 L299.7 52.0 L303.5 52.5 L306.1 52.4 L310.0 51.8 M124.7 32.3 L134.3 32.9 L138.2 32.8 L141.5 32.3 L143.4 31.6 L144.7 30.6 L145.4 29.7 L145.9 28.4 L146.0 27.1 L145.6 24.5 L144.4 22.0 L142.2 19.4 L140.7 18.1 L138.2 16.3 L134.3 14.3 L129.2 12.3 L125.3 11.0 L120.1 9.7 L115.0 8.6 L105.9 7.2 L72.3 3.2 L58.1 2.0 L49.1 1.9 L45.2 2.1 L41.3 2.6 L38.8 3.2 L37.0 3.9 L35.4 5.2 L34.9 6.5 L35.2 7.8 L35.8 9.0 L36.8 10.3 L39.6 12.9 L41.4 14.2 L45.2 16.4 L48.8 18.1 L52.2 19.4 L56.4 20.7 L63.3 22.3 L75.7 24.5 L113.7 30.8 L124.7 32.3 M0.0 125.8 L1.3 126.1 L3.9 126.2 L6.5 125.8 L7.8 125.3 L9.6 124.0 L10.5 122.7 L10.8 121.4 L10.6 120.1 L9.8 118.8 L7.8 117.3 L6.5 116.8 L3.9 116.3 L1.3 116.4 L0.0 116.6 M310.0 116.6 L307.6 117.5 L306.1 118.7 L305.2 120.1 L305.1 121.4 L305.5 122.7 L306.5 124.0 L308.4 125.3 L310.0 125.8 M39.1 94.3 L42.6 94.9 L45.2 95.0 L47.8 94.8 L49.5 94.3 L50.9 93.0 L51.1 91.7 L50.8 90.4 L50.1 89.1 L48.0 86.5 L46.5 85.0 L43.9 83.0 L41.3 81.6 L38.8 80.7 L36.2 80.4 L33.6 80.7 L31.8 81.4 L30.2 82.7 L29.4 84.0 L29.2 85.2 L29.3 86.5 L29.7 87.8 L31.0 89.7 L33.2 91.7 L35.5 93.0 L39.1 94.3 M88.5 77.5 L90.4 78.0 L91.7 78.1 L94.3 77.7 L95.6 77.2 L97.2 76.2 L98.6 74.9 L99.6 73.6 L100.8 71.0 L101.1 68.5 L100.9 67.2 L100.6 65.9 L99.5 63.7 L98.2 62.2 L96.9 61.1 L95.6 60.3 L93.0 59.3 L90.4 59.0 L89.1 59.0 L86.5 59.6 L84.6 60.7 L83.2 62.0 L82.5 63.3 L82.0 64.6 L81.8 65.9 L82.0 68.5 L82.7 70.9 L83.3 72.3 L84.0 73.6 L85.2 75.2 L86.5 76.4 L88.5 77.5 M145.0 64.6 L147.2 65.3 L149.8 65.4 L152.4 64.7 L154.3 63.3 L155.3 62.0 L155.8 60.7 L156.0 59.4 L155.9 58.1 L155.5 56.8 L154.7 55.5 L153.7 54.5 L152.4 53.7 L151.1 53.2 L148.5 52.9 L146.0 53.4 L144.3 54.2 L142.7 55.5 L141.7 56.8 L141.1 58.1 L140.9 59.4 L141.0 60.7 L141.7 62.0 L142.9 63.3 L145.0 64.6 M0.0 47.1 L1.3 46.5 L2.6 45.2 L2.8 43.9 L2.2 42.6 L0.0 41.3 M202.7 43.9 L205.4 44.4 L208.0 44.7 L217.0 44.6 L226.0 43.9 L229.9 43.3 L233.8 42.4 L236.9 41.3 L239.7 40.0 L241.8 38.8 L243.4 37.5 L244.6 36.2 L245.4 34.9 L245.8 33.6 L246.0 32.3 L245.7 31.0 L245.0 29.7 L244.1 28.7 L241.9 27.1 L239.0 25.9 L236.4 25.3 L232.5 24.8 L228.6 24.8 L223.5 25.3 L219.6 26.2 L217.0 27.1 L214.4 28.2 L210.5 30.5 L206.3 33.6 L202.1 37.5 L200.3 40.0 L199.9 41.3 L200.4 42.6 L202.7 43.9 M310.0 41.3 L308.7 40.9 L306.1 40.6 L303.5 40.7 L302.2 41.0 L301.0 41.5 L299.7 42.4 L299.4 42.6 L298.7 43.9 L298.9 45.2 L299.7 46.1 L301.0 47.0 L302.2 47.5 L303.5 47.8 L306.1 48.0 L307.8 47.8 L310.0 47.1 M117.3 28.4 L125.3 28.9 L127.9 28.8 L131.1 28.4 L133.0 27.8 L134.6 27.1 L135.9 25.8 L136.4 24.5 L136.2 23.2 L135.6 22.0 L134.6 20.7 L133.2 19.4 L131.3 18.1 L128.9 16.8 L125.9 15.5 L120.1 13.7 L112.4 12.1 L94.3 9.4 L85.2 8.4 L77.5 8.0 L68.5 7.9 L64.6 8.1 L60.7 8.6 L58.1 9.2 L55.5 10.2 L55.2 10.3 L54.2 11.6 L54.6 12.9 L56.3 14.2 L59.4 15.7 L65.9 17.7 L78.5 20.7 L102.3 25.8 L109.8 27.3 L117.3 28.4 M90.1 72.3 L91.7 72.6 L93.0 72.3 L94.3 71.6 L95.6 70.0 L96.1 68.5 L96.1 67.2 L95.7 65.9 L94.8 64.6 L93.0 63.3 L91.7 62.9 L90.4 62.9 L88.8 63.3 L87.3 64.6 L86.6 65.9 L86.4 67.2 L86.5 68.1 L87.1 69.8 L88.0 71.0 L89.1 71.9 L90.1 72.3 M147.2 62.0 L148.5 62.1 L149.8 61.8 L151.2 60.7 L151.7 59.4 L151.5 58.1 L150.3 56.8 L148.5 56.3 L147.2 56.5 L146.0 57.1 L145.0 58.1 L144.7 59.4 L145.2 60.7 L146.0 61.4 L147.2 62.0 M215.0 40.0 L218.3 40.2 L221.8 40.0 L227.5 38.8 L230.3 37.5 L231.9 36.2 L232.8 34.9 L232.8 33.6 L231.8 32.3 L231.2 32.0 L229.9 31.4 L227.3 30.9 L223.3 31.0 L220.9 31.5 L218.3 32.2 L215.5 33.6 L213.6 34.9 L212.4 36.2 L211.7 37.5 L212.0 38.8 L213.1 39.4 L215.0 40.0 M114.5 24.5 L117.5 24.9 L121.4 24.8 L124.0 24.4 L126.0 23.2 L126.4 22.0 L125.7 20.7 L124.1 19.4 L121.5 18.1 L116.2 16.6 L112.4 16.1 L108.5 15.9 L104.6 16.1 L102.0 16.6 L101.4 16.8 L100.3 18.1 L100.7 19.4 L102.2 20.7 L104.8 22.0 L108.5 23.2 L114.5 24.5 M71.9 14.2 L77.5 15.0 L82.7 15.2 L87.8 15.0 L91.4 14.2 L91.2 12.9 L87.5 11.6 L82.7 11.0 L77.5 10.7 L73.6 10.9 L69.5 11.6 L68.7 12.9 L71.9 14.2" fill="none" stroke="#f05a5a" stroke-width="1.25"/>
<path d="M210.5 147.3 L208.1 146.0 L207.2 144.7 L207.2 143.4 L207.7 142.1 L208.6 140.8 L209.8 139.5 L213.2 136.9 L217.7 134.3 L223.1 131.8 L229.9 129.1 L237.7 126.6 L245.4 124.5 L253.2 122.9 L259.6 122.1 L266.1 121.9 L270.0 122.5 L271.2 123.0 L272.5 123.8 L273.9 125.3 L274.3 126.6 L274.3 127.9 L274.0 129.2 L273.3 130.5 L272.5 131.4 L270.8 133.0 L268.7 134.6 L264.5 136.9 L258.7 139.5 L253.2 141.6 L241.5 145.1 L235.1 146.5 L228.6 147.6 L223.5 148.1 L218.3 148.3 L214.4 148.0 L210.5 147.3 M40.0 129.3 L36.2 128.0 L33.6 126.4 L32.4 125.3 L31.4 124.0 L30.1 121.4 L29.7 120.1 L29.4 117.5 L29.6 115.0 L30.1 113.7 L30.8 112.4 L32.0 111.1 L33.6 110.0 L37.3 108.5 L41.3 107.8 L45.2 107.6 L50.4 108.0 L55.5 109.2 L59.4 110.9 L61.5 112.4 L62.9 113.7 L63.8 115.0 L64.3 116.2 L64.6 117.5 L64.6 118.8 L64.3 120.1 L63.8 121.4 L61.8 124.0 L60.4 125.3 L58.5 126.6 L54.2 128.5 L51.7 129.2 L49.1 129.7 L46.5 129.9 L43.9 129.8 L40.0 129.3 M94.3 111.2 L91.7 110.5 L90.4 109.9 L88.5 108.5 L87.5 107.2 L86.8 105.9 L86.5 104.6 L86.5 102.0 L86.8 100.8 L87.5 99.5 L88.5 98.2 L90.2 96.9 L91.7 96.2 L94.3 95.5 L96.9 95.4 L99.5 95.9 L100.8 96.3 L102.0 97.0 L103.5 98.2 L104.6 99.5 L105.3 100.8 L105.6 102.0 L105.7 103.3 L105.5 104.6 L105.0 105.9 L104.2 107.2 L103.0 108.5 L100.8 110.0 L98.2 110.9 L96.9 111.2 L94.3 111.2 M140.8 109.8 L139.5 109.7 L136.9 109.0 L135.6 108.5 L133.8 107.2 L132.8 105.9 L132.4 104.6 L132.6 103.3 L133.4 102.0 L135.0 100.8 L136.9 99.9 L138.7 99.5 L140.8 99.2 L143.4 99.4 L146.0 100.1 L147.4 100.8 L149.0 102.0 L149.8 103.3 L150.0 104.6 L149.8 105.9 L148.9 107.2 L147.2 108.5 L146.0 109.1 L143.4 109.7 L140.8 109.8 M275.1 104.6 L259.7 102.0 L253.5 100.8 L249.4 99.5 L247.1 98.2 L246.0 96.9 L245.4 95.6 L245.3 94.3 L245.3 93.0 L245.8 91.7 L246.7 90.4 L248.0 89.5 L251.6 87.8 L257.0 86.6 L263.5 86.0 L270.0 86.1 L277.7 86.9 L284.2 88.3 L290.2 90.4 L292.9 91.7 L294.9 93.0 L296.5 94.3 L297.6 95.6 L298.3 96.9 L298.5 98.2 L298.2 99.5 L297.3 100.8 L295.9 102.0 L293.8 103.3 L290.6 104.6 L288.0 105.2 L285.5 105.4 L282.9 105.5 L275.1 104.6 M170.5 89.4 L167.9 88.4 L166.6 87.7 L165.1 86.5 L163.9 85.2 L163.2 84.0 L162.8 82.7 L162.8 81.4 L163.1 80.1 L163.7 78.8 L165.3 77.0 L167.9 75.1 L170.5 74.0 L174.4 73.1 L178.2 72.9 L180.8 73.2 L183.4 73.9 L186.0 75.1 L187.6 76.2 L188.6 77.2 L189.7 78.8 L190.2 80.1 L190.4 81.4 L190.3 82.7 L189.9 84.0 L189.2 85.2 L188.0 86.5 L186.0 88.0 L183.5 89.1 L182.1 89.5 L178.2 90.2 L174.4 90.1 L170.5 89.4 M134.3 80.5 L132.0 78.8 L130.8 77.5 L129.4 74.9 L129.0 73.6 L128.8 72.3 L129.0 71.0 L129.6 69.8 L130.5 69.0 L131.8 68.5 L133.0 68.6 L135.6 69.2 L139.7 71.0 L141.5 72.3 L142.9 73.6 L143.8 74.9 L144.2 76.2 L144.1 77.5 L143.5 78.8 L142.1 80.1 L140.8 80.8 L139.5 81.2 L136.9 81.3 L134.3 80.5 M62.0 77.7 L60.1 76.2 L59.2 74.9 L58.7 73.6 L58.5 72.3 L58.7 71.0 L59.4 69.9 L61.3 68.5 L63.3 67.9 L64.6 67.9 L65.9 68.2 L67.2 68.8 L68.5 69.8 L69.3 71.0 L70.0 72.3 L70.2 73.6 L70.3 74.9 L69.8 76.5 L68.5 77.9 L67.2 78.5 L65.9 78.7 L64.6 78.6 L62.0 77.7 M206.7 66.0 L203.4 64.6 L202.0 63.3 L201.3 62.0 L201.3 60.7 L202.0 59.4 L203.5 58.1 L205.8 56.8 L209.5 55.5 L213.1 54.9 L217.0 54.6 L220.9 54.7 L223.5 55.1 L225.6 55.5 L228.6 56.8 L230.1 58.1 L230.7 59.4 L230.6 60.7 L230.0 62.0 L228.7 63.3 L226.0 64.9 L222.2 66.3 L218.3 67.0 L214.4 67.1 L210.5 66.9 L206.7 66.0 M6.5 64.9 L5.2 64.2 L4.2 63.3 L3.6 62.0 L3.7 60.7 L4.5 59.4 L5.2 58.8 L6.5 58.1 L9.0 57.6 L10.3 57.8 L11.5 58.1 L13.2 59.4 L13.7 60.7 L13.6 62.0 L12.8 63.3 L11.6 64.2 L10.3 64.8 L9.0 65.1 L7.8 65.1 L6.5 64.9 M180.8 64.7 L179.5 64.3 L177.9 63.3 L176.7 62.0 L176.2 60.7 L176.2 59.4 L176.8 58.1 L178.2 56.8 L180.8 55.9 L182.1 55.8 L184.7 56.0 L187.3 56.9 L189.2 58.1 L190.3 59.4 L190.6 60.7 L190.1 62.0 L188.6 63.3 L187.3 64.0 L184.7 64.8 L182.1 64.9 L180.8 64.7 M31.0 63.5 L29.7 62.8 L28.6 62.0 L27.8 60.7 L27.7 59.4 L28.5 58.1 L30.6 56.8 L32.3 56.5 L33.6 56.4 L36.2 56.8 L38.9 58.1 L39.9 59.4 L40.2 60.7 L39.7 62.0 L38.0 63.3 L36.2 63.9 L34.9 64.0 L32.3 63.8 L31.0 63.5 M120.1 62.2 L116.2 61.4 L112.4 60.1 L100.6 54.2 L96.9 52.8 L94.3 52.1 L90.4 51.4 L87.8 51.2 L74.9 51.4 L72.3 51.1 L69.8 50.3 L67.4 49.1 L65.9 47.9 L63.3 45.3 L62.0 43.5 L60.7 41.3 L59.5 38.8 L59.1 36.2 L59.4 34.9 L60.3 33.6 L62.0 32.5 L63.3 32.1 L65.9 31.5 L72.3 31.1 L82.7 31.7 L98.2 33.6 L112.4 36.0 L125.2 38.8 L129.9 40.0 L133.5 41.3 L136.0 42.6 L136.9 43.3 L137.5 43.9 L138.2 45.2 L138.2 46.5 L137.8 47.8 L136.4 50.4 L130.5 58.6 L129.2 60.2 L127.9 61.3 L126.6 62.0 L125.3 62.4 L122.7 62.5 L120.1 62.2 M171.8 36.4 L169.2 35.7 L167.3 34.9 L165.3 33.7 L163.8 32.3 L162.7 31.0 L161.3 28.4 L160.8 27.1 L160.3 24.5 L160.3 22.0 L160.6 20.7 L161.5 18.7 L162.8 17.0 L165.3 14.9 L167.9 13.6 L170.5 12.6 L174.4 11.7 L179.5 11.0 L184.7 10.9 L196.3 11.1 L202.8 10.7 L208.0 9.9 L220.9 7.3 L229.9 5.7 L239.0 4.4 L249.3 3.4 L258.3 3.0 L264.8 3.1 L270.4 3.9 L272.7 5.2 L272.4 6.5 L270.4 7.8 L266.8 9.0 L259.6 10.7 L251.9 12.1 L241.5 13.6 L214.4 16.6 L210.5 17.2 L207.2 18.1 L204.1 19.4 L202.2 20.7 L200.9 22.0 L198.4 25.8 L196.4 28.4 L193.6 31.0 L189.9 33.4 L186.0 35.1 L180.8 36.5 L178.2 36.8 L175.7 36.9 L171.8 36.4 M310.0 27.6 L303.5 27.6 L298.4 27.3 L294.5 26.8 L290.7 25.8 L287.9 24.5 L286.1 23.2 L285.0 22.0 L284.3 20.7 L284.1 19.4 L284.3 18.1 L285.0 16.8 L286.5 15.5 L288.9 14.2 L291.9 13.3 L295.8 12.6 L301.0 12.3 L306.1 12.6 L310.0 13.1 M0.0 13.1 L5.2 14.3 L8.6 15.5 L11.4 16.8 L13.6 18.1 L15.1 19.4 L16.2 20.7 L16.6 22.0 L16.5 23.2 L15.5 24.5 L12.9 25.9 L10.3 26.7 L7.8 27.2 L0.0 27.6 M41.3 125.7 L38.8 124.6 L37.5 123.7 L36.2 122.5 L35.4 121.4 L34.9 120.1 L34.6 118.8 L34.6 117.5 L34.9 116.2 L35.5 115.0 L36.2 114.2 L38.5 112.4 L41.3 111.3 L43.9 110.8 L46.5 110.7 L50.4 111.1 L53.0 111.8 L55.5 113.1 L56.5 113.7 L57.9 115.0 L58.7 116.2 L59.1 117.5 L59.2 118.8 L58.9 120.1 L58.2 121.4 L56.8 122.9 L54.2 124.7 L51.7 125.7 L47.8 126.4 L43.9 126.3 L41.3 125.7 M93.0 106.1 L91.9 104.6 L91.7 103.3 L92.2 102.0 L93.6 100.8 L95.6 100.2 L96.9 100.3 L98.2 100.8 L99.5 102.0 L99.9 103.3 L99.7 104.6 L98.7 105.9 L98.2 106.3 L96.9 106.8 L95.6 107.0 L94.3 106.8 L93.0 106.1 M118.8 56.9 L115.0 56.4 L111.1 55.5 L99.5 51.0 L94.3 49.4 L89.1 48.5 L78.8 47.4 L75.1 46.5 L72.3 45.2 L70.7 43.9 L69.5 42.6 L68.7 41.3 L68.3 40.0 L68.4 38.8 L69.2 37.5 L69.8 37.0 L71.2 36.2 L73.6 35.5 L78.8 35.0 L85.2 35.1 L96.6 36.2 L107.2 37.8 L117.6 40.0 L125.3 42.5 L129.2 44.3 L130.4 45.2 L131.5 46.5 L131.9 47.8 L131.8 49.1 L131.4 50.4 L130.7 51.7 L129.2 53.5 L126.6 55.4 L125.3 56.0 L122.7 56.7 L118.8 56.9 M173.1 32.7 L170.5 31.5 L168.3 29.7 L167.3 28.4 L166.6 27.1 L166.2 25.8 L166.1 24.5 L166.3 23.2 L166.7 22.0 L167.9 20.1 L170.3 18.1 L173.0 16.8 L175.7 16.0 L178.2 15.4 L182.1 15.0 L186.0 15.0 L191.2 15.3 L193.8 15.7 L196.1 16.8 L196.3 18.1 L194.0 24.5 L193.4 25.8 L191.4 28.4 L189.9 29.8 L187.9 31.0 L186.0 31.9 L182.1 33.1 L179.5 33.4 L177.0 33.4 L173.1 32.7 M218.3 13.0 L218.1 12.9 L218.0 11.6 L221.3 10.3 L226.3 9.0 L233.3 7.8 L241.5 6.8 L248.0 6.5 L250.6 6.7 L251.9 7.0 L253.3 7.8 L251.2 9.0 L246.8 10.3 L240.1 11.6 L228.6 13.0 L222.2 13.2 L218.3 13.0 M42.6 121.4 L41.3 120.1 L40.8 118.8 L40.9 117.5 L41.8 116.2 L43.9 115.0 L46.5 114.6 L49.1 114.8 L50.4 115.3 L51.7 116.1 L52.9 117.5 L53.0 118.8 L52.5 120.1 L51.7 120.9 L50.4 121.7 L49.1 122.2 L46.5 122.5 L43.9 122.0 L42.6 121.4 M115.0 51.7 L112.4 51.4 L107.9 50.4 L95.6 45.9 L88.7 43.9 L85.5 42.6 L84.7 41.3 L86.5 40.5 L88.7 40.0 L96.9 40.1 L102.0 40.6 L107.3 41.3 L112.7 42.6 L116.2 43.8 L119.4 45.2 L121.4 46.5 L122.4 47.8 L122.6 49.1 L121.6 50.4 L120.1 51.0 L117.5 51.6 L115.0 51.7 M175.7 28.7 L174.4 27.9 L173.5 27.1 L172.9 25.8 L172.8 24.5 L173.2 23.2 L174.2 22.0 L175.7 20.9 L178.2 19.9 L180.8 19.4 L182.1 19.3 L184.7 19.7 L186.6 20.7 L187.3 21.5 L187.8 23.2 L187.7 24.5 L187.3 25.7 L186.2 27.1 L184.7 28.2 L182.1 29.2 L179.5 29.5 L177.0 29.2 L175.7 28.7" fill="none" stroke="#5e5ef4" stroke-width="1.25" stroke-dasharray="2.2 0.95"/>
</g></g>
<rect x="26" y="218.2" width="310.3" height="154.9" fill="none" stroke="#767676" stroke-width="1"/>
<line x1="21.00" y1="218.20" x2="26.00" y2="218.20" class="tk"/>
<text x="15.5" y="221.4" class="lab" text-anchor="end">90N</text>
<line x1="21.00" y1="244.02" x2="26.00" y2="244.02" class="tk"/>
<text x="15.5" y="247.2" class="lab" text-anchor="end">60N</text>
<line x1="21.00" y1="269.83" x2="26.00" y2="269.83" class="tk"/>
<text x="15.5" y="273.0" class="lab" text-anchor="end">30N</text>
<line x1="21.00" y1="295.65" x2="26.00" y2="295.65" class="tk"/>
<text x="15.5" y="298.8" class="lab" text-anchor="end">0</text>
<line x1="21.00" y1="321.47" x2="26.00" y2="321.47" class="tk"/>
<text x="15.5" y="324.7" class="lab" text-anchor="end">30S</text>
<line x1="21.00" y1="347.28" x2="26.00" y2="347.28" class="tk"/>
<text x="15.5" y="350.5" class="lab" text-anchor="end">60S</text>
<line x1="21.00" y1="373.10" x2="26.00" y2="373.10" class="tk"/>
<text x="15.5" y="376.3" class="lab" text-anchor="end">90S</text>
<line x1="26.00" y1="373.10" x2="26.00" y2="378.10" class="tk"/>
<text x="26.0" y="389.9" class="lab" text-anchor="middle">180</text>
<line x1="77.72" y1="373.10" x2="77.72" y2="378.10" class="tk"/>
<text x="77.7" y="389.9" class="lab" text-anchor="middle">120W</text>
<line x1="129.43" y1="373.10" x2="129.43" y2="378.10" class="tk"/>
<text x="129.4" y="389.9" class="lab" text-anchor="middle">60W</text>
<line x1="181.15" y1="373.10" x2="181.15" y2="378.10" class="tk"/>
<text x="181.2" y="389.9" class="lab" text-anchor="middle">0</text>
<line x1="232.87" y1="373.10" x2="232.87" y2="378.10" class="tk"/>
<text x="232.9" y="389.9" class="lab" text-anchor="middle">60E</text>
<line x1="284.58" y1="373.10" x2="284.58" y2="378.10" class="tk"/>
<text x="284.6" y="389.9" class="lab" text-anchor="middle">120E</text>
<line x1="336.30" y1="373.10" x2="336.30" y2="378.10" class="tk"/>
<text x="336.3" y="389.9" class="lab" text-anchor="middle">180</text>
<text x="181.2" y="215.7" class="pt" text-anchor="middle">Lag = 5 pentads</text>
<clipPath id="c3"><rect x="0" y="0" width="310" height="155"/></clipPath>
<g transform="translate(367.3,218.2) scale(1.00290,0.99935)"><g clip-path="url(#c3)">
<path d="M2.5 136.9 L7.8 137.6 L14.2 137.8 L19.4 137.5 L24.5 136.7 L28.4 135.7 L31.6 134.3 L33.4 133.0 L34.3 131.8 L34.4 130.5 L33.8 129.2 L32.3 127.9 L31.0 127.2 L27.1 125.7 L22.0 124.6 L16.8 124.1 L11.6 124.0 L6.5 124.3 L1.3 125.1 L0.0 125.4 L0.0 136.4 L2.5 136.9Z M307.3 135.6 L310.0 136.4 L310.0 125.4 L306.1 126.6 L303.6 127.9 L302.1 129.2 L301.4 130.5 L301.5 131.8 L302.5 133.0 L304.3 134.3 L307.3 135.6Z M220.7 126.6 L223.5 127.3 L226.0 127.5 L228.6 127.4 L231.2 127.0 L232.3 126.6 L234.1 125.3 L233.8 124.0 L232.5 123.3 L231.2 122.8 L228.6 122.3 L224.8 122.2 L220.9 123.1 L219.1 124.0 L218.8 125.3 L220.7 126.6Z M270.7 122.7 L272.5 123.3 L273.8 123.2 L275.3 122.7 L276.4 121.4 L275.1 120.0 L273.8 119.6 L272.5 119.5 L270.7 120.1 L269.4 121.4 L270.7 122.7Z M43.7 93.0 L45.2 93.6 L47.8 93.9 L49.1 93.7 L51.0 93.0 L52.6 91.7 L53.3 90.4 L53.4 89.1 L52.9 87.8 L51.7 86.5 L50.4 85.8 L49.1 85.4 L46.5 85.3 L45.2 85.5 L43.9 86.0 L42.6 86.9 L41.8 87.8 L41.4 89.1 L41.4 90.4 L42.1 91.7 L43.7 93.0Z M142.2 81.4 L146.0 82.3 L149.8 82.6 L155.0 82.5 L158.9 82.0 L161.5 81.2 L164.0 80.0 L165.5 78.8 L166.2 77.5 L166.0 76.2 L165.1 74.9 L163.1 73.6 L160.2 72.5 L157.6 71.9 L155.0 71.6 L151.1 71.4 L147.2 71.7 L144.7 72.1 L142.1 72.8 L140.0 73.6 L138.0 74.9 L137.1 76.2 L137.0 77.5 L137.6 78.8 L139.2 80.1 L142.2 81.4Z M88.4 78.8 L89.1 79.1 L90.4 79.3 L91.7 79.1 L93.0 78.5 L94.2 77.5 L94.8 76.2 L94.6 74.9 L93.8 73.6 L93.0 73.0 L91.7 72.5 L90.4 72.3 L89.1 72.5 L87.8 73.0 L87.0 73.6 L86.2 74.9 L86.1 76.2 L86.7 77.5 L87.8 78.5 L88.4 78.8Z M274.5 73.6 L276.4 74.5 L279.0 74.9 L281.6 74.5 L282.9 74.0 L284.2 73.2 L286.4 71.0 L288.0 68.5 L288.9 65.9 L289.3 63.3 L289.3 60.7 L288.9 58.1 L288.0 55.5 L286.8 53.5 L285.5 51.9 L284.2 50.8 L281.6 49.5 L280.3 49.2 L277.7 49.2 L275.1 50.0 L273.8 50.8 L272.5 51.9 L270.7 54.2 L269.5 56.8 L269.1 58.1 L268.7 60.7 L268.7 63.3 L269.1 65.9 L269.5 67.2 L270.7 69.8 L271.6 71.0 L272.8 72.3 L274.5 73.6Z M45.3 69.8 L47.8 70.7 L50.4 71.0 L53.0 70.9 L55.5 70.1 L56.8 69.4 L58.1 68.5 L59.0 67.2 L59.4 65.9 L59.3 64.6 L58.8 63.3 L57.6 62.0 L56.8 61.4 L54.2 60.3 L53.0 60.0 L51.7 59.8 L49.1 59.9 L47.8 60.2 L45.2 61.2 L44.0 62.0 L42.8 63.3 L42.3 64.6 L42.2 65.9 L42.6 67.2 L43.5 68.5 L45.3 69.8Z M143.0 58.1 L144.7 58.9 L147.2 59.4 L149.8 59.3 L152.4 58.6 L153.7 57.8 L154.8 56.8 L155.7 55.5 L155.9 54.2 L155.7 53.0 L154.8 51.7 L153.7 50.7 L152.4 49.9 L151.1 49.4 L148.5 49.1 L146.0 49.2 L144.7 49.6 L142.9 50.4 L141.4 51.7 L140.6 53.0 L140.3 54.2 L140.6 55.5 L141.4 56.8 L143.0 58.1Z M233.1 58.1 L235.1 58.8 L237.7 59.0 L240.2 58.8 L242.8 57.9 L244.5 56.8 L245.6 55.5 L246.2 54.2 L246.3 53.0 L245.9 51.7 L245.0 50.4 L244.1 49.7 L242.8 48.8 L240.2 48.0 L237.7 47.6 L236.4 47.7 L233.8 48.2 L232.5 48.7 L231.2 49.5 L230.2 50.4 L229.3 51.7 L229.0 53.0 L229.1 54.2 L229.7 55.5 L231.2 57.1 L233.1 58.1Z M98.5 47.8 L100.8 48.2 L103.3 48.3 L105.9 47.9 L108.5 47.2 L109.9 46.5 L111.7 45.2 L112.6 43.9 L112.9 42.6 L112.6 41.3 L111.7 40.0 L110.0 38.8 L108.5 38.0 L105.9 37.3 L103.3 37.0 L100.8 37.1 L98.2 37.5 L95.6 38.4 L93.3 40.0 L92.4 41.3 L92.1 42.6 L92.4 43.9 L93.3 45.2 L95.0 46.5 L96.9 47.4 L98.5 47.8Z M203.4 42.6 L206.7 43.5 L210.5 43.8 L214.4 43.8 L219.6 43.3 L224.8 42.3 L229.9 40.9 L233.8 39.5 L239.0 37.0 L242.5 34.9 L245.7 32.3 L247.8 29.7 L248.5 28.4 L248.9 27.1 L249.0 25.8 L248.6 24.5 L247.8 23.2 L246.1 22.0 L242.8 20.6 L240.2 20.1 L236.4 19.8 L232.5 19.8 L228.6 20.1 L220.9 21.4 L206.7 24.6 L204.1 24.7 L203.7 24.5 L203.4 23.2 L203.7 19.4 L203.2 16.8 L202.5 15.5 L201.5 14.2 L199.9 12.9 L196.3 11.1 L191.2 9.7 L186.0 9.0 L179.5 8.8 L174.4 9.1 L169.2 9.7 L152.4 12.9 L139.5 14.6 L133.0 15.9 L129.2 17.2 L126.6 18.5 L125.5 19.4 L124.5 20.7 L123.4 23.2 L123.3 25.8 L123.5 27.1 L124.0 28.4 L124.8 29.7 L125.9 31.0 L127.4 32.3 L130.5 34.1 L134.3 35.6 L138.2 36.4 L142.1 36.9 L147.2 37.0 L152.4 36.6 L170.5 34.2 L179.5 32.7 L195.0 29.2 L197.6 29.0 L198.5 29.7 L197.8 36.2 L198.0 37.5 L198.4 38.8 L199.3 40.0 L200.8 41.3 L203.4 42.6Z M74.7 22.0 L81.4 22.4 L89.1 22.3 L96.9 21.7 L102.0 20.9 L107.2 19.7 L112.0 18.1 L114.4 16.8 L115.6 15.5 L116.0 14.2 L115.6 12.9 L114.6 11.6 L112.9 10.3 L111.1 9.4 L105.9 7.6 L99.5 6.2 L91.7 5.4 L82.7 5.2 L74.9 5.6 L67.2 6.6 L60.7 8.2 L58.5 9.0 L56.0 10.3 L54.4 11.6 L53.5 12.9 L53.4 14.2 L54.0 15.5 L55.3 16.8 L56.8 17.7 L60.8 19.4 L67.2 21.0 L74.7 22.0Z" fill="#e4c9aa" stroke="none" fill-rule="evenodd"/>
<path d="M10.3 21.0 L12.1 18.2 L20.0 16.1 L38.8 18.1 L44.8 17.2 L54.2 18.5 L70.6 19.4 L73.2 18.5 L77.5 18.5 L81.8 17.7 L84.4 20.2 L80.9 22.4 L74.1 25.0 L74.1 26.9 L75.8 28.4 L80.1 29.7 L84.4 30.1 L84.4 32.3 L87.0 33.2 L87.1 30.1 L88.7 25.8 L87.8 23.9 L92.1 24.1 L95.2 25.0 L97.3 27.1 L99.5 25.6 L102.0 29.3 L105.9 32.7 L106.8 33.2 L103.3 34.3 L97.7 34.3 L94.7 36.6 L99.5 35.5 L99.0 37.0 L102.5 38.2 L98.2 40.0 L94.5 39.9 L94.7 41.5 L91.3 42.5 L90.0 44.3 L89.6 45.6 L90.0 47.1 L87.8 48.4 L85.2 50.4 L86.1 54.7 L85.8 55.8 L84.6 55.1 L82.7 51.7 L80.9 51.3 L77.9 51.5 L78.1 52.5 L74.1 52.0 L71.5 53.6 L71.0 56.0 L70.9 59.0 L71.9 60.7 L73.6 61.8 L76.2 61.6 L77.1 59.4 L80.1 59.0 L79.7 61.6 L78.8 63.7 L82.7 63.9 L83.1 68.0 L84.8 69.8 L86.5 69.3 L88.3 70.2 L88.4 70.7 L86.1 71.2 L81.2 68.9 L79.7 66.3 L76.2 65.4 L73.6 63.7 L71.9 64.0 L68.0 62.7 L64.2 60.3 L64.3 59.0 L61.6 55.5 L58.0 50.4 L56.2 50.2 L60.7 57.7 L58.6 56.1 L56.0 53.1 L54.2 49.5 L53.0 48.2 L51.2 47.7 L49.5 45.2 L48.2 42.6 L48.0 40.5 L48.2 37.6 L47.6 35.8 L49.1 35.7 L47.4 34.4 L44.8 33.6 L43.1 30.6 L40.5 28.4 L37.9 27.1 L34.4 26.0 L29.3 25.1 L25.0 26.3 L22.4 28.0 L18.9 29.3 L13.3 30.6 L17.2 28.8 L19.8 27.1 L15.5 27.0 L13.3 25.4 L12.5 24.1 L13.3 23.0 L16.4 22.0 L11.6 21.7 L10.3 21.0 M92.1 9.9 L97.3 8.2 L103.3 6.9 L116.2 6.0 L129.2 5.6 L137.8 6.9 L144.7 7.3 L139.5 11.2 L138.6 13.8 L136.1 16.8 L133.5 18.1 L127.4 18.9 L122.3 21.1 L119.7 23.2 L117.5 25.8 L113.7 25.0 L111.5 22.4 L109.8 19.8 L107.6 15.1 L105.1 12.5 L98.2 11.6 L92.1 9.9 M101.8 20.2 L99.5 23.7 L98.2 24.3 L88.3 22.1 L91.3 20.7 L92.1 18.5 L88.7 17.7 L78.4 15.9 L80.9 14.6 L86.1 14.0 L93.0 15.1 L96.4 16.8 L101.6 19.8 L101.8 20.2 M77.5 11.2 L90.4 9.9 L101.6 6.9 L90.4 6.0 L77.5 7.3 L73.2 9.5 L77.5 11.2 M53.4 16.4 L64.6 14.6 L68.0 17.2 L62.0 18.3 L54.2 17.7 L53.4 16.4 M47.4 15.5 L51.7 13.3 L56.0 14.2 L53.4 15.9 L47.4 15.5 M75.8 11.6 L86.1 11.6 L86.1 13.3 L75.8 13.3 L75.8 11.6 M60.3 11.6 L68.9 10.3 L72.3 11.2 L70.6 12.9 L64.6 12.9 L60.3 11.6 M51.7 12.1 L57.7 11.2 L62.0 12.5 L56.8 13.3 L51.7 12.1 M80.9 22.6 L86.1 22.8 L84.4 20.8 L80.9 21.1 L80.9 22.6 M103.9 36.5 L106.8 34.9 L107.2 33.2 L109.5 36.6 L107.2 37.2 L103.9 36.5 M88.4 70.6 L90.0 68.5 L92.1 67.6 L93.4 66.8 L93.9 68.2 L96.4 68.5 L99.9 68.4 L102.0 68.9 L105.9 72.3 L109.4 72.8 L111.1 74.1 L111.9 76.2 L112.8 77.5 L113.7 78.4 L116.7 79.7 L120.6 79.9 L123.1 81.8 L124.7 82.2 L125.0 84.4 L124.4 86.1 L121.8 88.7 L121.4 92.6 L120.1 95.6 L118.8 97.3 L116.7 97.5 L113.2 100.3 L113.1 102.0 L108.9 106.8 L107.6 107.6 L105.5 107.2 L105.7 108.9 L105.5 110.4 L101.6 111.1 L101.4 112.6 L99.0 112.8 L99.9 114.1 L98.6 116.2 L96.9 117.5 L98.2 118.7 L95.6 121.0 L96.2 122.5 L97.7 124.9 L94.7 125.1 L91.3 123.1 L90.0 120.6 L91.3 118.0 L91.3 115.4 L91.7 113.2 L91.5 109.4 L93.4 105.1 L93.4 101.6 L94.4 97.7 L94.5 93.4 L90.0 90.4 L89.1 89.1 L86.5 84.0 L85.0 81.6 L86.1 79.7 L85.3 78.4 L86.1 76.6 L87.1 76.0 L88.3 74.1 L88.4 70.6 M149.9 46.7 L154.1 46.9 L157.6 45.8 L163.6 45.5 L164.5 47.4 L164.0 48.7 L167.9 49.6 L171.8 51.2 L172.4 49.5 L174.8 49.5 L176.5 50.1 L180.4 50.8 L182.8 50.6 L183.0 51.8 L187.0 59.4 L189.2 64.2 L192.3 67.0 L192.9 68.5 L199.1 67.3 L198.9 68.5 L197.6 71.9 L194.6 75.8 L191.2 78.4 L189.4 80.1 L188.8 81.8 L189.0 84.4 L189.9 87.0 L189.9 90.4 L186.9 92.6 L185.1 94.7 L185.6 97.7 L183.4 99.7 L183.2 102.0 L181.3 104.2 L178.7 106.3 L172.2 107.5 L170.8 107.0 L170.7 105.1 L169.2 102.1 L167.9 100.3 L167.5 96.9 L165.3 93.4 L165.2 91.1 L166.6 87.8 L166.4 85.1 L164.9 80.5 L163.0 77.9 L163.3 74.1 L162.3 73.6 L160.2 73.8 L158.9 72.1 L156.7 72.1 L153.7 73.2 L151.6 73.0 L148.5 73.7 L143.8 70.6 L142.1 68.0 L140.3 64.8 L140.8 60.7 L140.4 59.4 L143.8 53.6 L146.6 51.9 L146.8 49.5 L149.1 48.2 L149.9 46.7 M197.5 87.8 L198.5 90.8 L197.6 92.1 L195.5 99.0 L193.8 99.5 L192.5 96.4 L193.1 94.3 L192.9 92.1 L195.0 91.0 L197.5 87.8 M150.2 46.5 L149.6 45.8 L148.5 45.5 L147.2 45.6 L147.4 44.2 L146.8 43.9 L147.4 42.2 L147.0 40.5 L148.1 39.9 L153.4 40.1 L154.0 37.9 L153.1 36.9 L151.0 35.9 L153.7 35.6 L153.6 34.8 L155.2 34.9 L156.4 33.7 L157.6 33.4 L158.9 32.7 L159.3 31.7 L162.5 31.1 L162.4 29.7 L162.1 28.6 L164.1 27.8 L164.0 28.8 L163.6 30.1 L164.5 30.8 L166.6 30.7 L167.5 31.2 L170.5 30.3 L171.8 30.7 L173.1 29.7 L173.1 28.4 L173.9 27.9 L175.5 28.4 L175.9 27.1 L175.2 26.5 L179.1 26.3 L180.8 25.8 L176.5 25.5 L174.4 25.8 L173.5 25.0 L173.5 23.2 L176.5 21.5 L177.0 21.1 L173.9 20.8 L173.3 22.1 L171.4 22.8 L170.1 23.8 L170.1 25.2 L171.2 26.0 L169.2 28.4 L169.2 29.1 L167.2 29.8 L166.0 29.6 L165.8 28.8 L164.7 27.1 L164.0 26.4 L161.0 27.6 L159.7 26.7 L159.3 25.0 L159.5 23.9 L161.9 23.1 L164.0 22.0 L166.2 20.7 L167.9 18.9 L171.4 17.2 L177.2 16.3 L179.5 16.4 L181.7 17.0 L183.4 17.7 L186.0 18.1 L193.1 20.2 L187.7 20.6 L185.0 22.0 L186.9 22.6 L189.4 21.9 L192.7 20.6 L192.9 18.5 L195.0 18.9 L200.6 18.5 L204.1 18.5 L206.7 18.1 L211.8 17.9 L214.0 18.8 L212.7 16.4 L214.0 14.8 L217.4 14.8 L217.0 17.2 L217.9 18.9 L218.7 16.8 L224.3 14.2 L229.9 13.8 L229.5 12.9 L235.9 12.1 L241.1 11.6 L244.8 10.6 L246.3 11.2 L251.4 12.1 L252.7 14.2 L256.6 14.2 L265.2 14.6 L266.5 16.4 L268.7 15.9 L275.6 15.1 L291.1 16.4 L292.8 17.2 L306.6 17.5 L310.0 18.2 M310.0 21.1 L307.4 21.8 L309.1 23.9 L304.8 24.3 L301.4 25.8 L296.2 26.0 L294.5 29.3 L292.8 31.0 L291.5 31.9 L289.9 33.6 L289.3 32.3 L288.9 29.3 L289.8 28.0 L295.4 24.1 L292.8 24.5 L288.5 26.4 L285.0 26.3 L278.1 26.4 L276.0 27.7 L273.0 30.6 L276.0 31.4 L276.7 32.7 L276.0 35.7 L271.2 40.1 L268.7 40.5 L267.4 41.1 L266.7 42.2 L265.2 43.5 L266.4 45.6 L266.3 47.2 L263.9 47.9 L263.9 45.0 L262.6 44.9 L262.4 43.4 L259.4 44.1 L260.1 42.6 L259.2 42.4 L257.9 43.2 L256.6 43.7 L256.4 44.3 L257.5 45.5 L258.8 45.0 L260.5 45.3 L258.6 46.5 L257.6 47.4 L260.0 50.9 L259.9 52.5 L258.3 54.7 L256.2 57.1 L253.4 58.3 L250.6 59.0 L249.7 59.9 L249.3 59.0 L247.6 59.0 L246.0 61.4 L247.1 62.9 L248.9 64.6 L249.0 67.2 L247.1 68.5 L245.4 70.1 L245.2 68.6 L243.7 68.0 L243.1 67.0 L241.9 66.6 L241.1 66.0 L240.4 68.6 L242.0 71.6 L243.3 72.5 L244.0 74.1 L244.1 75.3 L244.7 76.3 L244.0 76.4 L242.2 75.0 L241.4 73.0 L241.3 71.9 L239.7 70.6 L239.9 68.9 L239.1 63.3 L236.8 63.9 L236.2 63.7 L236.4 61.1 L234.5 59.7 L234.1 58.2 L232.9 58.6 L229.9 59.0 L229.5 60.3 L225.9 63.2 L224.1 64.2 L224.1 66.3 L223.7 68.6 L221.7 70.5 L220.9 69.8 L220.2 67.6 L218.2 63.7 L217.7 61.1 L217.5 59.2 L216.0 59.7 L214.4 58.3 L215.4 57.8 L214.0 57.2 L212.3 55.6 L208.4 55.8 L204.5 55.4 L203.6 54.2 L201.5 54.5 L199.3 53.5 L198.2 51.7 L196.8 51.7 L196.3 52.1 L196.8 53.4 L198.2 54.9 L198.7 56.2 L199.1 55.0 L199.8 56.8 L201.9 56.6 L203.2 55.5 L203.5 54.9 L203.7 56.7 L205.4 57.2 L206.5 58.1 L204.5 61.1 L202.8 62.3 L196.9 65.4 L193.8 66.5 L192.5 66.6 L191.6 63.3 L190.3 60.7 L188.6 59.0 L188.2 56.8 L186.4 55.1 L185.1 52.1 L184.5 53.6 L183.8 53.2 L183.0 51.8 L182.8 50.6 L184.5 50.5 L185.8 47.4 L186.0 45.8 L184.7 45.8 L183.0 46.4 L179.4 45.8 L178.5 45.0 L177.8 43.9 L177.6 43.1 L177.8 42.3 L174.7 42.6 L175.7 44.6 L174.8 46.1 L173.7 45.8 L173.2 44.5 L172.2 43.3 L171.7 41.5 L170.9 40.9 L168.8 40.0 L167.9 38.8 L166.8 38.2 L165.6 38.5 L165.7 39.6 L168.8 41.8 L170.9 43.0 L169.6 43.9 L169.3 44.8 L168.4 44.8 L168.5 43.1 L164.0 40.6 L163.6 39.6 L162.3 39.4 L160.2 40.4 L158.9 40.0 L157.7 40.5 L157.8 41.4 L155.8 42.2 L155.0 43.5 L154.7 44.3 L153.7 45.2 L152.8 45.9 L151.1 45.9 L150.2 46.5 M0.0 18.2 L4.3 19.4 L6.9 19.9 L8.9 20.7 L6.0 22.0 L0.0 21.1 M179.1 41.8 L180.0 42.0 L181.7 42.1 L183.7 41.3 L185.1 41.3 L187.7 42.2 L189.4 42.2 L190.7 41.8 L190.8 40.9 L187.3 39.0 L187.7 38.3 L185.1 38.8 L183.9 39.2 L183.0 38.5 L183.8 37.9 L181.7 37.4 L179.6 39.6 L179.1 40.9 L179.1 41.8 M197.2 37.4 L198.9 37.0 L200.6 37.2 L200.6 38.6 L199.2 39.2 L198.9 40.5 L200.4 41.3 L200.6 43.1 L201.3 44.3 L201.4 45.5 L198.9 45.9 L197.2 45.2 L197.5 43.1 L198.3 42.8 L197.2 41.9 L196.0 40.6 L195.9 39.6 L195.9 38.2 L197.2 37.4 M150.1 34.4 L152.4 33.8 L156.1 33.5 L156.5 32.2 L155.2 31.5 L154.9 30.7 L153.3 29.4 L152.2 29.2 L153.4 28.0 L152.4 27.0 L150.7 27.0 L149.7 28.8 L150.9 30.3 L152.1 30.6 L152.4 31.5 L151.0 31.6 L151.4 32.5 L150.5 33.0 L152.4 33.3 L150.1 34.4 M149.8 32.5 L149.7 31.1 L150.1 30.4 L148.7 29.8 L146.4 30.8 L146.5 31.9 L146.1 32.8 L147.2 33.2 L149.8 32.5 M135.5 22.4 L134.3 21.1 L136.1 20.3 L139.5 20.6 L142.5 20.4 L143.3 21.5 L142.1 22.1 L138.9 22.9 L135.5 22.4 M164.5 9.9 L168.8 8.6 L178.2 8.4 L173.9 10.3 L168.8 11.5 L164.5 9.9 M199.8 15.9 L204.1 16.7 L207.5 14.6 L214.4 11.4 L208.4 11.9 L202.4 13.5 L199.8 15.9 M237.7 9.5 L241.1 7.8 L245.4 9.0 L241.1 10.3 L237.7 9.5 M272.1 12.9 L277.3 12.1 L280.7 12.5 L275.6 13.8 L272.1 12.9 M267.7 48.2 L269.1 46.9 L272.1 46.7 L273.2 45.2 L275.1 44.8 L275.6 43.1 L275.6 41.8 L276.8 41.9 L277.3 43.5 L276.4 44.8 L276.2 46.7 L275.4 47.4 L272.5 48.0 L271.2 48.7 L267.7 48.2 M266.6 48.7 L267.8 48.3 L268.6 49.5 L267.8 50.6 L267.1 50.5 L266.6 48.7 M275.6 41.8 L276.4 41.5 L278.6 41.3 L280.3 40.2 L279.9 39.4 L277.1 38.4 L276.7 40.2 L275.6 40.6 L275.6 41.8 M277.3 37.9 L278.6 37.2 L278.1 35.1 L279.0 35.2 L278.3 33.2 L278.3 31.4 L277.7 30.7 L277.3 37.9 M258.4 57.7 L259.2 58.6 L260.0 56.4 L259.6 55.7 L258.5 56.8 L258.4 57.7 M248.5 61.1 L250.2 60.2 L250.6 60.6 L249.3 61.8 L248.5 61.1 M258.3 61.6 L260.3 61.6 L260.1 63.7 L259.6 65.2 L261.8 66.7 L260.9 66.0 L258.9 65.4 L258.2 63.4 L258.3 61.6 M260.1 71.5 L261.3 70.2 L263.1 69.1 L263.9 71.0 L263.1 72.6 L261.8 71.9 L260.1 71.5 M260.1 68.9 L261.8 68.9 L262.6 67.6 L261.8 66.7 L260.5 67.6 L260.1 68.9 M223.7 69.1 L224.1 69.2 L225.4 71.0 L224.9 72.2 L224.0 72.3 L223.7 70.6 L223.7 69.1 M237.1 72.7 L239.0 73.0 L241.4 75.6 L246.3 80.3 L246.1 82.5 L245.0 82.6 L243.1 80.9 L240.1 76.0 L237.1 72.7 M245.6 83.4 L246.7 82.7 L248.3 82.9 L250.6 83.0 L253.7 84.1 L253.5 85.0 L248.0 84.2 L246.6 83.9 L245.6 83.4 M248.9 76.2 L249.4 75.8 L252.3 74.7 L254.5 73.0 L255.8 71.5 L257.7 72.9 L256.6 73.8 L256.5 76.6 L257.5 76.7 L257.3 77.9 L256.2 78.2 L255.3 79.2 L254.9 80.9 L252.3 80.2 L249.9 80.0 L249.7 78.8 L248.9 77.5 L248.9 76.2 M257.9 82.2 L258.8 82.3 L258.7 79.9 L259.2 79.8 L260.5 81.5 L260.9 80.9 L259.6 79.0 L261.2 78.3 L259.2 78.3 L258.6 77.1 L260.9 76.7 L262.6 76.2 L262.0 77.2 L259.2 77.2 L258.3 76.9 L257.7 80.5 L257.9 82.2 M267.8 78.6 L270.4 78.2 L271.2 80.3 L273.8 78.9 L279.4 80.8 L280.7 82.2 L282.0 82.7 L282.4 84.4 L284.6 86.5 L281.6 86.1 L279.0 84.2 L278.1 85.2 L276.4 85.3 L275.1 84.6 L273.8 84.7 L273.7 81.8 L269.5 80.9 L267.8 78.6 M261.8 86.4 L264.4 84.7 L262.6 85.4 L261.8 86.4 M252.7 96.4 L252.6 99.9 L253.9 102.5 L254.0 104.6 L254.6 106.3 L254.0 107.0 L256.6 107.6 L259.2 106.6 L263.5 105.3 L266.1 104.7 L268.2 104.6 L270.4 105.7 L271.7 107.5 L273.4 105.9 L273.7 108.1 L274.3 107.5 L275.3 109.4 L276.4 110.5 L279.0 110.5 L281.0 111.1 L282.4 110.0 L284.2 109.8 L285.3 106.6 L286.8 104.2 L287.3 101.6 L286.8 99.0 L283.7 96.6 L281.0 93.9 L280.2 91.3 L278.7 89.6 L277.7 86.7 L276.9 88.7 L276.8 91.3 L276.1 92.6 L272.7 91.1 L271.7 90.4 L272.7 88.1 L269.2 87.3 L267.8 88.0 L266.9 88.9 L266.5 90.4 L265.2 90.4 L263.7 89.6 L262.6 90.4 L261.3 92.0 L260.3 92.6 L259.6 93.9 L257.5 94.7 L255.6 95.2 L252.7 96.4 M279.5 112.5 L282.7 112.7 L282.4 114.7 L281.4 115.0 L280.0 113.8 L279.5 112.5 M303.7 107.1 L306.4 109.4 L308.7 110.0 L307.8 111.3 L306.0 113.3 L305.4 113.0 L305.7 111.6 L304.7 111.3 L305.3 109.5 L303.7 107.1 M303.7 112.4 L305.1 113.1 L304.5 114.4 L303.8 115.0 L302.4 115.8 L302.0 117.0 L300.5 117.6 L298.4 117.1 L299.7 115.4 L301.8 114.5 L303.1 113.3 L303.7 112.4 M0.0 144.7 L8.6 144.9 L18.9 144.2 L34.4 142.1 L43.1 141.5 L51.7 141.1 L60.3 141.7 L68.9 140.4 L77.5 139.9 L86.1 140.4 L90.4 138.6 L96.4 137.8 L99.0 135.2 L101.6 133.5 L105.9 132.0 L104.2 133.0 L101.6 137.8 L102.5 141.7 L94.7 143.8 L103.3 144.7 L124.9 144.2 L129.2 142.9 L146.4 138.6 L155.0 137.8 L172.2 137.8 L189.4 136.9 L198.1 135.2 L206.7 135.2 L215.3 136.5 L217.0 137.8 L223.9 135.6 L232.5 134.8 L241.1 134.3 L249.7 134.3 L258.3 135.0 L266.9 134.5 L275.6 134.8 L284.2 136.5 L301.4 139.1 L297.9 141.2 L297.1 143.8 L299.7 144.2 L310.0 144.7 M81.8 58.6 L84.4 57.6 L88.7 58.6 L91.1 60.1 L88.3 60.4 L85.2 58.9 L81.8 58.6 M90.8 61.6 L92.6 60.4 L95.2 60.6 L96.0 61.6 L93.4 62.3 L90.8 61.6 M75.8 37.3 L82.2 37.5 L81.8 36.2 L78.4 35.7 L75.8 37.3 M79.7 41.6 L79.2 39.2 L81.8 38.1 L80.7 40.5 L79.7 41.6 M82.2 38.1 L84.0 40.5 L84.6 38.6 L82.2 38.1 M83.1 41.6 L87.0 40.6 L83.1 41.6 M86.3 40.2 L89.4 40.0 L89.1 39.4 L86.3 40.2 M54.2 12.5 L60.3 11.8 L64.6 12.5 L60.3 13.3 L54.2 12.5 M49.9 11.6 L55.1 10.9 L56.0 11.8 L51.7 12.1 L49.9 11.6 M67.2 11.6 L70.6 11.6 L71.5 12.9 L68.0 12.9 L67.2 11.6 M71.5 12.5 L74.9 12.5 L74.9 13.2 L71.5 13.2 L71.5 12.5 M72.3 14.0 L77.5 13.9 L76.6 15.5 L73.2 15.3 L72.3 14.0 M67.2 14.2 L71.5 14.2 L72.3 15.5 L68.9 15.9 L66.3 15.1 L67.2 14.2 M69.8 17.7 L72.3 17.7 L72.3 18.5 L69.8 18.5 L69.8 17.7 M73.2 7.8 L79.2 7.3 L80.9 9.0 L75.8 9.9 L73.2 8.6 L73.2 7.8 M82.7 23.7 L85.2 23.4 L86.1 24.1 L83.5 24.1 L82.7 23.7 M194.6 8.2 L201.5 7.5 L208.4 7.8 L206.7 8.6 L196.3 8.6 L194.6 8.2 M44.5 33.8 L47.4 34.4 L48.8 35.8 L47.6 35.6 L44.8 34.2 L44.5 33.8 M165.8 44.7 L168.4 44.5 L168.0 45.9 L165.7 45.0 L165.8 44.7 M162.2 42.2 L163.4 42.2 L163.3 43.9 L162.2 43.9 L162.2 42.2 M162.4 40.5 L163.2 40.5 L163.1 41.9 L162.5 41.7 L162.4 40.5 M175.2 46.9 L177.6 47.2 L175.7 47.4 L175.2 46.9 M102.2 121.6 L105.1 121.6 L104.6 122.3 L102.5 122.3 L102.2 121.6 M87.6 61.6 L89.3 61.8 L88.7 62.2 L87.6 61.6 M97.1 61.6 L98.5 61.7 L98.2 62.0 L97.1 61.6 M20.7 59.6 L21.5 60.3 L20.8 61.1 L20.7 59.6 M12.1 31.0 L8.6 32.0 L12.1 31.0 M5.2 32.5 L0.9 33.1 L5.2 32.5 M303.5 31.9 L306.6 32.5 L303.5 31.9 M214.4 119.7 L215.7 119.9 L215.3 120.3 L214.4 119.7 M122.7 124.0 L124.0 124.2 L124.2 124.7 L122.7 124.0 M269.5 87.3 L272.5 87.7 L271.7 88.3 L269.5 87.3 M284.2 82.2 L285.9 81.2 L285.5 82.7 L284.2 82.2 M287.6 82.7 L289.3 83.5 L287.6 82.7 M290.2 84.4 L293.6 86.1 L292.8 85.2 L290.2 84.4 M297.1 95.2 L298.8 96.4 L297.9 96.2 L297.1 95.2 M308.3 92.1 L309.6 91.7 L308.7 93.0 L308.3 92.1 M254.0 84.6 L254.9 84.9 L256.6 84.7 L257.5 85.0 L254.9 85.2 L254.0 84.6 M257.9 84.8 L260.9 84.6 L259.2 85.2 L257.9 84.8 M263.5 80.3 L265.2 80.5 L264.4 80.9 L263.5 80.3 M264.8 76.0 L265.7 76.2 L265.2 77.5 L264.8 76.0 M275.6 79.7 L276.4 79.7 L276.0 80.1 L275.6 79.7 M291.1 144.2 L294.5 145.1 L297.1 147.2 L301.4 149.0 L310.0 150.3 M0.0 150.3 L8.6 150.7 L17.2 149.8 L25.8 148.1 L21.5 146.4 L18.9 144.2 M102.5 141.7 L99.0 144.7 L90.4 146.4 L86.1 147.7 L103.3 148.5 L120.6 147.2 L129.2 145.5 L124.9 144.2 M94.7 136.9 L93.0 139.1 L91.3 137.8 L94.7 136.9 M68.9 139.5 L70.6 139.9 L67.2 140.2 L68.9 139.5 M45.6 140.6 L48.2 141.1 L47.4 141.5 L45.6 140.6 M28.4 142.5 L30.1 142.9 L27.6 143.2 L28.4 142.5 M132.6 142.9 L137.8 143.8 L139.5 142.9 L132.6 142.9 M214.4 137.8 L217.0 138.6 L213.6 139.5 L214.4 137.8" fill="none" stroke="#9a9a9a" stroke-width="0.6"/>
<path d="M0.0 140.7 L6.5 141.9 L12.9 142.2 L19.4 141.8 L23.2 141.2 L25.8 140.5 L29.7 139.1 L31.5 138.2 L33.6 136.7 L34.8 135.6 L35.7 134.3 L36.4 133.0 L36.9 130.5 L36.8 129.2 L36.0 126.6 L34.9 124.6 L33.2 122.7 L31.6 121.4 L29.3 120.1 L27.1 119.2 L23.2 118.2 L16.8 117.3 L12.9 117.3 L10.3 117.6 L7.8 118.3 L5.2 119.3 L0.0 122.3 M216.2 130.5 L220.9 131.2 L227.3 131.5 L232.5 131.2 L237.7 130.3 L241.3 129.2 L243.6 127.9 L244.9 126.6 L245.5 125.3 L245.5 124.0 L245.0 122.7 L243.9 121.4 L242.8 120.7 L240.2 119.5 L236.4 118.6 L231.2 118.2 L224.8 118.3 L218.3 118.9 L213.1 119.8 L210.5 120.5 L208.4 121.4 L206.7 122.7 L206.0 124.0 L206.1 125.3 L206.9 126.6 L209.2 128.2 L211.8 129.3 L216.2 130.5 M310.0 122.3 L305.9 125.3 L303.1 127.9 L300.9 130.5 L300.2 131.8 L299.9 133.0 L299.9 134.3 L300.5 135.6 L302.2 137.4 L303.5 138.2 L306.1 139.4 L310.0 140.7 M130.0 117.5 L133.0 117.7 L135.6 117.6 L138.2 117.2 L140.8 116.4 L143.6 115.0 L144.6 113.7 L144.8 112.4 L144.1 111.1 L142.5 109.8 L139.5 108.6 L136.9 108.0 L134.3 107.7 L130.5 107.6 L126.6 108.1 L124.0 108.8 L121.7 109.8 L120.3 111.1 L119.9 112.4 L120.3 113.7 L121.6 115.0 L124.1 116.2 L126.6 117.0 L130.0 117.5 M40.3 107.2 L42.6 108.1 L43.9 108.2 L46.5 108.1 L49.1 107.5 L51.7 106.4 L54.2 104.7 L55.8 103.3 L58.0 100.8 L58.7 99.5 L59.7 96.9 L60.1 94.3 L59.9 91.7 L58.9 89.1 L58.0 87.8 L56.8 86.5 L55.1 85.2 L52.6 84.0 L49.1 82.9 L46.5 82.6 L43.9 82.7 L41.3 83.3 L38.8 84.5 L37.7 85.2 L36.3 86.5 L35.4 87.8 L34.8 89.1 L34.2 91.7 L34.1 94.3 L34.9 98.2 L36.2 102.2 L37.5 104.6 L38.8 106.1 L40.3 107.2 M169.2 102.0 L171.8 102.9 L174.4 102.8 L175.7 102.6 L177.0 102.0 L178.5 100.8 L179.1 99.5 L178.9 98.2 L177.9 96.9 L175.7 95.7 L173.1 95.4 L170.5 95.9 L168.5 96.9 L167.4 98.2 L167.2 99.5 L167.7 100.8 L169.2 102.0 M90.4 78.8 L93.0 79.2 L95.6 79.1 L98.2 78.3 L99.5 77.6 L100.8 76.7 L102.2 74.9 L102.8 73.6 L103.0 72.3 L103.0 71.0 L102.5 69.8 L101.6 68.5 L100.1 67.2 L98.2 66.3 L96.7 65.9 L94.3 65.6 L91.7 66.0 L90.4 66.4 L89.1 67.0 L87.8 68.0 L86.5 69.5 L85.8 71.0 L85.5 72.3 L85.5 73.6 L85.8 74.9 L86.5 76.2 L87.8 77.5 L90.4 78.8 M273.5 73.6 L276.4 74.5 L280.3 74.9 L284.2 74.7 L288.0 73.9 L290.6 72.9 L293.7 71.0 L295.8 68.9 L296.9 67.2 L297.8 64.6 L298.2 60.7 L297.9 56.8 L297.1 53.0 L295.8 49.4 L294.5 47.3 L292.6 45.2 L290.6 43.8 L288.0 42.6 L284.2 41.6 L280.3 41.3 L277.7 41.6 L273.8 42.6 L271.2 43.9 L270.0 44.8 L268.7 46.1 L267.4 48.0 L265.9 51.7 L264.8 56.8 L264.5 60.7 L264.9 64.6 L265.8 67.2 L267.7 69.8 L270.0 71.7 L271.2 72.6 L273.5 73.6 M24.8 62.0 L27.1 62.9 L28.4 63.0 L29.7 63.0 L32.3 62.3 L34.9 61.0 L36.2 60.0 L39.3 56.8 L40.3 55.5 L41.7 53.0 L42.3 50.4 L42.4 49.1 L42.1 47.8 L41.6 46.5 L40.7 45.2 L38.8 43.3 L37.5 42.4 L34.9 41.1 L32.3 40.3 L29.7 40.0 L27.1 40.3 L25.8 40.8 L24.5 41.7 L23.2 43.1 L22.0 45.4 L21.1 47.8 L20.7 50.4 L20.7 54.2 L21.2 56.8 L22.0 58.9 L23.2 60.7 L24.8 62.0 M140.5 60.7 L144.7 61.2 L148.5 61.1 L152.4 60.3 L154.9 59.4 L156.3 58.7 L158.9 56.7 L164.0 50.8 L166.6 48.4 L170.5 45.6 L175.8 42.6 L176.8 41.3 L176.1 40.0 L174.4 39.4 L173.1 39.1 L169.2 38.8 L164.0 39.0 L158.9 39.6 L156.3 40.1 L152.3 41.3 L148.5 42.9 L143.4 45.6 L139.9 47.8 L136.8 50.4 L134.7 53.0 L134.0 54.2 L133.7 55.5 L133.9 56.8 L134.6 58.1 L135.6 58.9 L138.2 60.1 L140.5 60.7 M63.4 50.4 L64.6 51.4 L65.9 51.6 L67.2 50.8 L67.4 50.4 L67.2 50.0 L65.9 49.1 L64.6 49.2 L63.4 50.4 M201.4 49.1 L204.1 49.5 L206.7 49.6 L209.2 49.3 L211.8 48.8 L215.7 47.7 L226.0 43.7 L231.2 42.1 L236.4 40.8 L246.6 38.8 L250.6 37.7 L253.2 36.7 L255.8 35.4 L257.0 34.5 L259.4 32.3 L260.4 31.0 L261.8 28.4 L262.1 27.1 L262.2 25.8 L262.1 24.5 L261.6 23.2 L260.6 22.0 L259.0 20.7 L256.1 19.4 L253.2 18.6 L250.6 18.2 L245.4 17.8 L237.7 18.0 L228.6 19.0 L222.2 20.4 L217.0 22.3 L211.8 24.9 L196.4 33.6 L194.7 34.9 L193.6 36.2 L192.7 37.5 L191.8 40.0 L191.6 41.3 L191.7 42.6 L192.5 44.3 L193.8 45.7 L196.3 47.3 L198.9 48.4 L201.4 49.1 M0.0 31.5 L0.7 32.3 L2.6 33.3 L6.5 34.5 L9.0 35.0 L12.9 35.5 L18.1 35.6 L20.7 35.1 L22.0 34.6 L23.2 33.7 L24.4 32.3 L24.9 31.0 L25.2 29.7 L25.2 28.4 L24.8 27.1 L24.0 25.8 L23.2 25.2 L20.7 23.9 L18.1 23.3 L15.5 23.0 L11.6 23.0 L6.5 23.9 L2.6 25.4 L1.3 26.2 L0.0 27.5 M77.3 27.1 L85.2 27.6 L94.3 27.5 L102.0 26.8 L105.9 26.1 L108.5 25.4 L110.9 24.5 L113.3 23.3 L115.0 22.0 L116.3 20.7 L117.3 19.4 L118.7 16.8 L119.0 15.5 L119.1 14.2 L118.8 12.9 L118.1 11.6 L116.2 9.9 L113.7 8.4 L109.8 7.0 L105.9 5.9 L100.8 4.9 L95.6 4.2 L90.4 3.7 L85.2 3.4 L78.8 3.4 L68.5 4.0 L63.3 4.6 L58.1 5.4 L53.5 6.5 L49.0 7.8 L45.6 9.0 L42.9 10.3 L40.8 11.6 L39.2 12.9 L38.1 14.2 L37.4 15.5 L37.2 16.8 L37.6 18.1 L38.8 19.5 L40.6 20.7 L43.9 21.9 L49.8 23.2 L66.8 25.8 L77.3 27.1 M310.0 27.5 L309.4 28.4 L309.1 29.7 L309.5 31.0 L310.0 31.5 M10.2 135.6 L14.2 135.7 L16.8 135.4 L19.4 134.8 L22.0 133.8 L23.3 133.0 L24.6 131.8 L25.2 130.5 L25.3 129.2 L24.9 127.9 L23.9 126.6 L22.1 125.3 L19.4 124.1 L16.8 123.6 L12.9 123.3 L10.3 123.6 L7.8 124.3 L5.6 125.3 L3.7 126.6 L2.4 127.9 L1.6 129.2 L1.3 130.5 L1.5 131.8 L2.6 133.0 L4.7 134.3 L7.8 135.2 L10.2 135.6 M219.8 126.6 L223.5 127.4 L226.0 127.6 L228.6 127.5 L231.2 127.2 L233.8 126.6 L235.1 125.8 L235.8 125.3 L236.2 124.0 L234.9 122.7 L231.2 121.7 L227.3 121.4 L223.5 121.7 L219.2 122.7 L217.5 124.0 L217.7 125.3 L219.8 126.6 M43.8 99.5 L45.2 100.1 L46.5 100.3 L47.8 100.2 L49.1 99.7 L50.4 98.9 L51.7 97.5 L52.6 95.6 L52.8 94.3 L52.8 93.0 L52.5 91.7 L51.7 90.4 L50.4 89.1 L49.1 88.5 L47.8 88.2 L46.5 88.1 L45.2 88.3 L43.9 88.9 L42.2 90.4 L41.5 91.7 L41.2 93.0 L41.2 95.6 L41.7 96.9 L42.4 98.2 L43.8 99.5 M281.5 65.9 L282.9 65.8 L285.5 64.9 L287.6 63.3 L288.6 62.0 L289.1 60.7 L289.4 59.4 L289.2 56.8 L288.0 54.2 L285.8 51.7 L284.2 50.4 L282.2 49.1 L280.3 48.4 L277.7 48.1 L276.4 48.3 L275.1 48.7 L273.8 49.6 L272.5 51.1 L271.8 53.0 L271.8 54.2 L272.0 55.5 L273.8 60.7 L274.5 62.0 L275.5 63.3 L276.4 64.2 L277.7 65.0 L279.0 65.5 L281.5 65.9 M27.3 56.8 L28.4 57.5 L29.7 57.8 L31.0 57.8 L32.3 57.5 L33.6 56.9 L35.2 55.5 L36.2 54.2 L36.8 53.0 L37.1 51.7 L37.0 50.4 L36.6 49.1 L35.7 47.8 L34.9 47.1 L33.6 46.4 L32.3 46.1 L31.0 46.1 L29.2 46.5 L28.4 46.9 L27.1 47.9 L26.2 49.1 L25.7 50.4 L25.4 53.0 L25.8 54.8 L26.2 55.5 L27.3 56.8 M144.6 56.8 L146.0 57.2 L148.5 57.3 L151.0 56.8 L152.4 56.2 L153.5 55.5 L155.0 54.0 L155.6 53.0 L155.9 51.7 L155.8 50.4 L155.0 49.3 L153.7 48.6 L151.1 48.4 L147.2 49.1 L144.7 50.2 L142.9 51.7 L142.1 53.0 L141.9 54.2 L142.6 55.5 L144.6 56.8 M206.3 42.6 L209.2 43.2 L211.8 43.3 L217.0 42.8 L222.2 41.7 L228.2 40.0 L239.0 36.7 L243.2 34.9 L245.3 33.6 L246.8 32.3 L247.9 31.0 L248.7 29.7 L249.1 28.4 L249.1 27.1 L248.5 25.8 L247.3 24.5 L246.7 24.2 L244.1 23.1 L240.2 22.4 L236.4 22.3 L231.2 22.7 L227.3 23.4 L222.2 24.9 L217.0 27.0 L211.9 29.7 L206.1 33.6 L203.2 36.2 L202.3 37.5 L202.0 38.8 L202.2 40.0 L203.4 41.3 L206.3 42.6 M83.9 24.5 L90.4 24.4 L95.6 23.8 L98.2 23.2 L100.8 22.3 L103.8 20.7 L105.1 19.4 L105.6 18.1 L105.6 16.8 L105.0 15.5 L103.3 14.0 L101.4 12.9 L99.5 12.1 L94.3 10.7 L89.1 10.0 L84.0 9.7 L77.5 10.0 L72.3 10.7 L67.2 11.9 L63.3 13.5 L62.1 14.2 L60.8 15.5 L60.3 16.8 L60.8 18.1 L62.1 19.4 L64.5 20.7 L68.0 22.0 L73.1 23.2 L78.8 24.1 L83.9 24.5 M276.2 54.2 L277.7 54.9 L279.0 54.6 L279.4 54.2 L279.8 53.0 L279.0 51.7 L277.7 51.3 L276.4 51.6 L275.7 53.0 L276.2 54.2 M219.2 36.2 L222.2 36.4 L224.7 36.2 L229.5 34.9 L232.3 33.6 L234.1 32.3 L234.9 31.0 L234.5 29.7 L232.5 28.9 L229.9 28.7 L226.0 29.4 L222.2 30.8 L219.6 32.3 L218.3 33.6 L217.9 34.9 L218.3 35.5 L219.2 36.2 M80.7 20.7 L85.2 21.1 L89.9 20.7 L93.2 19.4 L94.2 18.1 L93.8 16.8 L93.0 16.2 L91.9 15.5 L89.1 14.8 L86.5 14.4 L84.0 14.4 L80.1 14.9 L77.8 15.5 L76.2 16.6 L75.9 16.8 L75.7 18.1 L77.0 19.4 L80.7 20.7 " fill="none" stroke="#f05a5a" stroke-width="1.25"/>
<path d="M91.7 142.1 L84.0 140.9 L77.5 139.3 L71.2 136.9 L66.5 134.3 L64.6 132.9 L62.0 130.4 L59.9 127.9 L59.2 126.6 L58.9 125.3 L58.9 124.0 L59.3 122.7 L60.0 121.4 L61.0 120.1 L63.3 118.1 L64.6 117.4 L67.2 116.3 L71.0 115.4 L73.6 115.3 L76.2 115.4 L82.7 116.4 L86.5 117.4 L90.4 118.7 L97.0 121.4 L104.1 125.3 L107.6 127.9 L109.0 129.2 L111.1 131.8 L111.8 133.0 L112.1 134.3 L112.2 135.6 L111.9 136.9 L111.1 138.2 L109.7 139.5 L107.2 140.8 L103.3 141.8 L98.2 142.3 L91.7 142.1 M271.2 129.2 L268.7 128.8 L266.1 127.9 L263.7 126.6 L262.2 125.3 L261.2 124.0 L260.6 122.7 L260.2 121.4 L260.1 120.1 L260.4 118.8 L261.1 117.5 L262.3 116.2 L264.4 115.0 L266.1 114.2 L271.2 112.9 L282.9 111.4 L284.2 111.1 L286.4 109.8 L287.1 108.5 L287.1 107.2 L286.7 105.9 L285.9 104.6 L281.5 99.5 L280.8 98.2 L280.4 96.9 L280.2 95.6 L280.4 94.3 L281.0 93.0 L282.2 91.7 L284.2 90.4 L285.5 90.0 L288.0 89.5 L290.6 89.5 L294.5 90.3 L297.5 91.7 L301.0 94.0 L304.2 96.9 L306.7 99.5 L308.5 102.0 L309.1 103.3 L309.4 104.6 L309.3 107.2 L308.3 109.8 L307.6 111.1 L306.1 113.0 L304.1 115.0 L291.6 124.0 L286.8 126.8 L282.9 128.2 L279.0 129.1 L275.1 129.4 L271.2 129.2 M178.2 126.1 L177.4 125.3 L178.2 124.5 L179.5 124.1 L180.8 124.2 L182.4 125.3 L180.8 126.4 L179.5 126.5 L178.2 126.1 M191.2 115.1 L189.9 114.7 L188.6 114.1 L187.9 113.7 L187.0 112.4 L187.3 110.9 L188.2 109.8 L189.9 108.9 L192.5 108.3 L195.0 108.4 L196.3 108.6 L197.6 109.1 L198.8 109.8 L199.7 111.1 L199.5 112.4 L198.3 113.7 L197.6 114.1 L195.0 115.0 L192.5 115.2 L191.2 115.1 M218.3 109.8 L215.7 108.6 L214.4 107.6 L213.1 105.9 L212.6 104.6 L212.1 102.0 L212.3 99.5 L213.1 96.9 L214.4 94.6 L215.8 93.0 L218.3 91.1 L219.6 90.4 L222.2 89.5 L224.8 89.3 L227.3 89.6 L229.7 90.4 L231.2 91.3 L232.5 92.4 L234.1 94.3 L235.1 96.5 L235.5 98.2 L235.7 99.5 L235.5 102.0 L234.6 104.6 L233.9 105.9 L232.8 107.2 L231.2 108.4 L227.8 109.8 L223.5 110.4 L220.9 110.3 L218.3 109.8 M14.2 106.0 L11.1 104.6 L9.7 103.3 L9.1 102.0 L9.1 100.8 L9.6 99.5 L10.6 98.2 L12.9 96.6 L14.2 96.1 L16.8 95.6 L19.4 95.8 L20.7 96.2 L22.0 96.9 L23.3 98.2 L24.1 99.5 L24.5 100.8 L24.5 102.0 L24.0 103.3 L23.0 104.6 L20.8 105.9 L19.4 106.3 L16.8 106.4 L14.2 106.0 M151.1 87.8 L146.0 87.4 L140.8 86.2 L136.9 84.6 L134.3 82.9 L132.9 81.4 L132.2 80.1 L132.0 78.8 L132.3 77.5 L133.1 76.2 L134.3 74.9 L136.3 73.6 L138.2 72.7 L143.3 71.0 L149.8 69.8 L161.5 68.3 L164.9 67.2 L166.3 65.9 L166.6 65.3 L168.2 59.4 L169.4 56.8 L170.3 55.5 L171.8 54.1 L173.4 53.0 L175.7 51.9 L178.2 51.2 L180.8 51.2 L182.1 51.3 L184.7 52.1 L186.3 53.0 L188.0 54.2 L189.0 55.5 L189.7 56.8 L190.1 58.1 L190.2 59.4 L190.0 60.7 L189.6 62.0 L188.8 63.3 L187.7 64.6 L186.0 66.0 L183.4 67.6 L178.7 69.8 L176.5 71.0 L175.5 72.3 L175.0 73.6 L174.4 77.5 L174.0 78.8 L173.3 80.1 L172.4 81.4 L171.1 82.7 L167.9 84.7 L165.3 85.9 L162.8 86.7 L157.6 87.6 L151.1 87.8 M54.3 76.2 L48.0 74.9 L43.9 73.6 L41.7 72.3 L40.5 71.0 L40.1 69.8 L40.2 68.5 L40.6 67.2 L42.0 64.6 L45.1 60.7 L47.8 58.2 L50.4 56.2 L53.0 54.8 L55.5 54.0 L56.8 53.8 L59.4 53.9 L63.3 55.0 L67.2 55.8 L69.7 56.8 L71.0 57.9 L72.3 59.3 L73.3 60.7 L73.8 62.0 L74.2 64.6 L74.0 67.2 L73.3 69.8 L72.3 71.7 L71.0 73.6 L69.8 74.8 L68.5 75.7 L67.2 76.3 L64.6 76.9 L60.7 77.1 L54.3 76.2 M232.5 66.0 L228.6 64.8 L226.0 63.4 L223.5 61.3 L222.2 59.4 L221.6 58.1 L221.4 56.8 L221.5 55.5 L221.8 54.2 L222.5 53.0 L223.4 51.7 L224.7 50.4 L227.3 48.5 L231.2 46.7 L235.1 45.6 L240.2 45.0 L244.1 45.2 L248.0 46.1 L250.6 47.5 L252.4 49.1 L253.3 50.4 L253.9 51.7 L254.2 53.0 L254.2 55.5 L253.4 58.1 L252.7 59.4 L250.6 62.0 L248.9 63.3 L246.7 64.6 L245.4 65.1 L242.8 65.9 L240.2 66.4 L237.7 66.5 L235.1 66.4 L232.5 66.0 M310.0 56.6 L309.4 54.2 L309.3 53.0 L309.5 50.4 L310.0 48.9 M96.9 53.0 L89.1 52.3 L81.4 50.7 L74.9 48.7 L68.5 45.6 L62.5 43.9 L59.4 42.7 L56.8 41.5 L54.4 40.0 L52.7 38.8 L51.6 37.5 L51.1 36.2 L51.5 34.9 L53.4 33.6 L56.8 32.8 L60.7 32.5 L65.9 32.5 L78.8 33.2 L86.5 33.3 L108.5 32.9 L112.4 32.6 L116.2 31.9 L120.1 30.4 L122.7 28.8 L125.3 26.6 L131.8 20.2 L134.3 17.8 L138.2 14.9 L142.1 12.5 L148.5 9.5 L153.7 7.6 L160.2 5.9 L166.6 4.8 L174.4 4.0 L183.4 3.6 L192.5 3.7 L202.8 4.3 L212.3 5.2 L220.5 6.5 L225.2 7.8 L227.4 9.0 L227.3 10.3 L224.9 11.6 L220.2 12.9 L210.5 15.1 L206.1 16.8 L204.1 18.1 L200.2 22.0 L197.0 24.5 L192.5 27.1 L187.3 29.3 L183.4 30.3 L179.5 30.7 L170.5 31.3 L156.3 31.6 L152.4 32.0 L149.8 32.5 L146.0 33.7 L142.1 35.6 L138.2 38.1 L130.2 43.9 L126.6 46.3 L122.7 48.4 L118.8 50.0 L113.7 51.6 L108.5 52.6 L103.3 53.0 L96.9 53.0 M0.0 48.9 L1.3 46.9 L2.6 45.9 L3.9 45.4 L5.2 45.2 L6.5 45.3 L7.8 45.8 L8.7 46.5 L9.9 47.8 L10.5 49.1 L10.9 50.4 L11.3 53.0 L11.2 55.5 L10.5 58.1 L9.0 60.3 L7.8 61.2 L6.5 61.6 L5.2 61.6 L3.9 61.2 L2.6 60.4 L1.6 59.4 L0.7 58.1 L0.0 56.6 M69.8 126.6 L68.3 125.3 L69.8 124.1 L71.0 123.8 L72.3 123.7 L74.9 123.9 L76.2 124.5 L77.2 125.3 L76.2 126.6 L74.9 126.9 L72.3 127.1 L69.8 126.6 M272.5 124.1 L270.1 122.7 L269.4 121.4 L269.7 120.1 L270.0 119.9 L271.2 118.8 L272.5 118.3 L276.4 117.6 L280.3 117.8 L283.3 118.8 L284.4 120.1 L284.1 121.4 L282.9 122.7 L280.3 123.9 L276.4 124.5 L273.8 124.4 L272.5 124.1 M149.8 81.4 L146.7 80.1 L145.8 78.8 L146.1 77.5 L147.9 76.2 L148.5 75.9 L152.4 75.0 L156.3 75.0 L158.9 75.6 L160.1 76.2 L161.0 77.5 L160.8 78.8 L160.2 79.5 L159.6 80.1 L157.6 81.0 L156.3 81.4 L153.7 81.7 L149.8 81.4 M51.7 71.1 L49.0 69.8 L47.8 68.5 L47.5 67.2 L47.6 65.9 L48.2 64.6 L49.2 63.3 L51.7 61.5 L53.4 60.7 L55.5 60.2 L56.8 60.2 L59.4 60.5 L60.7 60.9 L62.9 62.0 L64.3 63.3 L65.1 64.6 L65.5 65.9 L65.5 67.2 L65.0 68.5 L64.0 69.8 L62.1 71.0 L59.4 71.8 L56.8 71.9 L54.2 71.7 L51.7 71.1 M177.0 62.2 L175.7 61.6 L174.8 60.7 L174.4 59.4 L174.6 58.1 L175.5 56.8 L177.0 55.8 L177.7 55.5 L179.5 55.3 L181.0 55.5 L182.1 56.2 L182.9 56.8 L183.5 58.1 L183.4 58.9 L183.4 59.4 L182.5 60.7 L180.8 61.9 L179.5 62.3 L178.2 62.4 L177.0 62.2 M232.5 62.3 L229.9 61.2 L228.6 60.3 L227.6 59.4 L226.6 58.1 L226.1 56.8 L225.9 55.5 L226.0 54.2 L226.6 53.0 L227.5 51.7 L229.9 49.7 L232.5 48.4 L235.1 47.6 L239.0 47.1 L241.5 47.2 L244.1 47.7 L246.7 48.8 L248.7 50.4 L249.7 51.7 L250.2 53.0 L250.4 54.2 L250.3 55.5 L249.9 56.8 L249.2 58.1 L248.1 59.4 L246.5 60.7 L244.0 62.0 L240.2 62.9 L236.4 63.0 L232.5 62.3 M95.6 49.1 L91.7 48.5 L87.8 47.4 L84.0 45.9 L80.2 43.9 L76.7 41.3 L75.8 40.0 L76.2 38.8 L77.5 38.2 L80.1 37.4 L89.5 36.2 L98.2 35.7 L112.4 35.9 L116.2 35.8 L120.1 35.4 L124.0 34.4 L126.6 33.2 L127.9 32.2 L130.5 29.5 L134.4 24.5 L136.8 22.0 L139.8 19.4 L141.6 18.1 L146.0 15.7 L149.8 14.1 L155.0 12.3 L161.5 10.6 L166.6 9.5 L171.8 8.7 L177.0 8.2 L183.4 7.9 L189.9 8.1 L196.3 8.8 L198.1 9.0 L200.8 10.3 L200.2 11.6 L197.6 13.7 L196.3 15.2 L194.6 19.4 L194.0 20.7 L193.0 22.0 L191.7 23.2 L189.8 24.5 L186.0 26.3 L183.4 27.2 L180.8 27.7 L174.4 28.6 L166.6 28.9 L152.4 28.5 L148.5 28.8 L144.7 29.6 L139.5 31.3 L135.6 33.1 L133.0 34.6 L130.5 36.4 L123.6 42.6 L119.7 45.2 L117.0 46.5 L112.4 48.1 L107.2 49.1 L102.0 49.4 L95.6 49.1 M233.8 59.5 L231.4 58.1 L230.3 56.8 L229.9 55.5 L229.9 54.2 L230.5 53.0 L231.7 51.7 L233.8 50.4 L235.1 49.9 L237.7 49.4 L240.2 49.4 L241.5 49.7 L244.1 50.7 L245.4 51.7 L246.3 53.0 L246.6 54.2 L246.4 55.5 L245.8 56.8 L244.7 58.1 L242.8 59.3 L241.5 59.8 L239.0 60.2 L236.4 60.2 L233.8 59.5 M96.9 45.3 L95.6 45.0 L92.5 43.9 L90.9 42.6 L90.7 41.3 L92.5 40.0 L93.0 39.9 L95.6 39.3 L98.2 39.0 L103.3 39.1 L105.9 39.4 L109.4 40.0 L111.7 41.3 L111.7 42.6 L110.1 43.9 L106.4 45.2 L102.0 45.7 L99.5 45.6 L96.9 45.3 M162.8 26.0 L157.6 25.2 L152.4 24.2 L149.4 23.2 L148.4 22.0 L148.8 20.7 L150.0 19.4 L152.4 17.9 L154.7 16.8 L157.6 15.8 L162.8 14.4 L167.9 13.5 L173.1 13.1 L177.0 13.2 L180.8 13.8 L183.4 14.7 L184.7 15.5 L186.0 16.8 L186.7 18.1 L186.9 19.4 L186.6 20.7 L185.7 22.0 L184.0 23.2 L181.2 24.5 L177.0 25.6 L173.1 26.1 L167.9 26.3 L162.8 26.0 M236.4 56.3 L235.2 55.5 L235.1 54.2 L236.4 53.0 L237.7 52.6 L239.0 52.6 L240.2 52.9 L241.5 54.2 L241.1 55.5 L240.2 56.2 L239.0 56.7 L237.7 56.8 L236.4 56.3 M165.3 22.1 L164.9 22.0 L163.2 20.7 L163.9 19.4 L167.5 18.1 L170.5 17.8 L173.1 18.0 L174.4 18.3 L176.4 19.4 L176.6 20.7 L174.4 22.0 L170.5 22.6 L167.9 22.5 L165.3 22.1" fill="none" stroke="#5e5ef4" stroke-width="1.25" stroke-dasharray="2.2 0.95"/>
</g></g>
<rect x="367.3" y="218.2" width="310.9" height="154.9" fill="none" stroke="#767676" stroke-width="1"/>
<line x1="362.30" y1="218.20" x2="367.30" y2="218.20" class="tk"/>
<text x="356.8" y="221.4" class="lab" text-anchor="end">90N</text>
<line x1="362.30" y1="244.02" x2="367.30" y2="244.02" class="tk"/>
<text x="356.8" y="247.2" class="lab" text-anchor="end">60N</text>
<line x1="362.30" y1="269.83" x2="367.30" y2="269.83" class="tk"/>
<text x="356.8" y="273.0" class="lab" text-anchor="end">30N</text>
<line x1="362.30" y1="295.65" x2="367.30" y2="295.65" class="tk"/>
<text x="356.8" y="298.8" class="lab" text-anchor="end">0</text>
<line x1="362.30" y1="321.47" x2="367.30" y2="321.47" class="tk"/>
<text x="356.8" y="324.7" class="lab" text-anchor="end">30S</text>
<line x1="362.30" y1="347.28" x2="367.30" y2="347.28" class="tk"/>
<text x="356.8" y="350.5" class="lab" text-anchor="end">60S</text>
<line x1="362.30" y1="373.10" x2="367.30" y2="373.10" class="tk"/>
<text x="356.8" y="376.3" class="lab" text-anchor="end">90S</text>
<line x1="367.30" y1="373.10" x2="367.30" y2="378.10" class="tk"/>
<text x="367.3" y="389.9" class="lab" text-anchor="middle">180</text>
<line x1="419.12" y1="373.10" x2="419.12" y2="378.10" class="tk"/>
<text x="419.1" y="389.9" class="lab" text-anchor="middle">120W</text>
<line x1="470.93" y1="373.10" x2="470.93" y2="378.10" class="tk"/>
<text x="470.9" y="389.9" class="lab" text-anchor="middle">60W</text>
<line x1="522.75" y1="373.10" x2="522.75" y2="378.10" class="tk"/>
<text x="522.8" y="389.9" class="lab" text-anchor="middle">0</text>
<line x1="574.57" y1="373.10" x2="574.57" y2="378.10" class="tk"/>
<text x="574.6" y="389.9" class="lab" text-anchor="middle">60E</text>
<line x1="626.38" y1="373.10" x2="626.38" y2="378.10" class="tk"/>
<text x="626.4" y="389.9" class="lab" text-anchor="middle">120E</text>
<line x1="678.20" y1="373.10" x2="678.20" y2="378.10" class="tk"/>
<text x="678.2" y="389.9" class="lab" text-anchor="middle">180</text>
<text x="522.8" y="215.7" class="pt" text-anchor="middle">Lag = 7 pentads</text>
<g fill="none" stroke="#1b2233" stroke-width="1.7" stroke-linecap="round">
<path d="M409.4 131.0 C411.4 129.2 417.2 123.8 421.5 120.2 C425.8 116.6 430.9 112.2 434.9 109.5 C438.9 106.8 442.1 105.4 445.7 104.1 C449.3 102.8 454.6 101.9 456.4 101.4"/>
<path d="M456.4 101.4 C457.8 98.7 461.8 89.8 464.5 85.3 C467.2 80.8 469.4 77.7 472.5 74.6 C475.6 71.5 479.3 69.0 483.3 66.5 C487.3 64.0 491.8 61.5 496.7 59.8 C501.6 58.1 507.4 56.9 512.8 56.3 C518.2 55.7 524.1 55.9 529.0 56.3 C533.9 56.6 538.4 57.1 542.4 58.4 C546.4 59.6 550.1 61.9 553.1 63.8 C556.1 65.7 559.3 68.8 560.5 69.8"/>
<path d="M480.6 145.0 C482.4 144.7 488.2 144.5 491.3 143.1 C494.4 141.7 497.4 139.2 499.4 136.3 C501.4 133.4 502.0 129.4 503.4 125.6 C504.8 121.8 505.9 116.8 507.5 113.5 C509.1 110.2 510.6 107.5 512.8 105.5 C515.0 103.5 518.2 102.3 520.9 101.6 C523.6 100.9 527.6 101.2 529.0 101.1"/>
<path d="M456.4 101.4 L629 99.8"/>
</g>
<path d="M563.0 72.0 L554.7 68.6 L559.1 68.1 L559.6 63.7Z" fill="#1b2233"/>
<path d="M634.3 99.5 L626.1 103.2 L628.8 99.7 L625.9 96.2Z" fill="#1b2233"/>
</g>
</svg></body></html>
